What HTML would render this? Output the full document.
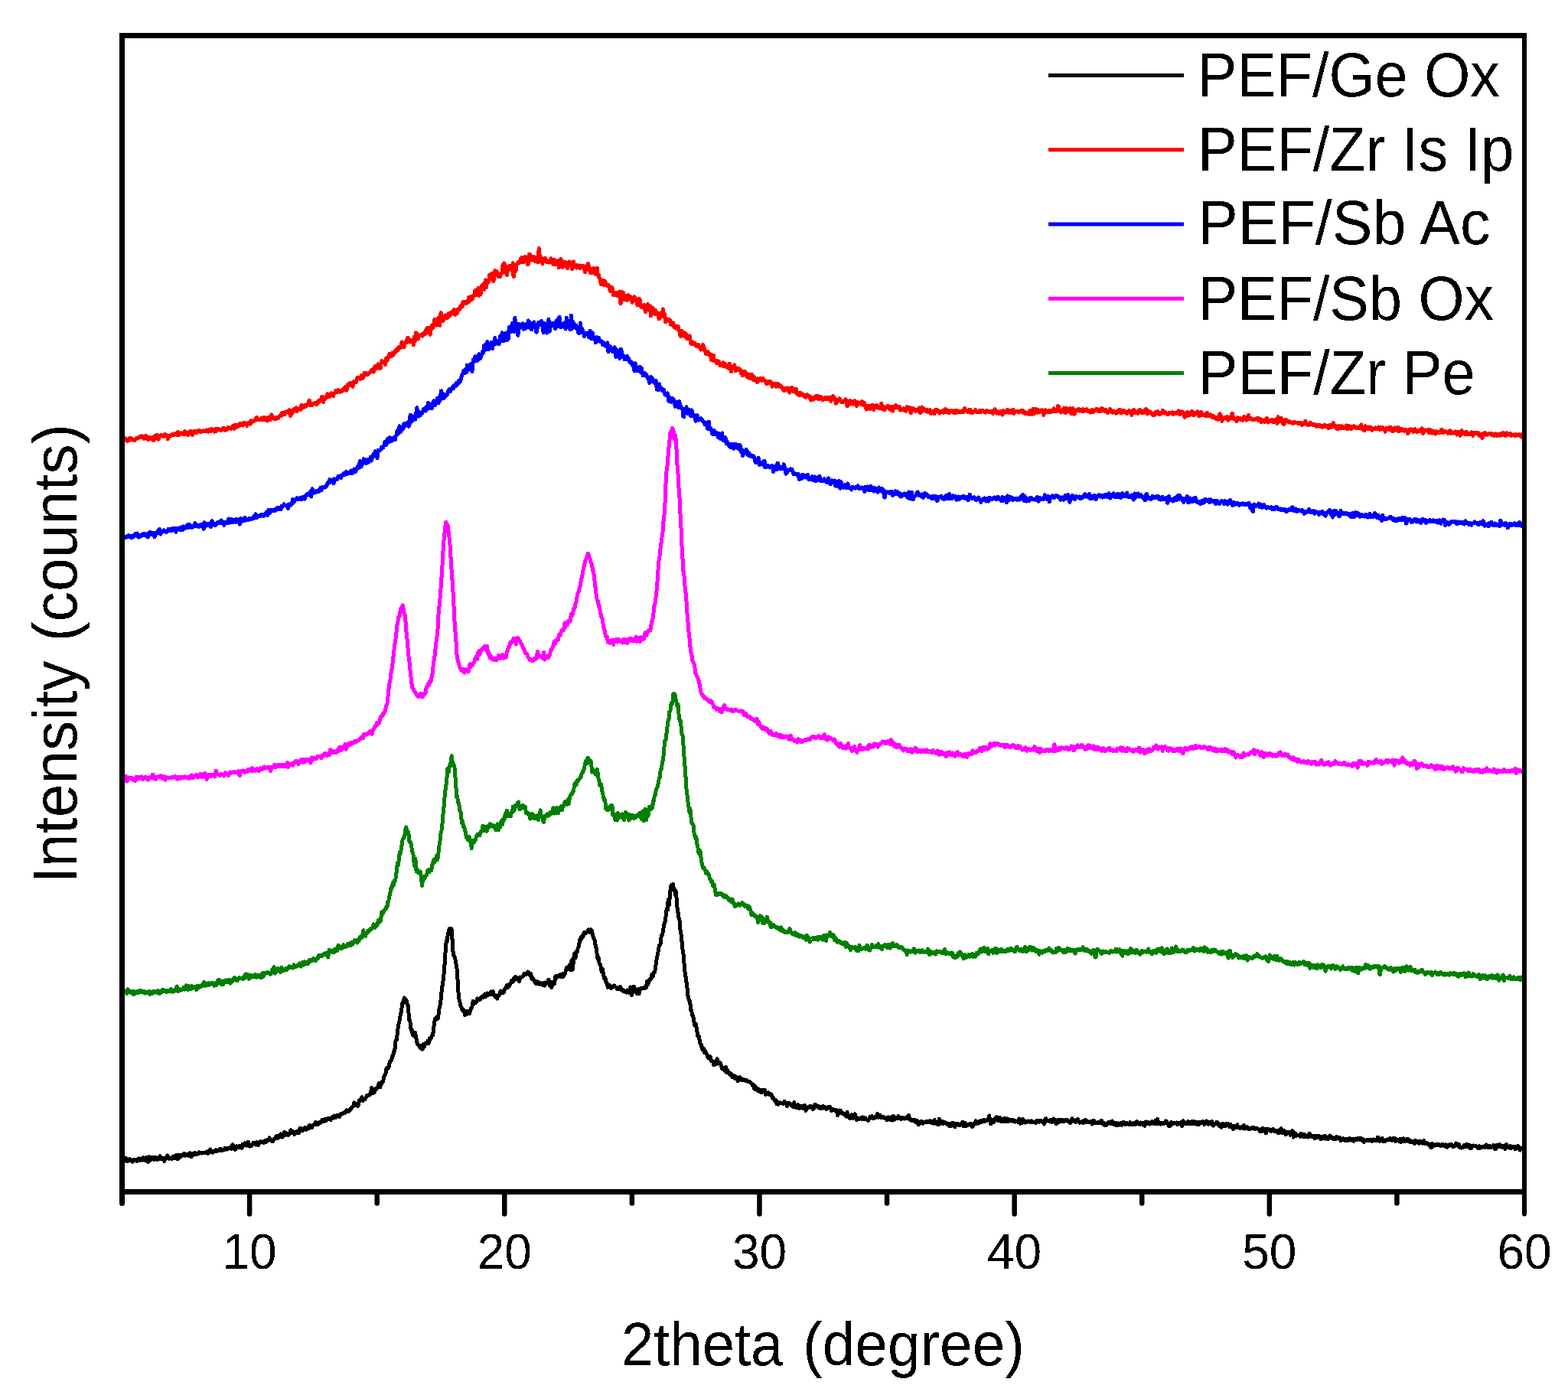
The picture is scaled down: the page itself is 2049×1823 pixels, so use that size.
<!DOCTYPE html>
<html><head><meta charset="utf-8"><title>XRD patterns</title>
<style>html,body{margin:0;padding:0;background:#fff;}body{width:2049px;height:1823px;overflow:hidden;}svg{display:block;}</style>
</head><body>
<svg width="2049" height="1823" viewBox="0 0 2049 1823" font-family="'Liberation Sans', Arial, sans-serif" fill="#000">
<defs><filter id="crisp" filterUnits="userSpaceOnUse" x="0" y="0" width="2049" height="1823"><feComponentTransfer><feFuncA type="discrete" tableValues="0 1"/></feComponentTransfer></filter></defs>
<rect width="2049" height="1823" fill="#fff"/>
<g fill="none" stroke-width="5" stroke-linejoin="round" stroke-linecap="round" shape-rendering="crispEdges">
<polyline stroke="#000000" points="160,1515.1 160.7,1515 161.3,1516.2 162,1514.2 162.7,1513.1 163.3,1516.5 164,1516 164.7,1513.7 165.3,1516.6 166,1517.8 166.7,1515.9 167.3,1515.8 168,1516.2 168.7,1515.8 169.3,1514.6 170,1515.6 170.7,1516.8 171.3,1516.2 172,1516.6 172.7,1516.6 173.3,1518.2 174,1517.5 174.7,1515.3 175.3,1515.9 176,1515.5 176.7,1515.7 177.3,1515.4 178,1515.9 178.7,1517.3 179.3,1515.7 180,1514.7 180.7,1515.2 181.3,1514 182,1515.5 182.7,1516.6 183.3,1514.6 184,1515 184.7,1515.2 185.3,1516 186,1516.1 186.7,1513 187.3,1512.9 188,1514.5 188.7,1515.1 189.3,1516.5 190,1516.9 190.7,1515.4 191.3,1512.7 192,1512.1 192.7,1517.9 193.4,1518.6 194,1515.5 194.7,1514 195.4,1511.7 196,1514.1 196.7,1516.1 197.4,1514.9 198,1514.4 198.7,1513.5 199.4,1513 200,1512.1 200.7,1513.6 201.4,1515.6 202,1513.8 202.7,1514.3 203.4,1514.6 204,1512.6 204.7,1513.3 205.4,1515.9 206,1513.6 206.7,1513.1 207.4,1514.4 208,1512.5 208.7,1510.8 209.4,1511.5 210,1514.2 210.7,1514.5 211.4,1514.9 212,1514.3 212.7,1513 213.4,1513 214,1515.5 214.7,1517.4 215.4,1514.8 216,1513.2 216.7,1513 217.4,1513.5 218,1512 218.7,1510 219.4,1511.5 220,1512.4 220.7,1513.2 221.4,1514.1 222,1513.3 222.7,1513 223.4,1513.2 224,1513.4 224.7,1514.3 225.4,1512.8 226,1511.5 226.7,1511.4 227.4,1511 228,1512.4 228.7,1513.5 229.4,1513.3 230,1510.3 230.7,1509.4 231.4,1510.4 232,1514.8 232.7,1514.7 233.4,1509.8 234,1510.3 234.7,1509.2 235.4,1510.4 236,1512 236.7,1510.1 237.4,1509.8 238,1509.2 238.7,1509.3 239.4,1510 240,1507.9 240.7,1507.3 241.4,1509.1 242,1510.3 242.7,1509.8 243.4,1509.7 244,1509.7 244.7,1508.4 245.4,1508.2 246,1508.9 246.7,1510.4 247.4,1509.4 248,1506.8 248.7,1507.9 249.4,1510.9 250,1511.9 250.7,1510.3 251.4,1507.6 252,1507.8 252.7,1509.5 253.4,1507.8 254,1507.3 254.7,1506.4 255.4,1507.1 256,1509 256.7,1508.9 257.4,1508.9 258,1507.7 258.7,1507.7 259.4,1507.5 260.1,1505.9 260.7,1506.1 261.4,1506.9 262.1,1506.6 262.7,1506.7 263.4,1507.1 264.1,1506.3 264.7,1506.2 265.4,1506.4 266.1,1506.6 266.7,1506.3 267.4,1506.4 268.1,1506.6 268.7,1505.9 269.4,1506.2 270.1,1506 270.7,1505.1 271.4,1507.3 272.1,1506.5 272.7,1503.8 273.4,1504.9 274.1,1503.1 274.7,1502 275.4,1504.6 276.1,1506 276.7,1505.4 277.4,1505.9 278.1,1506.1 278.7,1504.4 279.4,1504 280.1,1504 280.7,1504.2 281.4,1504.1 282.1,1502.7 282.7,1503.8 283.4,1504.9 284.1,1504.2 284.7,1503.9 285.4,1503.9 286.1,1503.6 286.7,1503 287.4,1501.4 288.1,1501.3 288.7,1503.4 289.4,1503.6 290.1,1503.4 290.7,1502.9 291.4,1503.2 292.1,1502 292.7,1501.8 293.4,1502.6 294.1,1500.2 294.7,1500.5 295.4,1501.6 296.1,1501.1 296.7,1502 297.4,1501 298.1,1500.2 298.7,1500.9 299.4,1500.6 300.1,1500.6 300.7,1499.5 301.4,1499.4 302.1,1501.2 302.7,1500.3 303.4,1496.5 304.1,1495.6 304.7,1498.2 305.4,1501.7 306.1,1499.9 306.7,1500.5 307.4,1502.3 308.1,1498.1 308.7,1497.8 309.4,1498.1 310.1,1498.5 310.7,1499.1 311.4,1498.2 312.1,1497.5 312.7,1498.7 313.4,1499.7 314.1,1498.5 314.7,1497.6 315.4,1498.1 316.1,1500.2 316.7,1498.2 317.4,1495.1 318.1,1496.1 318.7,1496.9 319.4,1495.5 320.1,1493.7 320.7,1494.4 321.4,1495.8 322.1,1496.7 322.7,1497 323.4,1494.2 324.1,1492.1 324.7,1494 325.4,1496.7 326.1,1498 326.8,1496.6 327.4,1496.2 328.1,1497.8 328.8,1496.4 329.4,1495.3 330.1,1495.1 330.8,1493.6 331.4,1493.8 332.1,1493.2 332.8,1493.3 333.4,1495.2 334.1,1496 334.8,1495.1 335.4,1492.6 336.1,1493.7 336.8,1495.7 337.4,1496.3 338.1,1495.4 338.8,1493.5 339.4,1493 340.1,1491.8 340.8,1491.4 341.4,1492.5 342.1,1492.4 342.8,1492.2 343.4,1492.3 344.1,1491.8 344.8,1493.6 345.4,1492.7 346.1,1490.5 346.8,1490.3 347.4,1491.8 348.1,1492.4 348.8,1490.4 349.4,1489.5 350.1,1489.8 350.8,1490.2 351.4,1488.9 352.1,1486.8 352.8,1487.5 353.4,1489.5 354.1,1489.6 354.8,1490.5 355.4,1491.6 356.1,1491.8 356.8,1491 357.4,1489.2 358.1,1488.3 358.8,1488 359.4,1487.6 360.1,1485.7 360.8,1486.4 361.4,1487.5 362.1,1484.5 362.8,1484.7 363.4,1487.1 364.1,1486.8 364.8,1486 365.4,1486.1 366.1,1485.3 366.8,1481.9 367.4,1482.7 368.1,1485.4 368.8,1486 369.4,1485.6 370.1,1485 370.8,1482.4 371.4,1479.3 372.1,1481.8 372.8,1483.2 373.4,1481.3 374.1,1480.6 374.8,1481.7 375.4,1482.2 376.1,1482.3 376.8,1483.6 377.4,1483 378.1,1480.9 378.8,1481 379.4,1477.4 380.1,1476.9 380.8,1480.5 381.4,1480.3 382.1,1478.7 382.8,1478.8 383.4,1480.6 384.1,1480.8 384.8,1482.3 385.4,1481.4 386.1,1479.6 386.8,1479.5 387.4,1478.4 388.1,1479.5 388.8,1480.5 389.4,1480.8 390.1,1480.9 390.8,1480.4 391.4,1478.4 392.1,1474.1 392.8,1474.3 393.5,1476.6 394.1,1477.5 394.8,1477.4 395.5,1476.8 396.1,1477.3 396.8,1475.5 397.5,1475.1 398.1,1474.6 398.8,1473.5 399.5,1475.5 400.1,1476.2 400.8,1475.3 401.5,1474.3 402.1,1475.1 402.8,1474.8 403.5,1471.5 404.1,1471.1 404.8,1470.5 405.5,1471.5 406.1,1472.6 406.8,1473.8 407.5,1473.9 408.1,1470.9 408.8,1471.3 409.5,1471 410.1,1470.3 410.8,1469.1 411.5,1468.7 412.1,1467.2 412.8,1466.4 413.5,1469.8 414.1,1469.6 414.8,1467.4 415.5,1467.8 416.1,1469.1 416.8,1468 417.5,1466.2 418.1,1466.7 418.8,1467.3 419.5,1466.7 420.1,1464.9 420.8,1463.5 421.5,1464.6 422.1,1465.5 422.8,1465.9 423.5,1465.8 424.1,1464.2 424.8,1462.2 425.5,1463.3 426.1,1464.5 426.8,1463.2 427.5,1462.9 428.1,1462.3 428.8,1461.4 429.5,1461.5 430.1,1461.6 430.8,1461.7 431.5,1463.2 432.1,1463.5 432.8,1461.4 433.5,1460 434.1,1461.6 434.8,1461.4 435.5,1460.4 436.1,1459 436.8,1458 437.5,1459.2 438.1,1459.8 438.8,1460.7 439.5,1458.8 440.1,1457.6 440.8,1458.6 441.5,1457.1 442.1,1457.5 442.8,1458.4 443.5,1459.3 444.1,1458.1 444.8,1455.8 445.5,1455.9 446.1,1455.9 446.8,1456.1 447.5,1455.5 448.1,1454.6 448.8,1454.2 449.5,1453.9 450.1,1454.7 450.8,1454.5 451.5,1452.7 452.1,1451.8 452.8,1450.8 453.5,1452.8 454.1,1452.5 454.8,1451.2 455.5,1451.2 456.1,1452.3 456.8,1450.7 457.5,1449.3 458.1,1450.3 458.8,1448.1 459.5,1447.4 460.2,1447.3 460.8,1446.2 461.5,1445.5 462.2,1444.4 462.8,1440.9 463.5,1441.5 464.2,1443.6 464.8,1444.1 465.5,1443.2 466.2,1442.1 466.8,1445.3 467.5,1445.3 468.2,1444.1 468.8,1441.4 469.5,1437.8 470.2,1437.7 470.8,1438 471.5,1437 472.2,1435.9 472.8,1433.9 473.5,1436.3 474.2,1438.5 474.8,1436.6 475.5,1436.4 476.2,1436.4 476.8,1436.8 477.5,1435.6 478.2,1434.4 478.8,1432.8 479.5,1431.7 480.2,1432 480.8,1431.5 481.5,1431.3 482.2,1431.3 482.8,1430.8 483.5,1429.7 484.2,1430.4 484.8,1427 485.5,1421.4 486.2,1422.2 486.8,1426.7 487.5,1428.2 488.2,1426.9 488.8,1428.1 489.5,1426.2 490.2,1424.9 490.8,1424.3 491.5,1422 492.2,1422.3 492.8,1422.4 493.5,1420.6 494.2,1419 494.8,1416.8 495.5,1415.5 496.2,1419.7 496.8,1420.9 497.5,1417.2 498.2,1415.5 498.8,1415.8 499.5,1413.6 500.2,1414 500.8,1413.1 501.5,1407.7 502.2,1406.2 502.8,1405.6 503.5,1404 504.2,1402.1 504.8,1397.3 505.5,1395.2 506.2,1397.4 506.8,1395.8 507.5,1395.4 508.2,1393.7 508.8,1390.4 509.5,1387.8 510.2,1387 510.8,1386.7 511.5,1384.9 512.2,1382.8 512.8,1379.9 513.5,1379.4 514.2,1377.4 514.8,1374.2 515.5,1373.9 516.2,1369.1 516.8,1361.5 517.5,1359.5 518.2,1359.4 518.8,1355.4 519.5,1348.3 520.2,1342.3 520.8,1338.8 521.5,1336.6 522.2,1332.9 522.8,1329.5 523.5,1325.3 524.2,1322.7 524.8,1319 525.5,1312.4 526.2,1310 526.9,1311.6 527.5,1308.6 528.2,1303.9 528.9,1306.5 529.5,1307 530.2,1307.1 530.9,1306.4 531.5,1308.8 532.2,1312.9 532.9,1312.4 533.5,1317.1 534.2,1326.4 534.9,1332.8 535.5,1333.9 536.2,1337.1 536.9,1344.3 537.5,1346.8 538.2,1345.6 538.9,1349.9 539.5,1352.8 540.2,1352.3 540.9,1353.4 541.5,1351.8 542.2,1349.1 542.9,1351.8 543.5,1356.1 544.2,1358.4 544.9,1362 545.5,1363.9 546.2,1365.3 546.9,1366.4 547.5,1366.7 548.2,1368.2 548.9,1367.3 549.5,1366.1 550.2,1369.4 550.9,1370.8 551.5,1370.8 552.2,1371.2 552.9,1365.4 553.5,1364.8 554.2,1367.9 554.9,1364.9 555.5,1363.3 556.2,1363.7 556.9,1363 557.5,1363.2 558.2,1361.8 558.9,1360.6 559.5,1361.5 560.2,1363.5 560.9,1361.3 561.5,1356.8 562.2,1356.8 562.9,1357.2 563.5,1356.3 564.2,1354.4 564.9,1353.5 565.5,1353.1 566.2,1348.3 566.9,1341.9 567.5,1337.3 568.2,1333.8 568.9,1330.9 569.5,1330.2 570.2,1329.9 570.9,1329.7 571.5,1331.4 572.2,1330.9 572.9,1326.9 573.5,1321.3 574.2,1316.5 574.9,1314.5 575.5,1310.8 576.2,1305.5 576.9,1297.9 577.5,1290.9 578.2,1287.8 578.9,1282.9 579.5,1276.3 580.2,1271.6 580.9,1262.8 581.5,1251.2 582.2,1242.5 582.9,1233.3 583.5,1229.3 584.2,1229.7 584.9,1224 585.5,1219.4 586.2,1218.5 586.9,1214.8 587.5,1213.7 588.2,1214.3 588.9,1213.3 589.5,1214 590.2,1214.3 590.9,1224.8 591.5,1238.7 592.2,1245 592.9,1248.2 593.6,1249.7 594.2,1251.1 594.9,1253.2 595.6,1257.7 596.2,1260.8 596.9,1265.3 597.6,1272.2 598.2,1283.5 598.9,1295.8 599.6,1304 600.2,1306.9 600.9,1309.5 601.6,1313.6 602.2,1315.1 602.9,1316.4 603.6,1318.9 604.2,1320.4 604.9,1320.5 605.6,1319.6 606.2,1319.7 606.9,1322.8 607.6,1326.7 608.2,1325.3 608.9,1323.8 609.6,1325.7 610.2,1323.4 610.9,1321.4 611.6,1322.9 612.2,1323 612.9,1324.9 613.6,1324.4 614.2,1321.3 614.9,1320.7 615.6,1317.5 616.2,1316.6 616.9,1315.5 617.6,1311.1 618.2,1308.1 618.9,1309 619.6,1311.4 620.2,1310.3 620.9,1310.9 621.6,1310.5 622.2,1310.1 622.9,1307.4 623.6,1304.9 624.2,1306.1 624.9,1306.1 625.6,1306.3 626.2,1305.4 626.9,1306.4 627.6,1306 628.2,1304.1 628.9,1302.9 629.6,1303 630.2,1302.7 630.9,1301.8 631.6,1303.4 632.2,1302.7 632.9,1300.3 633.6,1299.1 634.2,1301 634.9,1302.4 635.6,1301.3 636.2,1299.3 636.9,1298 637.6,1300.4 638.2,1299.7 638.9,1299 639.6,1299.8 640.2,1297.7 640.9,1297.3 641.6,1296 642.2,1296.9 642.9,1299.9 643.6,1296.5 644.2,1295.6 644.9,1300.2 645.6,1300.2 646.2,1299.9 646.9,1302.5 647.6,1303 648.2,1300.7 648.9,1302.6 649.6,1305.1 650.2,1303.3 650.9,1301.8 651.6,1301.5 652.2,1301.3 652.9,1298.9 653.6,1297 654.2,1295.3 654.9,1295 655.6,1296.3 656.2,1297.2 656.9,1297.6 657.6,1296.9 658.2,1297.3 658.9,1294.5 659.6,1292.4 660.3,1291.6 660.9,1291 661.6,1290.3 662.3,1287.5 662.9,1287.1 663.6,1288.4 664.3,1290.3 664.9,1289.2 665.6,1288.4 666.3,1287.3 666.9,1284.9 667.6,1284.7 668.3,1282.2 668.9,1281.1 669.6,1282.5 670.3,1283 670.9,1279.4 671.6,1278.5 672.3,1280.7 672.9,1279.4 673.6,1276.3 674.3,1277.5 674.9,1279.3 675.6,1277.6 676.3,1278.3 676.9,1280 677.6,1280.1 678.3,1282.7 678.9,1281.4 679.6,1277 680.3,1277.9 680.9,1277.3 681.6,1277.1 682.3,1276.9 682.9,1275.7 683.6,1275.5 684.3,1273.4 684.9,1272.5 685.6,1274 686.3,1272.6 686.9,1272.6 687.6,1273.8 688.3,1271.9 688.9,1270.7 689.6,1270.1 690.3,1271.2 690.9,1271.9 691.6,1271.2 692.3,1273.8 692.9,1275.2 693.6,1272.7 694.3,1276.1 694.9,1279.1 695.6,1277.5 696.3,1278.5 696.9,1279.5 697.6,1281.2 698.3,1281.5 698.9,1282.8 699.6,1284.3 700.3,1285.2 700.9,1285.8 701.6,1285.1 702.3,1282.8 702.9,1283 703.6,1284.7 704.3,1286 704.9,1286.4 705.6,1285.8 706.3,1284.2 706.9,1285.1 707.6,1285.3 708.3,1285.1 708.9,1287.3 709.6,1287.5 710.3,1285.5 710.9,1284.5 711.6,1288.1 712.3,1286.2 712.9,1284 713.6,1285.6 714.3,1285.2 714.9,1284.9 715.6,1282.9 716.3,1283.3 716.9,1280 717.6,1281.6 718.3,1288 718.9,1286.5 719.6,1285.9 720.3,1286.6 720.9,1290.4 721.6,1287.7 722.3,1283.3 722.9,1285.4 723.6,1286 724.3,1285.7 724.9,1283 725.6,1276.4 726.3,1275.5 727,1278.4 727.6,1275.3 728.3,1275.4 729,1276.5 729.6,1275.2 730.3,1274.3 731,1274.6 731.6,1274.3 732.3,1273.7 733,1276.8 733.6,1276.7 734.3,1273 735,1272.8 735.6,1275.2 736.3,1276.2 737,1273.8 737.6,1273.2 738.3,1272.5 739,1270.1 739.6,1267.9 740.3,1264.7 741,1264.4 741.6,1265.1 742.3,1266.6 743,1264.8 743.6,1262.3 744.3,1261.1 745,1261.5 745.6,1267.8 746.3,1261.7 747,1254.8 747.6,1264 748.3,1267.2 749,1260 749.6,1254 750.3,1246.8 751,1245.8 751.6,1251.7 752.3,1251.4 753,1246.2 753.6,1243.6 754.3,1243.6 755,1240.1 755.6,1238.1 756.3,1236.4 757,1232.6 757.6,1228.9 758.3,1226.6 759,1228.5 759.6,1224.8 760.3,1223.5 761,1224.8 761.6,1224.3 762.3,1222.5 763,1219 763.6,1218.6 764.3,1218.6 765,1219.5 765.6,1219.3 766.3,1218.3 767,1217.7 767.6,1217 768.3,1216 769,1214.7 769.6,1217.1 770.3,1218.4 771,1217.5 771.6,1215.5 772.3,1214.9 773,1215.8 773.6,1216.7 774.3,1221.2 775,1223.2 775.6,1225.4 776.3,1226.7 777,1228.6 777.6,1232.8 778.3,1235.9 779,1238.3 779.6,1242.3 780.3,1248.7 781,1252.7 781.6,1250.8 782.3,1252.5 783,1257.9 783.6,1260.2 784.3,1260.5 785,1262.9 785.6,1266.5 786.3,1270.1 787,1268 787.6,1266.8 788.3,1272.3 789,1275.5 789.6,1278.3 790.3,1277.8 791,1278.3 791.6,1282.1 792.3,1284.2 793,1284.1 793.7,1287.7 794.3,1290.4 795,1288 795.7,1287 796.3,1289.9 797,1288.9 797.7,1288.8 798.3,1291.6 799,1290.4 799.7,1289.3 800.3,1289.3 801,1289 801.7,1288.9 802.3,1287.9 803,1288.1 803.7,1289.9 804.3,1290.1 805,1290.4 805.7,1290.8 806.3,1291.7 807,1292.9 807.7,1290.3 808.3,1290.9 809,1292.7 809.7,1290.1 810.3,1289.5 811,1291.4 811.7,1293.4 812.3,1293.7 813,1292.9 813.7,1294.4 814.3,1295.2 815,1296 815.7,1295.6 816.3,1294.7 817,1295.2 817.7,1296.1 818.3,1297 819,1296.2 819.7,1294 820.3,1294.3 821,1295.9 821.7,1295.9 822.3,1297.7 823,1295.3 823.7,1290 824.3,1292.4 825,1299.5 825.7,1300.5 826.3,1297.1 827,1296.4 827.7,1292.9 828.3,1289.1 829,1292.6 829.7,1294.9 830.3,1295.7 831,1294.6 831.7,1293.1 832.3,1298.3 833,1297.6 833.7,1292.7 834.3,1293.4 835,1298.8 835.7,1297.2 836.3,1292.2 837,1292.9 837.7,1291.9 838.3,1291.1 839,1291 839.7,1291.7 840.3,1291.2 841,1290.7 841.7,1290.9 842.3,1291.8 843,1291 843.7,1288.6 844.3,1290.7 845,1288.9 845.7,1282.3 846.3,1284.6 847,1285.6 847.7,1281.3 848.3,1280.6 849,1280.6 849.7,1279.4 850.3,1280.2 851,1278.8 851.7,1274.6 852.3,1273 853,1275.8 853.7,1275.1 854.3,1270.3 855,1269.5 855.7,1270 856.3,1266 857,1261.3 857.7,1256.9 858.3,1251.7 859,1249.3 859.7,1245.7 860.4,1241.6 861,1238.2 861.7,1235 862.4,1234.6 863,1233.5 863.7,1227.1 864.4,1222.4 865,1221.9 865.7,1220.9 866.4,1217.1 867,1213 867.7,1208.6 868.4,1205.7 869,1204.9 869.7,1200.4 870.4,1195 871,1188.8 871.7,1187.6 872.4,1189.2 873,1178 873.7,1175 874.4,1183.1 875,1175.4 875.7,1165.3 876.4,1160.3 877,1156.8 877.7,1156.4 878.4,1158.3 879,1156.8 879.7,1155.4 880.4,1163.6 881,1163.1 881.7,1162.3 882.4,1169.5 883,1164 883.7,1167.1 884.4,1180.6 885,1185.9 885.7,1190.3 886.4,1195.1 887,1200 887.7,1200.8 888.4,1206 889,1214.9 889.7,1218.9 890.4,1224.3 891,1230.3 891.7,1238.1 892.4,1244.2 893,1247.1 893.7,1255 894.4,1263.3 895,1269.6 895.7,1275 896.4,1278.6 897,1283.3 897.7,1288.8 898.4,1294.1 899,1301.3 899.7,1304.7 900.4,1307.1 901,1307.6 901.7,1308.7 902.4,1317.7 903,1320.5 903.7,1320.5 904.4,1325.4 905,1328 905.7,1328.2 906.4,1330.5 907,1336.1 907.7,1340.2 908.4,1338.4 909,1337.6 909.7,1341 910.4,1344 911,1348.4 911.7,1353.7 912.4,1354.3 913,1353.6 913.7,1356.6 914.4,1360.8 915,1363.6 915.7,1364.6 916.4,1365.6 917,1368.9 917.7,1371.3 918.4,1369.3 919,1369.6 919.7,1373 920.4,1375.2 921,1375.4 921.7,1373.7 922.4,1374.9 923,1376.9 923.7,1377.8 924.4,1380 925,1381.6 925.7,1382.1 926.4,1383 927.1,1382.1 927.7,1380.3 928.4,1381.8 929.1,1385.5 929.7,1386.4 930.4,1386.5 931.1,1386.7 931.7,1387 932.4,1391.7 933.1,1391.6 933.7,1388.5 934.4,1391 935.1,1390.6 935.7,1389.1 936.4,1387 937.1,1383.9 937.7,1387.8 938.4,1390 939.1,1388.2 939.7,1388.3 940.4,1389.6 941.1,1388.9 941.7,1390.2 942.4,1393.1 943.1,1393.6 943.7,1396.5 944.4,1397.1 945.1,1396 945.7,1396.5 946.4,1398.4 947.1,1399.3 947.7,1398 948.4,1394.2 949.1,1396.8 949.7,1401.6 950.4,1398.9 951.1,1399.3 951.7,1402 952.4,1402 953.1,1403.8 953.7,1404.1 954.4,1402.2 955.1,1402.9 955.7,1404.2 956.4,1406.5 957.1,1407.7 957.7,1405.5 958.4,1405.4 959.1,1405.6 959.7,1406.7 960.4,1409.7 961.1,1408 961.7,1407.1 962.4,1408.3 963.1,1408 963.7,1409.5 964.4,1413 965.1,1412 965.7,1409.5 966.4,1409.7 967.1,1407.9 967.7,1408.7 968.4,1409.6 969.1,1410 969.7,1411.8 970.4,1410.4 971.1,1410 971.7,1410.5 972.4,1411.1 973.1,1411.6 973.7,1411.5 974.4,1412.4 975.1,1412.3 975.7,1411.4 976.4,1412.5 977.1,1413.2 977.7,1413.1 978.4,1413.6 979.1,1413.2 979.7,1414.1 980.4,1414.3 981.1,1414.9 981.7,1415.7 982.4,1416.2 983.1,1417.3 983.7,1419.3 984.4,1419.3 985.1,1417.6 985.7,1422.5 986.4,1423.5 987.1,1419.9 987.7,1420.9 988.4,1421.1 989.1,1423.4 989.7,1425.1 990.4,1423.8 991.1,1423.1 991.7,1424 992.4,1426.5 993.1,1426.8 993.8,1427.1 994.4,1425.1 995.1,1424.5 995.8,1427.4 996.4,1427.1 997.1,1424.6 997.8,1425 998.4,1426.2 999.1,1424 999.8,1426.7 1000.4,1430.4 1001.1,1429.1 1001.8,1429.1 1002.4,1429.5 1003.1,1429.1 1003.8,1427.8 1004.4,1427.8 1005.1,1429.4 1005.8,1430.5 1006.4,1430.5 1007.1,1429.6 1007.8,1430.3 1008.4,1431.3 1009.1,1434.2 1009.8,1435.3 1010.4,1434.4 1011.1,1436.2 1011.8,1436.8 1012.4,1437.7 1013.1,1439.2 1013.8,1437.9 1014.4,1440.3 1015.1,1442.6 1015.8,1439.8 1016.4,1442.8 1017.1,1443.1 1017.8,1440.9 1018.4,1441.9 1019.1,1441 1019.8,1440.9 1020.4,1441.5 1021.1,1441.6 1021.8,1441.1 1022.4,1441.3 1023.1,1441.9 1023.8,1442.5 1024.4,1441.9 1025.1,1439.5 1025.8,1441.3 1026.4,1441.8 1027.1,1441.2 1027.8,1443 1028.4,1445.4 1029.1,1444.6 1029.8,1443.4 1030.4,1443.2 1031.1,1441.2 1031.8,1442.8 1032.4,1442.9 1033.1,1442.9 1033.8,1444.4 1034.4,1443.3 1035.1,1443.9 1035.8,1445.1 1036.4,1446.9 1037.1,1444.1 1037.8,1440.5 1038.4,1444.1 1039.1,1445.3 1039.8,1445.1 1040.4,1447.3 1041.1,1447.4 1041.8,1444.2 1042.4,1443.7 1043.1,1445.8 1043.8,1447.7 1044.4,1448.3 1045.1,1447.7 1045.8,1446.5 1046.4,1445.4 1047.1,1445.4 1047.8,1445.8 1048.4,1447.8 1049.1,1448.4 1049.8,1445.7 1050.4,1446.1 1051.1,1447.3 1051.8,1444.6 1052.4,1447.3 1053.1,1451.5 1053.8,1448.2 1054.4,1447.2 1055.1,1447.6 1055.8,1447 1056.4,1447.3 1057.1,1447.4 1057.8,1446.9 1058.4,1445.3 1059.1,1446.2 1059.8,1447 1060.5,1446.1 1061.1,1446.7 1061.8,1447.2 1062.5,1449.7 1063.1,1449.1 1063.8,1446.1 1064.5,1444.8 1065.1,1443.2 1065.8,1444.1 1066.5,1444.9 1067.1,1445.3 1067.8,1445.1 1068.5,1447 1069.1,1447.5 1069.8,1445.6 1070.5,1447.1 1071.1,1448.2 1071.8,1447.5 1072.5,1448.3 1073.1,1448.3 1073.8,1446.5 1074.5,1448.2 1075.1,1446.3 1075.8,1445.6 1076.5,1448 1077.1,1446.5 1077.8,1446.7 1078.5,1447 1079.1,1448.3 1079.8,1449.4 1080.5,1449.1 1081.1,1447.8 1081.8,1447.3 1082.5,1446.5 1083.1,1447.3 1083.8,1447 1084.5,1446.4 1085.1,1447.7 1085.8,1449.1 1086.5,1451.8 1087.1,1450.6 1087.8,1450.4 1088.5,1450.3 1089.1,1449.9 1089.8,1450.4 1090.5,1450.2 1091.1,1451.3 1091.8,1451.4 1092.5,1450.7 1093.1,1451.5 1093.8,1453.3 1094.5,1457.4 1095.1,1456.6 1095.8,1452.4 1096.5,1451.5 1097.1,1451.6 1097.8,1451 1098.5,1451.5 1099.1,1454.7 1099.8,1454.3 1100.5,1454.4 1101.1,1455.5 1101.8,1454.8 1102.5,1455.5 1103.1,1456.4 1103.8,1456.6 1104.5,1455.8 1105.1,1456.3 1105.8,1459.1 1106.5,1456 1107.1,1453.4 1107.8,1457.1 1108.5,1458.4 1109.1,1457.9 1109.8,1461.4 1110.5,1461.7 1111.1,1460.3 1111.8,1461.1 1112.5,1457.4 1113.1,1456.8 1113.8,1457.7 1114.5,1458.4 1115.1,1461.4 1115.8,1459.7 1116.5,1456.1 1117.1,1455.7 1117.8,1457.7 1118.5,1459.2 1119.1,1462 1119.8,1463.6 1120.5,1463.2 1121.1,1462.8 1121.8,1462 1122.5,1462.4 1123.1,1461.2 1123.8,1461.1 1124.5,1461.2 1125.1,1460.9 1125.8,1462.2 1126.5,1461.7 1127.2,1460 1127.8,1461.7 1128.5,1462.6 1129.2,1460.7 1129.8,1460.5 1130.5,1460.9 1131.2,1462.5 1131.8,1462.9 1132.5,1463.1 1133.2,1463 1133.8,1463.2 1134.5,1464.6 1135.2,1462.9 1135.8,1462 1136.5,1461.3 1137.2,1459.2 1137.8,1459.7 1138.5,1459 1139.2,1458.5 1139.8,1460.4 1140.5,1460.9 1141.2,1461.8 1141.8,1460.3 1142.5,1459.9 1143.2,1460.5 1143.8,1459.5 1144.5,1459.4 1145.2,1460 1145.8,1459.6 1146.5,1455.2 1147.2,1456.5 1147.8,1460.2 1148.5,1459.8 1149.2,1458.4 1149.8,1457.3 1150.5,1458.8 1151.2,1460.2 1151.8,1460.4 1152.5,1460.2 1153.2,1460.3 1153.8,1459.3 1154.5,1459.1 1155.2,1459.9 1155.8,1460.7 1156.5,1461.3 1157.2,1461.4 1157.8,1461.9 1158.5,1462.9 1159.2,1463.7 1159.8,1460.6 1160.5,1460 1161.2,1461.7 1161.8,1460.1 1162.5,1460.4 1163.2,1462.6 1163.8,1463.4 1164.5,1461.1 1165.2,1459.7 1165.8,1461.3 1166.5,1464.2 1167.2,1462.3 1167.8,1458.6 1168.5,1460.4 1169.2,1462 1169.8,1462.3 1170.5,1461.3 1171.2,1460.4 1171.8,1461.8 1172.5,1461.6 1173.2,1460.6 1173.8,1458.5 1174.5,1459.3 1175.2,1461.4 1175.8,1460.4 1176.5,1460.7 1177.2,1461.9 1177.8,1462.6 1178.5,1461.3 1179.2,1460.4 1179.8,1460.4 1180.5,1461.1 1181.2,1462 1181.8,1461.4 1182.5,1461.6 1183.2,1461.4 1183.8,1460.8 1184.5,1460 1185.2,1460.6 1185.8,1461.3 1186.5,1461.2 1187.2,1457.5 1187.8,1457.5 1188.5,1462.4 1189.2,1463.2 1189.8,1463.4 1190.5,1462.9 1191.2,1463.4 1191.8,1464.6 1192.5,1464.8 1193.2,1464.5 1193.9,1463.6 1194.5,1464.2 1195.2,1463.5 1195.9,1465.1 1196.5,1466.7 1197.2,1464.9 1197.9,1465.2 1198.5,1464.5 1199.2,1465.8 1199.9,1469.6 1200.5,1469.3 1201.2,1467 1201.9,1467.9 1202.5,1467.5 1203.2,1465.7 1203.9,1465.2 1204.5,1465.2 1205.2,1467.6 1205.9,1468.1 1206.5,1466.7 1207.2,1466.4 1207.9,1466.6 1208.5,1466.8 1209.2,1466.5 1209.9,1466.3 1210.5,1465.2 1211.2,1465.1 1211.9,1466.7 1212.5,1466.2 1213.2,1465.4 1213.9,1466.8 1214.5,1466.3 1215.2,1464.8 1215.9,1466.7 1216.5,1466.3 1217.2,1465.1 1217.9,1467.7 1218.5,1467.9 1219.2,1467.4 1219.9,1468.2 1220.5,1464.8 1221.2,1463.6 1221.9,1467.6 1222.5,1468 1223.2,1466.4 1223.9,1468.5 1224.5,1467.5 1225.2,1468.2 1225.9,1469.7 1226.5,1467.7 1227.2,1462.4 1227.9,1462.5 1228.5,1468.5 1229.2,1468.1 1229.9,1465.9 1230.5,1465.1 1231.2,1465.2 1231.9,1466.2 1232.5,1468.6 1233.2,1467.1 1233.9,1466.2 1234.5,1467.9 1235.2,1467.9 1235.9,1468.2 1236.5,1468.6 1237.2,1467.9 1237.9,1468.6 1238.5,1469.5 1239.2,1468.6 1239.9,1470.7 1240.5,1471.5 1241.2,1468.6 1241.9,1470.4 1242.5,1471.5 1243.2,1469.1 1243.9,1468.4 1244.5,1467.2 1245.2,1467.3 1245.9,1468.5 1246.5,1468.8 1247.2,1472.2 1247.9,1472.7 1248.5,1469 1249.2,1468.6 1249.9,1469.2 1250.5,1468.1 1251.2,1468.1 1251.9,1469.6 1252.5,1470.9 1253.2,1470.8 1253.9,1469.8 1254.5,1470.3 1255.2,1469 1255.9,1468.8 1256.5,1469.5 1257.2,1468.5 1257.9,1466.1 1258.5,1470.8 1259.2,1471.8 1259.9,1469.1 1260.6,1470.2 1261.2,1467.5 1261.9,1469.8 1262.6,1471.5 1263.2,1469.2 1263.9,1469.8 1264.6,1470.3 1265.2,1469.2 1265.9,1469.2 1266.6,1469.8 1267.2,1468.4 1267.9,1468.3 1268.6,1470.5 1269.2,1470.4 1269.9,1469.6 1270.6,1472.3 1271.2,1472.2 1271.9,1469 1272.6,1468.3 1273.2,1468.9 1273.9,1469 1274.6,1466.7 1275.2,1464.7 1275.9,1465.7 1276.6,1468.1 1277.2,1467.9 1277.9,1466.6 1278.6,1468 1279.2,1467.1 1279.9,1465.7 1280.6,1466.1 1281.2,1464.5 1281.9,1465.3 1282.6,1466.7 1283.2,1465.8 1283.9,1465.6 1284.6,1463.9 1285.2,1465 1285.9,1465.4 1286.6,1463.8 1287.2,1465.1 1287.9,1465.1 1288.6,1464.5 1289.2,1464.2 1289.9,1464.2 1290.6,1464 1291.2,1463.7 1291.9,1460.7 1292.6,1457.8 1293.2,1460.9 1293.9,1464.3 1294.6,1468.9 1295.2,1468.7 1295.9,1463.9 1296.6,1463.2 1297.2,1463.4 1297.9,1463.5 1298.6,1466.3 1299.2,1465.4 1299.9,1461.9 1300.6,1462.7 1301.2,1462 1301.9,1459.9 1302.6,1461.8 1303.2,1460.3 1303.9,1460.2 1304.6,1464.4 1305.2,1462.2 1305.9,1461.4 1306.6,1461.9 1307.2,1460.8 1307.9,1464.1 1308.6,1465.9 1309.2,1463.8 1309.9,1462.6 1310.6,1465 1311.2,1465.4 1311.9,1465.3 1312.6,1465.8 1313.2,1461.4 1313.9,1461.9 1314.6,1464.9 1315.2,1465.5 1315.9,1465 1316.6,1461.9 1317.2,1463 1317.9,1465.1 1318.6,1463.4 1319.2,1463.1 1319.9,1463.3 1320.6,1464.9 1321.2,1464.3 1321.9,1465 1322.6,1464 1323.2,1463.1 1323.9,1465.3 1324.6,1465 1325.2,1464.8 1325.9,1466.1 1326.6,1466.1 1327.3,1464.7 1327.9,1465.8 1328.6,1465.8 1329.3,1465 1329.9,1464.6 1330.6,1466.9 1331.3,1466.2 1331.9,1461.9 1332.6,1464.4 1333.3,1468.2 1333.9,1467.3 1334.6,1466 1335.3,1467.5 1335.9,1467.4 1336.6,1462.6 1337.3,1462.7 1337.9,1465.6 1338.6,1465.8 1339.3,1467 1339.9,1465.3 1340.6,1465.1 1341.3,1466.7 1341.9,1466.2 1342.6,1466 1343.3,1465.1 1343.9,1465 1344.6,1464.9 1345.3,1465.1 1345.9,1465.8 1346.6,1466.7 1347.3,1465.7 1347.9,1464.8 1348.6,1465.7 1349.3,1466.6 1349.9,1466.9 1350.6,1466.4 1351.3,1466.3 1351.9,1466 1352.6,1466.4 1353.3,1467.4 1353.9,1466.7 1354.6,1464.7 1355.3,1464.4 1355.9,1465.1 1356.6,1464.4 1357.3,1464.5 1357.9,1466.1 1358.6,1466.2 1359.3,1465.2 1359.9,1465.3 1360.6,1464.6 1361.3,1464.9 1361.9,1465.5 1362.6,1467 1363.3,1467.3 1363.9,1468.1 1364.6,1468.9 1365.3,1466.3 1365.9,1462.5 1366.6,1461.8 1367.3,1463.4 1367.9,1464.5 1368.6,1464.6 1369.3,1464.3 1369.9,1464.9 1370.6,1464.6 1371.3,1465.4 1371.9,1465 1372.6,1463.5 1373.3,1463.5 1373.9,1466 1374.6,1466.5 1375.3,1464.3 1375.9,1463.2 1376.6,1462 1377.3,1462.6 1377.9,1464.4 1378.6,1464.6 1379.3,1465.2 1379.9,1468.9 1380.6,1468.2 1381.3,1464.2 1381.9,1464.8 1382.6,1463.7 1383.3,1463.6 1383.9,1466.2 1384.6,1466.2 1385.3,1463.8 1385.9,1463.3 1386.6,1465.3 1387.3,1465.1 1387.9,1465.3 1388.6,1464.6 1389.3,1463.7 1389.9,1464.7 1390.6,1465.4 1391.3,1465.2 1391.9,1464 1392.6,1464.6 1393.3,1464 1394,1463.4 1394.6,1464.5 1395.3,1465.5 1396,1465.5 1396.6,1464.9 1397.3,1465.4 1398,1465.7 1398.6,1467.5 1399.3,1467.1 1400,1465.2 1400.6,1462.7 1401.3,1461.9 1402,1464 1402.6,1464.1 1403.3,1464.7 1404,1464.7 1404.6,1464.8 1405.3,1466.5 1406,1464.8 1406.6,1463.5 1407.3,1465 1408,1463.7 1408.6,1462.8 1409.3,1464.9 1410,1465.7 1410.6,1466.9 1411.3,1467.3 1412,1466.6 1412.6,1466.2 1413.3,1465.4 1414,1466.7 1414.6,1467.2 1415.3,1467.7 1416,1467 1416.6,1464.4 1417.3,1465.3 1418,1465.5 1418.6,1463.6 1419.3,1464.6 1420,1466.5 1420.6,1466.5 1421.3,1466.7 1422,1466.9 1422.6,1466 1423.3,1466.1 1424,1466.8 1424.6,1465.8 1425.3,1465.8 1426,1466 1426.6,1468.1 1427.3,1469 1428,1466.1 1428.6,1464.2 1429.3,1464.2 1430,1465.9 1430.6,1466.7 1431.3,1467.4 1432,1467.8 1432.6,1467.4 1433.3,1467.3 1434,1467.5 1434.6,1466.9 1435.3,1466.2 1436,1466.4 1436.6,1467.5 1437.3,1466.7 1438,1466.6 1438.6,1465.1 1439.3,1464.1 1440,1467 1440.6,1468.6 1441.3,1468.9 1442,1468.6 1442.6,1467.5 1443.3,1470.1 1444,1470.9 1444.6,1469.3 1445.3,1470.8 1446,1468.9 1446.6,1469.6 1447.3,1468.8 1448,1466.8 1448.6,1467.8 1449.3,1466.2 1450,1466.9 1450.6,1467.6 1451.3,1468.2 1452,1468.9 1452.6,1467.8 1453.3,1464.9 1454,1465.8 1454.6,1469.1 1455.3,1469.5 1456,1469.1 1456.6,1469.8 1457.3,1467.6 1458,1467.7 1458.6,1470.7 1459.3,1468 1460,1470.4 1460.7,1470.3 1461.3,1468 1462,1468.8 1462.7,1468.6 1463.3,1470.1 1464,1468.6 1464.7,1467.4 1465.3,1469.8 1466,1470.1 1466.7,1467.9 1467.3,1466.6 1468,1466.4 1468.7,1466.5 1469.3,1467.4 1470,1469.3 1470.7,1469.4 1471.3,1467.5 1472,1467.3 1472.7,1468.5 1473.3,1468.7 1474,1469 1474.7,1469.4 1475.3,1469.7 1476,1469.4 1476.7,1466.6 1477.3,1467.1 1478,1470 1478.7,1469.8 1479.3,1469 1480,1469.7 1480.7,1468.5 1481.3,1467.8 1482,1469.2 1482.7,1469.1 1483.3,1467.3 1484,1469.1 1484.7,1468.4 1485.3,1465.4 1486,1467.6 1486.7,1468.6 1487.3,1467.7 1488,1467.1 1488.7,1469.3 1489.3,1469.4 1490,1467.9 1490.7,1467 1491.3,1467.2 1492,1468.8 1492.7,1469.2 1493.3,1468.2 1494,1467.5 1494.7,1468.4 1495.3,1470.9 1496,1471.2 1496.7,1468.3 1497.3,1466 1498,1466.3 1498.7,1468 1499.3,1467.9 1500,1468.5 1500.7,1468.5 1501.3,1466.7 1502,1467.4 1502.7,1469.1 1503.3,1468.2 1504,1467.3 1504.7,1467.5 1505.3,1465.5 1506,1466.4 1506.7,1466.8 1507.3,1466.7 1508,1468.7 1508.7,1468.6 1509.3,1466.4 1510,1464.3 1510.7,1466.3 1511.3,1468.3 1512,1465.5 1512.7,1462.5 1513.3,1465.9 1514,1468.6 1514.7,1468.4 1515.3,1468 1516,1467.1 1516.7,1469.1 1517.3,1468.8 1518,1467.4 1518.7,1468.1 1519.3,1468.7 1520,1468.4 1520.7,1468.2 1521.3,1467.9 1522,1468 1522.7,1466.1 1523.3,1465 1524,1465.8 1524.7,1465.4 1525.3,1467.6 1526,1468.8 1526.7,1468.9 1527.4,1471.3 1528,1469.9 1528.7,1468.1 1529.4,1471.2 1530,1470.2 1530.7,1466.4 1531.4,1466.8 1532,1468.3 1532.7,1468.7 1533.4,1468.8 1534,1468 1534.7,1467 1535.4,1467.1 1536,1467.9 1536.7,1467.5 1537.4,1467.1 1538,1469.1 1538.7,1469.3 1539.4,1467.1 1540,1467.5 1540.7,1468.3 1541.4,1468.1 1542,1468.1 1542.7,1466.9 1543.4,1467.6 1544,1468.9 1544.7,1471.5 1545.4,1467.6 1546,1464.7 1546.7,1468.3 1547.4,1468.1 1548,1468.7 1548.7,1468.2 1549.4,1467.5 1550,1467.1 1550.7,1467.3 1551.4,1468.3 1552,1466.2 1552.7,1465.6 1553.4,1467.4 1554,1468 1554.7,1466.8 1555.4,1466.9 1556,1469 1556.7,1468.4 1557.4,1466 1558,1465.3 1558.7,1467.4 1559.4,1468.4 1560,1466.7 1560.7,1465.7 1561.4,1467.6 1562,1468.7 1562.7,1468.2 1563.4,1466.8 1564,1469.5 1564.7,1469.9 1565.4,1466.4 1566,1466.3 1566.7,1468.2 1567.4,1469 1568,1467.4 1568.7,1466.9 1569.4,1467.2 1570,1467.3 1570.7,1466.7 1571.4,1465.8 1572,1466.7 1572.7,1466 1573.4,1466.5 1574,1469.5 1574.7,1468.2 1575.4,1465.8 1576,1465.1 1576.7,1465 1577.4,1466.1 1578,1466.9 1578.7,1469.2 1579.4,1469.2 1580,1466.2 1580.7,1466.9 1581.4,1468.4 1582,1468.2 1582.7,1466 1583.4,1465.2 1584,1466.8 1584.7,1468.4 1585.4,1471.1 1586,1470.7 1586.7,1468.4 1587.4,1468.7 1588,1468.2 1588.7,1468.7 1589.4,1468 1590,1466.4 1590.7,1466.9 1591.4,1467.7 1592,1470 1592.7,1471.2 1593.4,1470 1594.1,1470.5 1594.7,1469.9 1595.4,1471.5 1596.1,1473.2 1596.7,1469.8 1597.4,1468.3 1598.1,1468.8 1598.7,1468.4 1599.4,1470.5 1600.1,1471.2 1600.7,1470.7 1601.4,1471.2 1602.1,1468.6 1602.7,1468.4 1603.4,1470.8 1604.1,1470.6 1604.7,1469.7 1605.4,1468.8 1606.1,1469.3 1606.7,1472.4 1607.4,1470 1608.1,1469.6 1608.7,1472.4 1609.4,1470.9 1610.1,1472.1 1610.7,1474.2 1611.4,1475.4 1612.1,1473.9 1612.7,1471.6 1613.4,1472.1 1614.1,1473.5 1614.7,1473.1 1615.4,1471.7 1616.1,1471.9 1616.7,1469.8 1617.4,1471 1618.1,1473.6 1618.7,1472.7 1619.4,1473.1 1620.1,1474.1 1620.7,1474.3 1621.4,1473.4 1622.1,1472.6 1622.7,1472.7 1623.4,1473.3 1624.1,1474.5 1624.7,1471.3 1625.4,1470.8 1626.1,1475 1626.7,1475 1627.4,1474 1628.1,1473.9 1628.7,1474.2 1629.4,1474.5 1630.1,1473 1630.7,1473.6 1631.4,1475.2 1632.1,1474.1 1632.7,1475.4 1633.4,1475.7 1634.1,1475 1634.7,1474.8 1635.4,1474.3 1636.1,1474 1636.7,1473.5 1637.4,1473.9 1638.1,1473.5 1638.7,1474.4 1639.4,1475.3 1640.1,1474.5 1640.7,1474.7 1641.4,1474.5 1642.1,1474.2 1642.7,1475 1643.4,1475.3 1644.1,1475.1 1644.7,1475.4 1645.4,1476.6 1646.1,1478.2 1646.7,1477.3 1647.4,1477.3 1648.1,1478.9 1648.7,1477.1 1649.4,1474.5 1650.1,1474.5 1650.7,1475.6 1651.4,1475.8 1652.1,1475.3 1652.7,1478.3 1653.4,1478.5 1654.1,1480.8 1654.7,1480.7 1655.4,1475.1 1656.1,1475.9 1656.7,1475.5 1657.4,1475.1 1658.1,1475.9 1658.7,1476.7 1659.4,1477.9 1660.1,1477.5 1660.8,1478.2 1661.4,1477.7 1662.1,1476 1662.8,1477.1 1663.4,1475.6 1664.1,1475.8 1664.8,1478.1 1665.4,1477.6 1666.1,1478.4 1666.8,1478.8 1667.4,1477.2 1668.1,1477.7 1668.8,1478.1 1669.4,1477.8 1670.1,1480.8 1670.8,1481 1671.4,1478.8 1672.1,1479.3 1672.8,1478.1 1673.4,1475.5 1674.1,1474.9 1674.8,1476.9 1675.4,1480.6 1676.1,1480.7 1676.8,1480.2 1677.4,1480 1678.1,1477.7 1678.8,1478.1 1679.4,1480.1 1680.1,1482.5 1680.8,1481.8 1681.4,1479.6 1682.1,1480.3 1682.8,1480.5 1683.4,1479.6 1684.1,1480.4 1684.8,1479.5 1685.4,1479.7 1686.1,1483.1 1686.8,1481.4 1687.4,1480.3 1688.1,1479.3 1688.8,1477.7 1689.4,1479.8 1690.1,1486.1 1690.8,1484.9 1691.4,1479.9 1692.1,1481.7 1692.8,1481.1 1693.4,1483.7 1694.1,1484.1 1694.8,1483.1 1695.4,1483.9 1696.1,1483.2 1696.8,1483.8 1697.4,1483.8 1698.1,1484.2 1698.8,1485.1 1699.4,1483.5 1700.1,1481.2 1700.8,1482.3 1701.4,1482.5 1702.1,1482.9 1702.8,1485.8 1703.4,1485.8 1704.1,1483.5 1704.8,1482.4 1705.4,1483.4 1706.1,1485.1 1706.8,1485.9 1707.4,1486 1708.1,1485.3 1708.8,1485.9 1709.4,1486.1 1710.1,1485.5 1710.8,1481.4 1711.4,1481.1 1712.1,1483.9 1712.8,1483.3 1713.4,1484.3 1714.1,1485.1 1714.8,1484.1 1715.4,1484.5 1716.1,1485.7 1716.8,1484.7 1717.4,1486.8 1718.1,1487.7 1718.8,1485.6 1719.4,1484.3 1720.1,1484.6 1720.8,1486.3 1721.4,1486.4 1722.1,1485.4 1722.8,1484.3 1723.4,1484.1 1724.1,1485.9 1724.8,1485.7 1725.4,1487.5 1726.1,1488.9 1726.8,1486.3 1727.5,1485.1 1728.1,1485.2 1728.8,1487.8 1729.5,1486.7 1730.1,1484.4 1730.8,1484.1 1731.5,1485.2 1732.1,1488.4 1732.8,1488 1733.5,1485.9 1734.1,1487.8 1734.8,1488.4 1735.5,1488.4 1736.1,1488 1736.8,1485.2 1737.5,1484 1738.1,1484.5 1738.8,1485.9 1739.5,1487 1740.1,1487.1 1740.8,1486.1 1741.5,1487.5 1742.1,1488.1 1742.8,1487.1 1743.5,1487.8 1744.1,1488.1 1744.8,1486.8 1745.5,1488.3 1746.1,1488.1 1746.8,1485.5 1747.5,1486.7 1748.1,1487.8 1748.8,1487 1749.5,1487.4 1750.1,1486.8 1750.8,1486.5 1751.5,1489.5 1752.1,1490.8 1752.8,1489.3 1753.5,1488.9 1754.1,1489.1 1754.8,1487.9 1755.5,1488.7 1756.1,1489.5 1756.8,1488.8 1757.5,1490.5 1758.1,1490.5 1758.8,1488.4 1759.5,1488.3 1760.1,1488.8 1760.8,1490 1761.5,1490.8 1762.1,1489.7 1762.8,1488.8 1763.5,1487.3 1764.1,1487.6 1764.8,1490.1 1765.5,1489.2 1766.1,1488.8 1766.8,1488.5 1767.5,1489.2 1768.1,1490.6 1768.8,1491.3 1769.5,1490.5 1770.1,1488.2 1770.8,1488.7 1771.5,1487.9 1772.1,1488.6 1772.8,1489.6 1773.5,1487.9 1774.1,1487.7 1774.8,1489.1 1775.5,1488.3 1776.1,1487.8 1776.8,1488.8 1777.5,1489.5 1778.1,1488.7 1778.8,1487.4 1779.5,1489.6 1780.1,1490.4 1780.8,1488.7 1781.5,1491.7 1782.1,1492.6 1782.8,1489.5 1783.5,1490.2 1784.1,1490.4 1784.8,1490.7 1785.5,1490.8 1786.1,1489.5 1786.8,1489.5 1787.5,1490.9 1788.1,1490.4 1788.8,1489.8 1789.5,1490.3 1790.1,1490.5 1790.8,1490.1 1791.5,1489.2 1792.1,1489.7 1792.8,1491.2 1793.5,1490.9 1794.2,1489 1794.8,1489.7 1795.5,1490.7 1796.2,1490.4 1796.8,1489.1 1797.5,1489.4 1798.2,1490.4 1798.8,1490.9 1799.5,1490.6 1800.2,1486.2 1800.8,1486.3 1801.5,1490.1 1802.2,1490.9 1802.8,1491.3 1803.5,1490.2 1804.2,1489.5 1804.8,1488.7 1805.5,1487.9 1806.2,1487.6 1806.8,1488.4 1807.5,1491.4 1808.2,1491.3 1808.8,1490.3 1809.5,1491.4 1810.2,1490.9 1810.8,1489.8 1811.5,1490.8 1812.2,1490 1812.8,1489.7 1813.5,1489 1814.2,1488.4 1814.8,1489 1815.5,1489.1 1816.2,1489.2 1816.8,1487.7 1817.5,1488.3 1818.2,1489.7 1818.8,1490.3 1819.5,1487.8 1820.2,1487.6 1820.8,1488.4 1821.5,1488.2 1822.2,1487.6 1822.8,1488.9 1823.5,1491.3 1824.2,1490 1824.8,1488.6 1825.5,1489.3 1826.2,1490.3 1826.8,1489.7 1827.5,1490.6 1828.2,1491.4 1828.8,1490.8 1829.5,1488.6 1830.2,1491.5 1830.8,1492.6 1831.5,1488.1 1832.2,1488.9 1832.8,1491.8 1833.5,1490.4 1834.2,1487.6 1834.8,1489.3 1835.5,1491.3 1836.2,1490.5 1836.8,1490 1837.5,1491.1 1838.2,1489.3 1838.8,1488.2 1839.5,1490.4 1840.2,1491.6 1840.8,1491.6 1841.5,1489.4 1842.2,1490.3 1842.8,1492.4 1843.5,1490.9 1844.2,1491.1 1844.8,1492.4 1845.5,1491.8 1846.2,1491.8 1846.8,1492.1 1847.5,1492.7 1848.2,1494.5 1848.8,1493.6 1849.5,1490.7 1850.2,1490.8 1850.8,1492.3 1851.5,1492.2 1852.2,1491.2 1852.8,1491.2 1853.5,1493.1 1854.2,1494.2 1854.8,1492.4 1855.5,1491.7 1856.2,1492.4 1856.8,1491.8 1857.5,1493.2 1858.2,1494 1858.8,1493.4 1859.5,1493.7 1860.2,1492.3 1860.9,1490.7 1861.5,1492.6 1862.2,1494.9 1862.9,1494.6 1863.5,1493.8 1864.2,1493.6 1864.9,1494.5 1865.5,1494.3 1866.2,1494.5 1866.9,1496.1 1867.5,1495.3 1868.2,1496 1868.9,1496.9 1869.5,1497.8 1870.2,1499.9 1870.9,1496.2 1871.5,1494.5 1872.2,1495.6 1872.9,1495.5 1873.5,1497.3 1874.2,1497 1874.9,1496.2 1875.5,1496.7 1876.2,1495.7 1876.9,1495.3 1877.5,1495.7 1878.2,1495.8 1878.9,1496.8 1879.5,1496 1880.2,1495.6 1880.9,1496.5 1881.5,1496.3 1882.2,1497.2 1882.9,1497.1 1883.5,1497 1884.2,1495.9 1884.9,1495.1 1885.5,1495.5 1886.2,1496.5 1886.9,1497.9 1887.5,1496.5 1888.2,1496 1888.9,1495.6 1889.5,1497 1890.2,1499.2 1890.9,1499.2 1891.5,1498.3 1892.2,1496.7 1892.9,1496.5 1893.5,1497.3 1894.2,1497.3 1894.9,1495.4 1895.5,1495.6 1896.2,1495.9 1896.9,1495.4 1897.5,1497.4 1898.2,1498.2 1898.9,1498.2 1899.5,1498.3 1900.2,1498 1900.9,1497.1 1901.5,1497.3 1902.2,1496.8 1902.9,1494 1903.5,1494.7 1904.2,1496.4 1904.9,1497 1905.5,1497.5 1906.2,1495.2 1906.9,1496.2 1907.5,1499.7 1908.2,1499.5 1908.9,1499.8 1909.5,1500.1 1910.2,1499.8 1910.9,1499.5 1911.5,1498.7 1912.2,1499 1912.9,1497.4 1913.5,1496.4 1914.2,1497.7 1914.9,1497.7 1915.5,1498.5 1916.2,1497.3 1916.9,1495.3 1917.5,1496.6 1918.2,1497.3 1918.9,1498.5 1919.5,1496.2 1920.2,1496.2 1920.9,1500.9 1921.5,1498.5 1922.2,1498.1 1922.9,1500.1 1923.5,1497.4 1924.2,1497.9 1924.9,1497.9 1925.5,1496.9 1926.2,1497.4 1926.9,1497.4 1927.6,1497.1 1928.2,1497.1 1928.9,1498.1 1929.6,1498.3 1930.2,1498.2 1930.9,1499.4 1931.6,1500.3 1932.2,1498.1 1932.9,1497.7 1933.6,1499.4 1934.2,1500.2 1934.9,1499.4 1935.6,1499.5 1936.2,1499.8 1936.9,1498.4 1937.6,1498.3 1938.2,1498.3 1938.9,1498.6 1939.6,1498.8 1940.2,1499.5 1940.9,1499.4 1941.6,1496.7 1942.2,1496 1942.9,1497.5 1943.6,1498.3 1944.2,1499.2 1944.9,1499.4 1945.6,1497.9 1946.2,1497.4 1946.9,1498.2 1947.6,1499.3 1948.2,1499.6 1948.9,1499.2 1949.6,1498.3 1950.2,1498.2 1950.9,1498.2 1951.6,1496.6 1952.2,1497.7 1952.9,1499.4 1953.6,1501.7 1954.2,1501.9 1954.9,1498.7 1955.6,1496.1 1956.2,1496.5 1956.9,1498.3 1957.6,1498.5 1958.2,1498.6 1958.9,1496.8 1959.6,1495.6 1960.2,1497.1 1960.9,1498.7 1961.6,1498.2 1962.2,1497.3 1962.9,1497.5 1963.6,1498.8 1964.2,1499.9 1964.9,1499.4 1965.6,1497.2 1966.2,1498.8 1966.9,1501.4 1967.6,1499.5 1968.2,1495.6 1968.9,1495.9 1969.6,1498.1 1970.2,1497.9 1970.9,1498.6 1971.6,1498.5 1972.2,1499.9 1972.9,1500.1 1973.6,1497.7 1974.2,1498 1974.9,1500.2 1975.6,1499.6 1976.2,1498.5 1976.9,1498.9 1977.6,1499.2 1978.2,1499.1 1978.9,1498.3 1979.6,1500.5 1980.2,1501.7 1980.9,1500.3 1981.6,1499.8 1982.2,1500.9 1982.9,1499 1983.6,1497.5 1984.2,1499.3 1984.9,1498.4 1985.6,1501.7 1986.2,1503 1986.9,1500.1 1987.6,1501.7 1988.2,1501.3 1988.9,1500.7 1989.6,1500.3 1990.2,1500.4 1990.9,1500.7"/>
<polyline stroke="#008000" points="160,1295.9 160.7,1297.7 161.3,1297.5 162,1295 162.7,1295.5 163.3,1295.6 164,1296.2 164.7,1295.7 165.3,1296.6 166,1298.6 166.7,1293.5 167.3,1292.7 168,1295.4 168.7,1294.8 169.3,1295.8 170,1296.3 170.7,1296.3 171.3,1297.8 172,1297.4 172.7,1295.2 173.3,1296 174,1298.4 174.7,1299.5 175.3,1298.9 176,1295.9 176.7,1296.4 177.3,1298.2 178,1297.7 178.7,1297.2 179.3,1295.6 180,1296.4 180.7,1297.3 181.3,1297.2 182,1296.2 182.7,1294.6 183.3,1295.9 184,1294.4 184.7,1295.5 185.3,1296.9 186,1295.4 186.7,1296.3 187.3,1295.8 188,1295.1 188.7,1296 189.3,1298.1 190,1298 190.7,1296.8 191.3,1296.7 192,1296.6 192.7,1296.3 193.4,1297.5 194,1296.9 194.7,1295.1 195.4,1297.2 196,1299.4 196.7,1297.6 197.4,1296.7 198,1297.2 198.7,1298.2 199.4,1296.4 200,1295.8 200.7,1297.2 201.4,1295.9 202,1296.2 202.7,1296.4 203.4,1296 204,1295.3 204.7,1296.8 205.4,1297.9 206,1295.3 206.7,1294.4 207.4,1296.1 208,1297.3 208.7,1298.6 209.4,1297 210,1296.2 210.7,1297 211.4,1294.3 212,1293.3 212.7,1294 213.4,1293.2 214,1294.3 214.7,1295.3 215.4,1295.2 216,1294.2 216.7,1294.8 217.4,1296.5 218,1296 218.7,1295.8 219.4,1295 220,1294.1 220.7,1295.7 221.4,1295.4 222,1293.8 222.7,1293.6 223.4,1292.3 224,1293.7 224.7,1296 225.4,1295.5 226,1294.9 226.7,1295.9 227.4,1295.2 228,1294.8 228.7,1294.3 229.4,1292.7 230,1292.3 230.7,1289.9 231.4,1289.1 232,1292.8 232.7,1295.5 233.4,1293.2 234,1292.3 234.7,1294.5 235.4,1294.4 236,1293.7 236.7,1293.2 237.4,1293.6 238,1293 238.7,1293 239.4,1292.8 240,1290.2 240.7,1292.3 241.4,1293 242,1290.6 242.7,1290.2 243.4,1287.8 244,1288.3 244.7,1292.6 245.4,1293.9 246,1292.3 246.7,1288.5 247.4,1289.3 248,1292.5 248.7,1292.5 249.4,1292.4 250,1290 250.7,1288.4 251.4,1290.3 252,1291 252.7,1289.3 253.4,1289.7 254,1290 254.7,1289.5 255.4,1290.6 256,1290.8 256.7,1293.7 257.4,1292.4 258,1288.1 258.7,1290.3 259.4,1290.5 260.1,1289.9 260.7,1289.7 261.4,1288.8 262.1,1289.9 262.7,1289.6 263.4,1288.4 264.1,1288.7 264.7,1286.6 265.4,1285.1 266.1,1286.2 266.7,1283.3 267.4,1284.1 268.1,1288.1 268.7,1287.3 269.4,1286.9 270.1,1285.1 270.7,1284.9 271.4,1287.6 272.1,1285.7 272.7,1284.9 273.4,1287.2 274.1,1286.1 274.7,1285.2 275.4,1284.9 276.1,1285.3 276.7,1285.7 277.4,1284.4 278.1,1284.1 278.7,1284.5 279.4,1287.6 280.1,1288.2 280.7,1285.2 281.4,1284.9 282.1,1284.9 282.7,1287.4 283.4,1286.9 284.1,1282.5 284.7,1281.8 285.4,1280 286.1,1280 286.7,1283.3 287.4,1283.4 288.1,1284 288.7,1286.2 289.4,1284.1 290.1,1282.8 290.7,1284.1 291.4,1286.6 292.1,1285.4 292.7,1282.5 293.4,1282.8 294.1,1281.4 294.7,1281 295.4,1283.3 296.1,1283.6 296.7,1281.7 297.4,1282.7 298.1,1283.7 298.7,1283.7 299.4,1280.1 300.1,1282.5 300.7,1285.2 301.4,1282.6 302.1,1282.9 302.7,1282.7 303.4,1283 304.1,1281.9 304.7,1279.5 305.4,1279.4 306.1,1278.3 306.7,1277.5 307.4,1279 308.1,1278.7 308.7,1279.8 309.4,1281.3 310.1,1281.7 310.7,1280.6 311.4,1279.8 312.1,1278.3 312.7,1277.3 313.4,1278.9 314.1,1279 314.7,1278.2 315.4,1278.8 316.1,1278 316.7,1278.3 317.4,1279.3 318.1,1276.6 318.7,1275.8 319.4,1278.7 320.1,1278.2 320.7,1273.6 321.4,1273.1 322.1,1276 322.7,1275.5 323.4,1273.5 324.1,1273.6 324.7,1276.1 325.4,1279.3 326.1,1277.2 326.8,1275 327.4,1276.2 328.1,1274.4 328.8,1275.1 329.4,1277.1 330.1,1276.2 330.8,1275.5 331.4,1275.7 332.1,1276.4 332.8,1275.2 333.4,1273.6 334.1,1276.7 334.8,1277.1 335.4,1274.1 336.1,1275.6 336.8,1276.1 337.4,1274.9 338.1,1275 338.8,1275.3 339.4,1274.7 340.1,1277.5 340.8,1277.7 341.4,1274.6 342.1,1274.7 342.8,1271.7 343.4,1273.9 344.1,1276.3 344.8,1271.5 345.4,1271.3 346.1,1273 346.8,1272.4 347.4,1271.4 348.1,1271.3 348.8,1270.7 349.4,1270.3 350.1,1271.3 350.8,1271.8 351.4,1271.5 352.1,1272.1 352.8,1273.2 353.4,1273.2 354.1,1272 354.8,1269.8 355.4,1267.5 356.1,1268.1 356.8,1269.9 357.4,1264.9 358.1,1263.7 358.8,1270.5 359.4,1272 360.1,1270.9 360.8,1269.8 361.4,1268.2 362.1,1268.5 362.8,1268.3 363.4,1265.7 364.1,1265.7 364.8,1268.1 365.4,1267.8 366.1,1268.8 366.8,1270.6 367.4,1266.5 368.1,1264.5 368.8,1266.9 369.4,1266.7 370.1,1269 370.8,1268.6 371.4,1267.1 372.1,1267.1 372.8,1266.8 373.4,1265.6 374.1,1265.2 374.8,1267.3 375.4,1266.3 376.1,1264.7 376.8,1264.2 377.4,1263.3 378.1,1262.8 378.8,1263.8 379.4,1264.2 380.1,1263.9 380.8,1264.8 381.4,1264 382.1,1263.4 382.8,1265 383.4,1263.8 384.1,1260.7 384.8,1261.6 385.4,1263.8 386.1,1262.7 386.8,1263.7 387.4,1262.9 388.1,1261.6 388.8,1262.3 389.4,1261.3 390.1,1261.5 390.8,1260.2 391.4,1258.9 392.1,1260 392.8,1262.5 393.5,1263 394.1,1258.6 394.8,1258 395.5,1258.6 396.1,1257.9 396.8,1261.1 397.5,1260.5 398.1,1256.7 398.8,1258.7 399.5,1259.1 400.1,1257.3 400.8,1257.3 401.5,1258.8 402.1,1259.7 402.8,1258.4 403.5,1256.2 404.1,1254.8 404.8,1257.1 405.5,1256.6 406.1,1254 406.8,1255.3 407.5,1255.8 408.1,1254.6 408.8,1254.1 409.5,1252.4 410.1,1252.9 410.8,1254.2 411.5,1254.6 412.1,1255.8 412.8,1254.9 413.5,1253.2 414.1,1252.5 414.8,1253.1 415.5,1252.9 416.1,1248.9 416.8,1248.1 417.5,1249 418.1,1249.7 418.8,1249.4 419.5,1248.7 420.1,1249 420.8,1249.5 421.5,1249 422.1,1247.2 422.8,1246.8 423.5,1246.3 424.1,1246.7 424.8,1247.3 425.5,1247.1 426.1,1245.4 426.8,1245.4 427.5,1246.5 428.1,1248 428.8,1251.1 429.5,1244.9 430.1,1241.5 430.8,1243.8 431.5,1243.8 432.1,1243 432.8,1242.4 433.5,1244 434.1,1243.8 434.8,1242.4 435.5,1242.7 436.1,1244.8 436.8,1243.4 437.5,1240 438.1,1240.1 438.8,1241.1 439.5,1240.9 440.1,1242.9 440.8,1242.3 441.5,1237.9 442.1,1235.2 442.8,1236.9 443.5,1239.3 444.1,1239.1 444.8,1239.9 445.5,1239.2 446.1,1237.3 446.8,1239 447.5,1239.1 448.1,1236.8 448.8,1234.6 449.5,1235 450.1,1236.9 450.8,1237 451.5,1237.3 452.1,1237.4 452.8,1236.8 453.5,1236.3 454.1,1234.6 454.8,1233.2 455.5,1234.3 456.1,1234.1 456.8,1233.5 457.5,1232.8 458.1,1236 458.8,1234.5 459.5,1231.4 460.2,1234.3 460.8,1233.9 461.5,1231.9 462.2,1231.6 462.8,1230.1 463.5,1228.8 464.2,1230.1 464.8,1230.8 465.5,1229.1 466.2,1228.4 466.8,1232.1 467.5,1230.8 468.2,1227.8 468.8,1230.1 469.5,1228.8 470.2,1225.2 470.8,1224.6 471.5,1226 472.2,1225.9 472.8,1225.6 473.5,1224.7 474.2,1218.9 474.8,1215.7 475.5,1220.2 476.2,1222.4 476.8,1222.7 477.5,1223.2 478.2,1221.3 478.8,1219.9 479.5,1219.8 480.2,1218 480.8,1216.5 481.5,1217.3 482.2,1217.2 482.8,1215.3 483.5,1214.3 484.2,1213.5 484.8,1214.5 485.5,1214.2 486.2,1212.9 486.8,1212.2 487.5,1209.9 488.2,1207.8 488.8,1208.1 489.5,1211 490.2,1212.4 490.8,1210.6 491.5,1209.4 492.2,1208.9 492.8,1209.2 493.5,1207.1 494.2,1203 494.8,1202.3 495.5,1203.1 496.2,1204.9 496.8,1203.7 497.5,1203.2 498.2,1196.8 498.8,1191.8 499.5,1193.9 500.2,1193.4 500.8,1193.1 501.5,1192 502.2,1189.7 502.8,1188.6 503.5,1188.7 504.2,1188.1 504.8,1184.7 505.5,1185.5 506.2,1184.1 506.8,1178 507.5,1178.3 508.2,1174.9 508.8,1170.6 509.5,1169.3 510.2,1165.3 510.8,1160.8 511.5,1159.6 512.2,1160.4 512.8,1156.6 513.5,1153.5 514.2,1156.8 514.8,1155.6 515.5,1150 516.2,1151.4 516.8,1150.1 517.5,1142.4 518.2,1139.6 518.8,1133.3 519.5,1127.9 520.2,1130.7 520.8,1128.2 521.5,1119.9 522.2,1114.2 522.8,1115.7 523.5,1114.2 524.2,1109.9 524.8,1106 525.5,1100.8 526.2,1097.1 526.9,1095.3 527.5,1094.8 528.2,1094.7 528.9,1091 529.5,1086 530.2,1082.2 530.9,1081 531.5,1085.4 532.2,1088.4 532.9,1089.8 533.5,1087.4 534.2,1091.1 534.9,1098.9 535.5,1100.7 536.2,1100.4 536.9,1102.2 537.5,1104.8 538.2,1109.3 538.9,1113.4 539.5,1114.6 540.2,1117.9 540.9,1125.4 541.5,1131.3 542.2,1125.4 542.9,1121.9 543.5,1134.6 544.2,1139.1 544.9,1135.6 545.5,1136.8 546.2,1138.2 546.9,1140.5 547.5,1139.9 548.2,1141.1 548.9,1139.9 549.5,1139 550.2,1145.2 550.9,1151.7 551.5,1157.4 552.2,1152.2 552.9,1145.6 553.5,1146.3 554.2,1147.9 554.9,1148.6 555.5,1145.6 556.2,1144.9 556.9,1144.2 557.5,1143.5 558.2,1140.5 558.9,1137.3 559.5,1137.6 560.2,1136.7 560.9,1139.7 561.5,1138.8 562.2,1136 562.9,1135.6 563.5,1137.6 564.2,1135.4 564.9,1129.1 565.5,1130 566.2,1124.9 566.9,1123.4 567.5,1126.2 568.2,1126.4 568.9,1125.2 569.5,1123.1 570.2,1118.6 570.9,1117.9 571.5,1123.5 572.2,1121.1 572.9,1114.6 573.5,1109.7 574.2,1102.9 574.9,1100.4 575.5,1094.6 576.2,1087 576.9,1086 577.5,1081.7 578.2,1073.4 578.9,1065.6 579.5,1059.8 580.2,1052.8 580.9,1043.3 581.5,1035.5 582.2,1031.6 582.9,1026.6 583.5,1020.7 584.2,1013.7 584.9,1004.4 585.5,1005.4 586.2,1008.9 586.9,1003.5 587.5,1000.3 588.2,999.3 588.9,997.1 589.5,992.9 590.2,987.8 590.9,992.2 591.5,1000.3 592.2,997.7 592.9,1000 593.6,1000.5 594.2,1004.4 594.9,1015 595.6,1019.5 596.2,1034.3 596.9,1042.2 597.6,1040.6 598.2,1045.5 598.9,1048.9 599.6,1049.4 600.2,1054 600.9,1059.2 601.6,1061.1 602.2,1061.7 602.9,1069.6 603.6,1075.4 604.2,1072.6 604.9,1075.4 605.6,1080.5 606.2,1079.4 606.9,1082 607.6,1085 608.2,1087 608.9,1091.7 609.6,1094.8 610.2,1095.2 610.9,1094.7 611.6,1097.3 612.2,1094.7 612.9,1093.1 613.6,1097.1 614.2,1100.5 614.9,1100.4 615.6,1102.2 616.2,1108.6 616.9,1105 617.6,1098.1 618.2,1098.6 618.9,1098.9 619.6,1100.2 620.2,1097.7 620.9,1097.1 621.6,1097.5 622.2,1093.5 622.9,1092.4 623.6,1091.2 624.2,1090.2 624.9,1091.7 625.6,1091.2 626.2,1091.4 626.9,1091.7 627.6,1088.5 628.2,1086.8 628.9,1086.6 629.6,1086.4 630.2,1084.8 630.9,1079.4 631.6,1079.7 632.2,1082.9 632.9,1083.3 633.6,1085.4 634.2,1083.2 634.9,1080.1 635.6,1085.2 636.2,1086.3 636.9,1082 637.6,1079.3 638.2,1080.4 638.9,1081.3 639.6,1078.3 640.2,1076.7 640.9,1077.4 641.6,1079.5 642.2,1078.6 642.9,1078.7 643.6,1080.1 644.2,1078.8 644.9,1079.5 645.6,1079 646.2,1079.1 646.9,1081.9 647.6,1083.5 648.2,1085 648.9,1084.6 649.6,1079 650.2,1076.8 650.9,1081.5 651.6,1084.7 652.2,1080.6 652.9,1079.1 653.6,1081 654.2,1079.3 654.9,1074 655.6,1071.9 656.2,1077.8 656.9,1075.4 657.6,1070.4 658.2,1071 658.9,1071.2 659.6,1067.2 660.3,1063.6 660.9,1066.4 661.6,1061.2 662.3,1059.1 662.9,1064.4 663.6,1063.8 664.3,1066.9 664.9,1066.2 665.6,1063.6 666.3,1063 666.9,1064.8 667.6,1066.8 668.3,1062.3 668.9,1061 669.6,1061.8 670.3,1054.4 670.9,1055.2 671.6,1059.5 672.3,1057.2 672.9,1054.6 673.6,1052.7 674.3,1053.8 674.9,1053.9 675.6,1052.8 676.3,1049.2 676.9,1048.9 677.6,1048 678.3,1054.8 678.9,1057.7 679.6,1054.5 680.3,1055.4 680.9,1056.5 681.6,1056.8 682.3,1052.7 682.9,1052.1 683.6,1053.8 684.3,1053.2 684.9,1054.5 685.6,1054.1 686.3,1054.1 686.9,1058 687.6,1062.5 688.3,1062.9 688.9,1062.2 689.6,1063.2 690.3,1062.2 690.9,1064.6 691.6,1065 692.3,1067.6 692.9,1070.1 693.6,1066.5 694.3,1065.7 694.9,1064.9 695.6,1063.3 696.3,1067.4 696.9,1068 697.6,1069.2 698.3,1068.7 698.9,1066 699.6,1066.3 700.3,1067.3 700.9,1069.4 701.6,1067.8 702.3,1065.5 702.9,1069.2 703.6,1071.3 704.3,1068.4 704.9,1068.4 705.6,1062.1 706.3,1058.8 706.9,1066.2 707.6,1067.8 708.3,1066.9 708.9,1069.5 709.6,1071.5 710.3,1074.5 710.9,1073.3 711.6,1067 712.3,1066 712.9,1067.5 713.6,1065.9 714.3,1066.5 714.9,1066.5 715.6,1063.2 716.3,1063.6 716.9,1063.1 717.6,1065.8 718.3,1065.2 718.9,1061.2 719.6,1063 720.3,1061.4 720.9,1061.3 721.6,1063 722.3,1058.6 722.9,1055.7 723.6,1060 724.3,1061.6 724.9,1063 725.6,1059.7 726.3,1060.4 727,1061.7 727.6,1055.1 728.3,1056.9 729,1062.5 729.6,1062.4 730.3,1058 731,1057.4 731.6,1058.4 732.3,1054.3 733,1053.9 733.6,1058.1 734.3,1058.6 735,1056 735.6,1053.4 736.3,1053 737,1053.3 737.6,1050.1 738.3,1047.4 739,1047.4 739.6,1048.7 740.3,1050.2 741,1051 741.6,1048.7 742.3,1044.8 743,1050.9 743.6,1049.5 744.3,1042.4 745,1040.2 745.6,1039.7 746.3,1037.8 747,1036.9 747.6,1037.2 748.3,1034.9 749,1035.2 749.6,1032 750.3,1028.8 751,1024.5 751.6,1023.8 752.3,1026.3 753,1025.4 753.6,1022.3 754.3,1019.7 755,1019.9 755.6,1020.2 756.3,1018.7 757,1017.8 757.6,1017.4 758.3,1016.1 759,1015.7 759.6,1012 760.3,1010.7 761,1010 761.6,1008.6 762.3,1007.4 763,1005.7 763.6,1004.1 764.3,998.3 765,996.7 765.6,994.4 766.3,994.1 767,997.7 767.6,991.9 768.3,990.1 769,992.6 769.6,992.3 770.3,994.2 771,994.2 771.6,997.3 772.3,994.5 773,1001.6 773.6,1009.1 774.3,1007.5 775,1007.4 775.6,1006.9 776.3,1007.9 777,1008.4 777.6,1011.1 778.3,1012.1 779,1012.3 779.6,1007.9 780.3,1005.1 781,1009.3 781.6,1015 782.3,1018.4 783,1020.3 783.6,1025.7 784.3,1026.9 785,1024.7 785.6,1025 786.3,1030.1 787,1034.7 787.6,1036.3 788.3,1040.8 789,1043.6 789.6,1045.8 790.3,1044.6 791,1048.7 791.6,1056.7 792.3,1053.6 793,1055.6 793.7,1058.9 794.3,1055.6 795,1057.8 795.7,1058 796.3,1055.9 797,1055.5 797.7,1052.8 798.3,1052.4 799,1056.5 799.7,1052.6 800.3,1056.2 801,1065.4 801.7,1066 802.3,1065.9 803,1065.1 803.7,1071.1 804.3,1071.8 805,1064.2 805.7,1065.7 806.3,1072.2 807,1068.9 807.7,1062.3 808.3,1064.7 809,1067 809.7,1068.4 810.3,1067.2 811,1065.6 811.7,1067.7 812.3,1066.6 813,1063.9 813.7,1066.5 814.3,1068.5 815,1070.5 815.7,1071.3 816.3,1068.5 817,1064.3 817.7,1061.5 818.3,1063.5 819,1067.1 819.7,1067.8 820.3,1063.6 821,1069.2 821.7,1072.2 822.3,1064 823,1065.6 823.7,1069.9 824.3,1068 825,1065 825.7,1066.6 826.3,1065.5 827,1065.3 827.7,1068.2 828.3,1069.7 829,1068.9 829.7,1068.2 830.3,1068.9 831,1066 831.7,1066.2 832.3,1066.3 833,1065.2 833.7,1064.4 834.3,1065.1 835,1066.1 835.7,1065.6 836.3,1062.1 837,1065.2 837.7,1068.3 838.3,1070.7 839,1070.6 839.7,1060 840.3,1065.8 841,1072.6 841.7,1069.5 842.3,1068.7 843,1057 843.7,1058.5 844.3,1071.5 845,1069.5 845.7,1063.4 846.3,1061.8 847,1066.3 847.7,1060 848.3,1054.8 849,1057 849.7,1056.7 850.3,1057.9 851,1055.1 851.7,1052.7 852.3,1055.7 853,1052.2 853.7,1045.8 854.3,1046.6 855,1042 855.7,1039.3 856.3,1038.9 857,1034.3 857.7,1030.9 858.3,1029.5 859,1029.3 859.7,1026 860.4,1023 861,1018.9 861.7,1016.3 862.4,1015.2 863,1008.3 863.7,1005 864.4,1004.9 865,1000.4 865.7,996 866.4,992.7 867,988.3 867.7,980.7 868.4,971 869,967.8 869.7,967.8 870.4,964.7 871,958.7 871.7,951.7 872.4,947.7 873,942.6 873.7,941 874.4,937.8 875,929.7 875.7,929.6 876.4,926.3 877,920.7 877.7,918.3 878.4,919.3 879,918.3 879.7,907.5 880.4,906.3 881,908 881.7,906.9 882.4,910.4 883,913.2 883.7,916.9 884.4,919.5 885,922.6 885.7,920.2 886.4,923.1 887,933.2 887.7,939.7 888.4,942.7 889,940.7 889.7,945.8 890.4,953.4 891,958.4 891.7,960.2 892.4,962.5 893,973.4 893.7,985.5 894.4,994.3 895,1001.4 895.7,1010.4 896.4,1021.9 897,1031.1 897.7,1037.6 898.4,1041.3 899,1048.1 899.7,1052.3 900.4,1059.2 901,1061.8 901.7,1056.5 902.4,1060.7 903,1067.7 903.7,1074.6 904.4,1075.8 905,1077.1 905.7,1077.7 906.4,1080.1 907,1087.7 907.7,1091.8 908.4,1094.4 909,1095.9 909.7,1093.8 910.4,1096.8 911,1103.7 911.7,1105.3 912.4,1111.2 913,1115.1 913.7,1113.9 914.4,1113 915,1111.8 915.7,1117.6 916.4,1124.3 917,1127.2 917.7,1129.9 918.4,1133 919,1134.9 919.7,1134.2 920.4,1134.5 921,1136.3 921.7,1137.3 922.4,1141 923,1141.1 923.7,1138.3 924.4,1140.7 925,1141.9 925.7,1142 926.4,1143.8 927.1,1146.5 927.7,1149 928.4,1149.2 929.1,1151.1 929.7,1152.4 930.4,1151.1 931.1,1153.4 931.7,1157.5 932.4,1155.2 933.1,1156 933.7,1160 934.4,1161.8 935.1,1168.2 935.7,1169.6 936.4,1167.3 937.1,1167.1 937.7,1168.4 938.4,1169.2 939.1,1168.2 939.7,1167.6 940.4,1167.3 941.1,1169 941.7,1167.9 942.4,1167.3 943.1,1169.2 943.7,1169.6 944.4,1170.2 945.1,1169.9 945.7,1169.3 946.4,1172.5 947.1,1172.7 947.7,1170.5 948.4,1170.8 949.1,1170.7 949.7,1172.7 950.4,1173.5 951.1,1172.6 951.7,1174.7 952.4,1176.3 953.1,1176.1 953.7,1176.8 954.4,1176.4 955.1,1178.1 955.7,1176.2 956.4,1175 957.1,1175.5 957.7,1176.8 958.4,1180 959.1,1180 959.7,1182.2 960.4,1184.7 961.1,1184.5 961.7,1182.6 962.4,1182.8 963.1,1183.4 963.7,1182.6 964.4,1181.2 965.1,1180.8 965.7,1181.2 966.4,1181.9 967.1,1183.2 967.7,1182.1 968.4,1181 969.1,1181.9 969.7,1179.6 970.4,1180.3 971.1,1182.2 971.7,1181.1 972.4,1182.5 973.1,1184.1 973.7,1183.9 974.4,1183.9 975.1,1184.1 975.7,1182.9 976.4,1184.2 977.1,1186.1 977.7,1187.5 978.4,1186.1 979.1,1184.8 979.7,1186.5 980.4,1188.7 981.1,1191 981.7,1195.4 982.4,1195.3 983.1,1193 983.7,1195.1 984.4,1195.6 985.1,1194.7 985.7,1195.5 986.4,1197.5 987.1,1197.5 987.7,1197.1 988.4,1197.2 989.1,1197.8 989.7,1199.2 990.4,1205.5 991.1,1203.9 991.7,1199.9 992.4,1199.7 993.1,1196.7 993.8,1198.9 994.4,1200.3 995.1,1197.9 995.8,1198.4 996.4,1206.2 997.1,1206 997.8,1200.8 998.4,1206.5 999.1,1204.6 999.8,1202.6 1000.4,1204.5 1001.1,1203.8 1001.8,1202.1 1002.4,1198.1 1003.1,1201.2 1003.8,1204.6 1004.4,1205.2 1005.1,1206.5 1005.8,1205 1006.4,1205.7 1007.1,1210.9 1007.8,1211.7 1008.4,1209.9 1009.1,1209.8 1009.8,1208.6 1010.4,1208.4 1011.1,1210.2 1011.8,1210.5 1012.4,1210.3 1013.1,1210.7 1013.8,1212 1014.4,1212.9 1015.1,1211.3 1015.8,1212.1 1016.4,1213.5 1017.1,1212.1 1017.8,1212.5 1018.4,1214.8 1019.1,1215.1 1019.8,1214.1 1020.4,1212 1021.1,1212.4 1021.8,1216.8 1022.4,1215.5 1023.1,1215.3 1023.8,1216.6 1024.4,1216.1 1025.1,1218 1025.8,1218.8 1026.4,1218.2 1027.1,1217.5 1027.8,1217.1 1028.4,1217.6 1029.1,1218.2 1029.8,1218.3 1030.4,1217.6 1031.1,1215.1 1031.8,1213.6 1032.4,1214.1 1033.1,1216.2 1033.8,1218.5 1034.4,1219.8 1035.1,1219.4 1035.8,1220.5 1036.4,1220.4 1037.1,1220.4 1037.8,1221.9 1038.4,1219.9 1039.1,1218.9 1039.8,1219.6 1040.4,1219.8 1041.1,1222.6 1041.8,1222.6 1042.4,1220.8 1043.1,1221.4 1043.8,1222.2 1044.4,1224.1 1045.1,1224.4 1045.8,1223.9 1046.4,1222.6 1047.1,1222.8 1047.8,1223.1 1048.4,1223.6 1049.1,1225.3 1049.8,1225.6 1050.4,1225.4 1051.1,1225.6 1051.8,1224.5 1052.4,1223.7 1053.1,1228.3 1053.8,1228 1054.4,1222.1 1055.1,1223.5 1055.8,1226.9 1056.4,1226 1057.1,1225.9 1057.8,1229.9 1058.4,1231 1059.1,1227.3 1059.8,1226.7 1060.5,1227.5 1061.1,1226.7 1061.8,1227.1 1062.5,1226.4 1063.1,1225.2 1063.8,1225.9 1064.5,1227.5 1065.1,1227.5 1065.8,1225.4 1066.5,1226.6 1067.1,1226.5 1067.8,1224.9 1068.5,1227.5 1069.1,1228.2 1069.8,1224.2 1070.5,1224.2 1071.1,1226 1071.8,1225.2 1072.5,1224.6 1073.1,1225.5 1073.8,1224.8 1074.5,1227.3 1075.1,1228.4 1075.8,1222.9 1076.5,1223.1 1077.1,1225 1077.8,1223.4 1078.5,1222.3 1079.1,1229.4 1079.8,1229.5 1080.5,1222 1081.1,1223.2 1081.8,1223.7 1082.5,1222.2 1083.1,1222.5 1083.8,1221.3 1084.5,1218.7 1085.1,1220 1085.8,1223.4 1086.5,1223.1 1087.1,1221.3 1087.8,1221.7 1088.5,1221.5 1089.1,1222.1 1089.8,1225.7 1090.5,1228.6 1091.1,1227.7 1091.8,1225.7 1092.5,1226 1093.1,1229.2 1093.8,1231.2 1094.5,1230.4 1095.1,1229 1095.8,1229.2 1096.5,1229.8 1097.1,1229.7 1097.8,1230.5 1098.5,1232.6 1099.1,1232.8 1099.8,1231.9 1100.5,1233.4 1101.1,1232.8 1101.8,1232.4 1102.5,1232.5 1103.1,1233.4 1103.8,1231.4 1104.5,1231.5 1105.1,1237.5 1105.8,1236.2 1106.5,1232.4 1107.1,1234.2 1107.8,1236.2 1108.5,1235.5 1109.1,1235.8 1109.8,1237.6 1110.5,1238.3 1111.1,1241.2 1111.8,1241.6 1112.5,1238.6 1113.1,1237.9 1113.8,1238.1 1114.5,1238 1115.1,1238.4 1115.8,1238.8 1116.5,1239.8 1117.1,1240 1117.8,1237.4 1118.5,1240.6 1119.1,1242.2 1119.8,1240 1120.5,1239.7 1121.1,1241.8 1121.8,1242.8 1122.5,1237.8 1123.1,1235.4 1123.8,1238.3 1124.5,1240.7 1125.1,1240.7 1125.8,1240.5 1126.5,1240.1 1127.2,1239.6 1127.8,1239.1 1128.5,1239.2 1129.2,1239.7 1129.8,1238.3 1130.5,1238.5 1131.2,1240.2 1131.8,1238.5 1132.5,1236.3 1133.2,1235.2 1133.8,1237.2 1134.5,1240.5 1135.2,1238.5 1135.8,1239.7 1136.5,1242.2 1137.2,1239.6 1137.8,1238.9 1138.5,1238.9 1139.2,1234.9 1139.8,1234.6 1140.5,1237.5 1141.2,1237.2 1141.8,1237.4 1142.5,1237.7 1143.2,1237.4 1143.8,1237.5 1144.5,1237.6 1145.2,1235.4 1145.8,1236.3 1146.5,1238.1 1147.2,1235.3 1147.8,1233.6 1148.5,1236 1149.2,1238.1 1149.8,1236.9 1150.5,1237.1 1151.2,1236.1 1151.8,1239.8 1152.5,1240.6 1153.2,1236.4 1153.8,1236.8 1154.5,1237.1 1155.2,1236.7 1155.8,1235.3 1156.5,1234.6 1157.2,1235.1 1157.8,1236.1 1158.5,1235.8 1159.2,1236.4 1159.8,1238.8 1160.5,1237.4 1161.2,1234 1161.8,1235.3 1162.5,1238.8 1163.2,1239.1 1163.8,1235.8 1164.5,1234.1 1165.2,1235.2 1165.8,1233.1 1166.5,1232.7 1167.2,1235.5 1167.8,1236.5 1168.5,1236.8 1169.2,1236.6 1169.8,1236.2 1170.5,1235.7 1171.2,1234.6 1171.8,1235.8 1172.5,1236.8 1173.2,1235.4 1173.8,1237.8 1174.5,1238.8 1175.2,1238.9 1175.8,1238.2 1176.5,1237.9 1177.2,1237.2 1177.8,1237.8 1178.5,1239.1 1179.2,1238.6 1179.8,1240.5 1180.5,1240.7 1181.2,1241.4 1181.8,1242 1182.5,1241.6 1183.2,1243.5 1183.8,1243.5 1184.5,1244.4 1185.2,1247.5 1185.8,1245 1186.5,1241.9 1187.2,1242.5 1187.8,1243.4 1188.5,1243.9 1189.2,1243.7 1189.8,1244.2 1190.5,1244.1 1191.2,1244 1191.8,1243.9 1192.5,1241.9 1193.2,1242.8 1193.9,1241.2 1194.5,1239.8 1195.2,1242.9 1195.9,1245.3 1196.5,1244.4 1197.2,1243.2 1197.9,1243.2 1198.5,1242.5 1199.2,1243.5 1199.9,1242.7 1200.5,1242.1 1201.2,1244 1201.9,1243.5 1202.5,1244.1 1203.2,1244.1 1203.9,1242.5 1204.5,1241.9 1205.2,1241.8 1205.9,1244.1 1206.5,1244.5 1207.2,1243.3 1207.9,1243.5 1208.5,1243.4 1209.2,1243.5 1209.9,1244.2 1210.5,1243.2 1211.2,1242.8 1211.9,1242.9 1212.5,1240 1213.2,1241.2 1213.9,1246.6 1214.5,1247.3 1215.2,1244.9 1215.9,1243.2 1216.5,1245.3 1217.2,1246.2 1217.9,1245.5 1218.5,1245 1219.2,1244.2 1219.9,1245.3 1220.5,1245.6 1221.2,1244.5 1221.9,1246.2 1222.5,1247.1 1223.2,1244.2 1223.9,1242.9 1224.5,1244.3 1225.2,1244.4 1225.9,1243.2 1226.5,1244.1 1227.2,1244 1227.9,1243.1 1228.5,1243.5 1229.2,1244.1 1229.9,1244 1230.5,1245.2 1231.2,1244 1231.9,1243.2 1232.5,1245.6 1233.2,1245.9 1233.9,1242.7 1234.5,1240.1 1235.2,1243.6 1235.9,1246.6 1236.5,1246.1 1237.2,1245.4 1237.9,1244.9 1238.5,1245.2 1239.2,1245.3 1239.9,1246.2 1240.5,1246 1241.2,1245.4 1241.9,1246.7 1242.5,1247.1 1243.2,1246.3 1243.9,1245 1244.5,1246 1245.2,1250.6 1245.9,1251 1246.5,1250.9 1247.2,1251.1 1247.9,1249 1248.5,1250.2 1249.2,1251.3 1249.9,1250.5 1250.5,1250.3 1251.2,1250 1251.9,1247 1252.5,1245.6 1253.2,1247.5 1253.9,1247 1254.5,1243.8 1255.2,1245.6 1255.9,1248.2 1256.5,1246.2 1257.2,1247.9 1257.9,1250.1 1258.5,1251.3 1259.2,1252.9 1259.9,1250.4 1260.6,1248.2 1261.2,1247.9 1261.9,1250.7 1262.6,1251.6 1263.2,1249.4 1263.9,1249.3 1264.6,1250 1265.2,1249.3 1265.9,1247.4 1266.6,1249 1267.2,1250.1 1267.9,1248.8 1268.6,1247.8 1269.2,1247.2 1269.9,1247.6 1270.6,1246.6 1271.2,1250.5 1271.9,1250.1 1272.6,1247.3 1273.2,1248.1 1273.9,1249.5 1274.6,1250.1 1275.2,1246.6 1275.9,1245.5 1276.6,1246 1277.2,1247.2 1277.9,1246.6 1278.6,1246.3 1279.2,1244.9 1279.9,1243.1 1280.6,1240.9 1281.2,1240 1281.9,1241.9 1282.6,1244.2 1283.2,1243.3 1283.9,1240.2 1284.6,1241.8 1285.2,1239.8 1285.9,1238.2 1286.6,1241.9 1287.2,1243.5 1287.9,1242.3 1288.6,1242 1289.2,1241.6 1289.9,1240.6 1290.6,1239.1 1291.2,1245 1291.9,1246.8 1292.6,1242 1293.2,1242.8 1293.9,1243.1 1294.6,1242.1 1295.2,1242.2 1295.9,1242.4 1296.6,1241.6 1297.2,1242.3 1297.9,1245.5 1298.6,1244.9 1299.2,1241.3 1299.9,1242.1 1300.6,1239.8 1301.2,1239.2 1301.9,1245.2 1302.6,1245.5 1303.2,1241.1 1303.9,1240.7 1304.6,1240.9 1305.2,1241.8 1305.9,1243.7 1306.6,1242.8 1307.2,1243.7 1307.9,1243.9 1308.6,1240.7 1309.2,1241.4 1309.9,1241.6 1310.6,1242.2 1311.2,1243.8 1311.9,1242.9 1312.6,1242.7 1313.2,1242.2 1313.9,1242.9 1314.6,1243.7 1315.2,1242.2 1315.9,1241 1316.6,1240.2 1317.2,1241 1317.9,1242.9 1318.6,1242.2 1319.2,1240.8 1319.9,1240.3 1320.6,1239.2 1321.2,1239.5 1321.9,1241.2 1322.6,1241.6 1323.2,1240.8 1323.9,1241.8 1324.6,1242 1325.2,1242 1325.9,1243.8 1326.6,1243.5 1327.3,1241.5 1327.9,1238.9 1328.6,1237.1 1329.3,1240.1 1329.9,1240 1330.6,1239.4 1331.3,1240.1 1331.9,1241.1 1332.6,1242.6 1333.3,1241 1333.9,1241.2 1334.6,1241.9 1335.3,1240.8 1335.9,1240.9 1336.6,1243.7 1337.3,1242.8 1337.9,1241.4 1338.6,1240 1339.3,1237.6 1339.9,1238.9 1340.6,1240.2 1341.3,1243.7 1341.9,1242.6 1342.6,1239.6 1343.3,1240.9 1343.9,1240.9 1344.6,1241 1345.3,1241.2 1345.9,1237 1346.6,1237.1 1347.3,1239.6 1347.9,1241.1 1348.6,1242.1 1349.3,1240.7 1349.9,1238.1 1350.6,1238.7 1351.3,1239.3 1351.9,1239.5 1352.6,1242.9 1353.3,1243.2 1353.9,1243.4 1354.6,1243.1 1355.3,1241.3 1355.9,1242.3 1356.6,1243.2 1357.3,1246.2 1357.9,1247.3 1358.6,1242.8 1359.3,1243.3 1359.9,1244.7 1360.6,1243.8 1361.3,1244.8 1361.9,1245.4 1362.6,1243.7 1363.3,1243 1363.9,1242.3 1364.6,1242.8 1365.3,1243.5 1365.9,1242.3 1366.6,1241.6 1367.3,1242.1 1367.9,1242.1 1368.6,1242.3 1369.3,1241.9 1369.9,1240 1370.6,1239.1 1371.3,1240.4 1371.9,1241.8 1372.6,1242.3 1373.3,1241.4 1373.9,1242 1374.6,1242.8 1375.3,1242.9 1375.9,1245 1376.6,1244.2 1377.3,1243.6 1377.9,1243.5 1378.6,1242.9 1379.3,1244.9 1379.9,1241.3 1380.6,1239.6 1381.3,1242.9 1381.9,1242.8 1382.6,1241.4 1383.3,1238.6 1383.9,1239.2 1384.6,1241.4 1385.3,1241.6 1385.9,1241.3 1386.6,1241 1387.3,1241.4 1387.9,1241.2 1388.6,1242.4 1389.3,1244.3 1389.9,1244.2 1390.6,1243 1391.3,1241.1 1391.9,1241.5 1392.6,1244.3 1393.3,1243.8 1394,1242.2 1394.6,1241.3 1395.3,1239.2 1396,1240 1396.6,1241.6 1397.3,1242.2 1398,1241.6 1398.6,1240.2 1399.3,1241.6 1400,1242.9 1400.6,1241.6 1401.3,1241.5 1402,1241.4 1402.6,1243 1403.3,1243.3 1404,1241.9 1404.6,1245.5 1405.3,1246 1406,1242.6 1406.6,1241.5 1407.3,1241.6 1408,1240.9 1408.6,1240.2 1409.3,1241.3 1410,1241.1 1410.6,1240.5 1411.3,1241.5 1412,1242 1412.6,1241.8 1413.3,1240.2 1414,1239.9 1414.6,1239.5 1415.3,1237.9 1416,1240.3 1416.6,1242.2 1417.3,1241.5 1418,1241.3 1418.6,1242.3 1419.3,1240.7 1420,1240.1 1420.6,1241.9 1421.3,1241.2 1422,1241.6 1422.6,1243.4 1423.3,1243.1 1424,1242.9 1424.6,1244.1 1425.3,1245 1426,1246.2 1426.6,1245.1 1427.3,1243.6 1428,1243.5 1428.6,1241.5 1429.3,1242.5 1430,1247.3 1430.6,1249.7 1431.3,1251.1 1432,1251.1 1432.6,1246.3 1433.3,1241.1 1434,1240.3 1434.6,1240.2 1435.3,1240.8 1436,1242.6 1436.6,1242.4 1437.3,1243.2 1438,1244.6 1438.6,1244.8 1439.3,1246.2 1440,1246.3 1440.6,1243.8 1441.3,1243 1442,1243.3 1442.6,1244 1443.3,1243.5 1444,1244.7 1444.6,1244.5 1445.3,1243.3 1446,1244.4 1446.6,1244.1 1447.3,1244.5 1448,1244.6 1448.6,1244.6 1449.3,1245.8 1450,1244.9 1450.6,1243.5 1451.3,1243.6 1452,1242.1 1452.6,1242.3 1453.3,1244.1 1454,1244 1454.6,1243.2 1455.3,1243.7 1456,1242.6 1456.6,1242.2 1457.3,1242.4 1458,1240.4 1458.6,1241.8 1459.3,1244.1 1460,1242.1 1460.7,1241 1461.3,1242.2 1462,1243.6 1462.7,1243.8 1463.3,1240.7 1464,1242 1464.7,1245.5 1465.3,1243.8 1466,1248.3 1466.7,1249.1 1467.3,1242.4 1468,1242.2 1468.7,1243.1 1469.3,1244.1 1470,1245.5 1470.7,1244.4 1471.3,1243 1472,1245.4 1472.7,1246 1473.3,1243 1474,1244.5 1474.7,1246.5 1475.3,1244.4 1476,1242.7 1476.7,1241.5 1477.3,1239.5 1478,1242.2 1478.7,1245 1479.3,1244.9 1480,1243.8 1480.7,1242 1481.3,1243.3 1482,1243.7 1482.7,1244.3 1483.3,1245.4 1484,1244 1484.7,1241.5 1485.3,1241.4 1486,1243.2 1486.7,1244.1 1487.3,1245.3 1488,1244.9 1488.7,1244.8 1489.3,1245.7 1490,1247.3 1490.7,1246.8 1491.3,1243.8 1492,1242.2 1492.7,1244 1493.3,1244.7 1494,1243.5 1494.7,1243.3 1495.3,1243.4 1496,1243.7 1496.7,1243.1 1497.3,1244.1 1498,1244.3 1498.7,1243.1 1499.3,1243.8 1500,1241.7 1500.7,1239.9 1501.3,1243.1 1502,1244.5 1502.7,1243.5 1503.3,1243.8 1504,1243.6 1504.7,1243.6 1505.3,1247 1506,1246.4 1506.7,1243.9 1507.3,1243.7 1508,1242.5 1508.7,1243.3 1509.3,1244 1510,1244 1510.7,1245.2 1511.3,1244.5 1512,1242.4 1512.7,1240 1513.3,1240 1514,1240.3 1514.7,1240 1515.3,1242.5 1516,1243.5 1516.7,1241.7 1517.3,1241.4 1518,1238.9 1518.7,1239.9 1519.3,1245.1 1520,1244.5 1520.7,1244.1 1521.3,1246.8 1522,1245.3 1522.7,1241.8 1523.3,1241.8 1524,1242.5 1524.7,1241.7 1525.3,1240 1526,1243.5 1526.7,1245.8 1527.4,1242.3 1528,1242.9 1528.7,1243 1529.4,1242.3 1530,1245.2 1530.7,1242.8 1531.4,1239 1532,1240 1532.7,1242.3 1533.4,1244.4 1534,1244.2 1534.7,1242.8 1535.4,1242.5 1536,1240.6 1536.7,1236.9 1537.4,1239.3 1538,1243.4 1538.7,1242.5 1539.4,1241.6 1540,1242 1540.7,1243.8 1541.4,1243.3 1542,1242.4 1542.7,1243 1543.4,1243.2 1544,1242.6 1544.7,1241.9 1545.4,1241 1546,1241.9 1546.7,1243.2 1547.4,1242 1548,1243.1 1548.7,1244.6 1549.4,1244.7 1550,1243.8 1550.7,1244.2 1551.4,1243.1 1552,1241.2 1552.7,1241.3 1553.4,1241.8 1554,1242.6 1554.7,1242.2 1555.4,1242.1 1556,1241.5 1556.7,1241 1557.4,1241.9 1558,1241.7 1558.7,1241.7 1559.4,1238.7 1560,1238.8 1560.7,1243.1 1561.4,1241.4 1562,1241.9 1562.7,1241.7 1563.4,1240.3 1564,1241.9 1564.7,1240.3 1565.4,1240.3 1566,1240.5 1566.7,1240.8 1567.4,1242.8 1568,1242.3 1568.7,1239.3 1569.4,1239.7 1570,1241.9 1570.7,1241.7 1571.4,1241.6 1572,1242.7 1572.7,1243.3 1573.4,1239.1 1574,1237.9 1574.7,1241.8 1575.4,1241.2 1576,1240.8 1576.7,1239.5 1577.4,1240.7 1578,1244.3 1578.7,1243.7 1579.4,1242.7 1580,1243.7 1580.7,1244.1 1581.4,1242.2 1582,1245 1582.7,1242.5 1583.4,1241.1 1584,1243.8 1584.7,1243 1585.4,1243.4 1586,1241 1586.7,1240.9 1587.4,1242.3 1588,1241.3 1588.7,1242.3 1589.4,1243.9 1590,1243.1 1590.7,1243.6 1591.4,1244.5 1592,1245.1 1592.7,1246 1593.4,1245.3 1594.1,1246.9 1594.7,1246.8 1595.4,1243.3 1596.1,1243.7 1596.7,1247.1 1597.4,1246.9 1598.1,1243 1598.7,1243.6 1599.4,1245.8 1600.1,1245.6 1600.7,1245.8 1601.4,1246.5 1602.1,1246.3 1602.7,1245.4 1603.4,1244.6 1604.1,1245.7 1604.7,1250.7 1605.4,1252 1606.1,1249.8 1606.7,1242 1607.4,1242.2 1608.1,1247.5 1608.7,1246.7 1609.4,1247.1 1610.1,1248.4 1610.7,1251.4 1611.4,1249.8 1612.1,1248.5 1612.7,1249.1 1613.4,1248.2 1614.1,1246.6 1614.7,1246.2 1615.4,1247.6 1616.1,1247.1 1616.7,1248 1617.4,1249.2 1618.1,1250.1 1618.7,1252 1619.4,1251.5 1620.1,1250 1620.7,1250.4 1621.4,1251.7 1622.1,1251.5 1622.7,1250.6 1623.4,1250.1 1624.1,1249.5 1624.7,1250 1625.4,1251.8 1626.1,1252.8 1626.7,1251.7 1627.4,1250.5 1628.1,1250.3 1628.7,1248.3 1629.4,1249.4 1630.1,1255.1 1630.7,1254.4 1631.4,1250.5 1632.1,1250.7 1632.7,1251 1633.4,1250.9 1634.1,1251.2 1634.7,1251.2 1635.4,1252.9 1636.1,1252.7 1636.7,1251.7 1637.4,1251.6 1638.1,1249.8 1638.7,1249.6 1639.4,1250.2 1640.1,1250.3 1640.7,1248.7 1641.4,1249.5 1642.1,1249.1 1642.7,1246.7 1643.4,1247.1 1644.1,1247.9 1644.7,1249 1645.4,1250.1 1646.1,1250.6 1646.7,1250.4 1647.4,1250.9 1648.1,1251.1 1648.7,1252.1 1649.4,1252.3 1650.1,1252.2 1650.7,1251.8 1651.4,1250.9 1652.1,1250.8 1652.7,1250.9 1653.4,1251.1 1654.1,1250 1654.7,1251 1655.4,1254.6 1656.1,1253.6 1656.7,1252.5 1657.4,1256.5 1658.1,1254.8 1658.7,1250 1659.4,1248 1660.1,1248.9 1660.8,1252.7 1661.4,1252 1662.1,1251 1662.8,1252.1 1663.4,1253.2 1664.1,1253.3 1664.8,1250.1 1665.4,1249.4 1666.1,1253 1666.8,1254.2 1667.4,1253.5 1668.1,1249.3 1668.8,1249.2 1669.4,1253.3 1670.1,1254.7 1670.8,1255.3 1671.4,1254 1672.1,1253.2 1672.8,1253 1673.4,1253.4 1674.1,1252.9 1674.8,1253.5 1675.4,1255.6 1676.1,1256.6 1676.8,1255.9 1677.4,1257 1678.1,1256.3 1678.8,1256.5 1679.4,1257.8 1680.1,1256.2 1680.8,1256.7 1681.4,1259.5 1682.1,1258.8 1682.8,1256.7 1683.4,1258.9 1684.1,1259.3 1684.8,1257.6 1685.4,1257.5 1686.1,1258.5 1686.8,1260.6 1687.4,1260.6 1688.1,1259.1 1688.8,1259.7 1689.4,1257.7 1690.1,1257.2 1690.8,1259.4 1691.4,1261 1692.1,1259 1692.8,1257.7 1693.4,1259.3 1694.1,1258.4 1694.8,1260.2 1695.4,1259.7 1696.1,1259.1 1696.8,1260.1 1697.4,1258.1 1698.1,1257.1 1698.8,1257.6 1699.4,1259.1 1700.1,1259.3 1700.8,1258.5 1701.4,1258.8 1702.1,1258.6 1702.8,1258.6 1703.4,1256.2 1704.1,1256.6 1704.8,1260.6 1705.4,1260.1 1706.1,1258.2 1706.8,1258.1 1707.4,1259.8 1708.1,1261.1 1708.8,1261.4 1709.4,1260.2 1710.1,1258.3 1710.8,1259.1 1711.4,1263.1 1712.1,1265.5 1712.8,1263.1 1713.4,1260.9 1714.1,1262.7 1714.8,1263 1715.4,1261.8 1716.1,1262.4 1716.8,1264.4 1717.4,1264.8 1718.1,1261.1 1718.8,1261.3 1719.4,1262.6 1720.1,1264.9 1720.8,1265.9 1721.4,1261.9 1722.1,1260.8 1722.8,1261.9 1723.4,1262.7 1724.1,1262.5 1724.8,1262.9 1725.4,1264.8 1726.1,1264.6 1726.8,1261.6 1727.5,1260.7 1728.1,1262.2 1728.8,1261.5 1729.5,1260.9 1730.1,1264 1730.8,1264.3 1731.5,1266.8 1732.1,1269.4 1732.8,1265.4 1733.5,1264.1 1734.1,1263.3 1734.8,1262.8 1735.5,1264.2 1736.1,1263.7 1736.8,1262.6 1737.5,1264 1738.1,1262 1738.8,1262.6 1739.5,1266 1740.1,1265 1740.8,1264.6 1741.5,1261.7 1742.1,1261.3 1742.8,1263.4 1743.5,1264 1744.1,1264.6 1744.8,1266.4 1745.5,1264.5 1746.1,1262.9 1746.8,1265 1747.5,1265 1748.1,1263.7 1748.8,1263.8 1749.5,1265.1 1750.1,1265.3 1750.8,1265.9 1751.5,1267.4 1752.1,1267 1752.8,1265.4 1753.5,1266.1 1754.1,1263.6 1754.8,1262.7 1755.5,1264.7 1756.1,1264.9 1756.8,1265.6 1757.5,1266.1 1758.1,1266.6 1758.8,1265.1 1759.5,1265.3 1760.1,1266.7 1760.8,1266.2 1761.5,1265.4 1762.1,1264.3 1762.8,1264.8 1763.5,1265.6 1764.1,1266.5 1764.8,1266.9 1765.5,1266.1 1766.1,1264.5 1766.8,1266.8 1767.5,1268.6 1768.1,1266.4 1768.8,1265 1769.5,1265.2 1770.1,1267.5 1770.8,1269.9 1771.5,1266 1772.1,1264.2 1772.8,1266.7 1773.5,1266 1774.1,1268.5 1774.8,1271.8 1775.5,1268.1 1776.1,1264.2 1776.8,1264.8 1777.5,1264.9 1778.1,1265.3 1778.8,1266.8 1779.5,1267 1780.1,1265.2 1780.8,1264.9 1781.5,1265.2 1782.1,1265 1782.8,1265 1783.5,1265.4 1784.1,1261.3 1784.8,1260.5 1785.5,1264.1 1786.1,1264.7 1786.8,1262.7 1787.5,1261.7 1788.1,1264.6 1788.8,1265 1789.5,1265.7 1790.1,1266.1 1790.8,1265.4 1791.5,1265.4 1792.1,1263.3 1792.8,1263.5 1793.5,1264.8 1794.2,1264.5 1794.8,1264.1 1795.5,1262.4 1796.2,1262.5 1796.8,1263.6 1797.5,1263.8 1798.2,1262.3 1798.8,1262.1 1799.5,1263.2 1800.2,1264.3 1800.8,1263.8 1801.5,1262.4 1802.2,1265 1802.8,1272.7 1803.5,1273.3 1804.2,1268.3 1804.8,1265.9 1805.5,1264.8 1806.2,1265.2 1806.8,1265.1 1807.5,1264.8 1808.2,1264.4 1808.8,1262.6 1809.5,1262.4 1810.2,1264.6 1810.8,1264.5 1811.5,1264.4 1812.2,1265 1812.8,1266.2 1813.5,1266.6 1814.2,1265.1 1814.8,1266.1 1815.5,1267.2 1816.2,1266.2 1816.8,1265 1817.5,1264.3 1818.2,1266.5 1818.8,1268 1819.5,1267.2 1820.2,1268.3 1820.8,1270 1821.5,1269.3 1822.2,1266.8 1822.8,1265.3 1823.5,1266.3 1824.2,1268.2 1824.8,1267.4 1825.5,1265.1 1826.2,1266.3 1826.8,1266.8 1827.5,1265.5 1828.2,1265.8 1828.8,1266.6 1829.5,1268.7 1830.2,1270.5 1830.8,1267.8 1831.5,1264.9 1832.2,1266.4 1832.8,1264.5 1833.5,1264.6 1834.2,1266.5 1834.8,1268.6 1835.5,1269.9 1836.2,1267.5 1836.8,1268 1837.5,1263.8 1838.2,1262.9 1838.8,1266.3 1839.5,1266.7 1840.2,1267.2 1840.8,1268 1841.5,1267.5 1842.2,1265.7 1842.8,1263.1 1843.5,1264.7 1844.2,1268.5 1844.8,1266.8 1845.5,1267 1846.2,1268.5 1846.8,1267.2 1847.5,1269.2 1848.2,1269.5 1848.8,1267.2 1849.5,1269 1850.2,1271 1850.8,1269.1 1851.5,1269.8 1852.2,1271.5 1852.8,1270.9 1853.5,1270.3 1854.2,1269.3 1854.8,1269.8 1855.5,1270.1 1856.2,1269.7 1856.8,1267.9 1857.5,1267.4 1858.2,1267 1858.8,1267.3 1859.5,1270.1 1860.2,1270.9 1860.9,1270.8 1861.5,1270.8 1862.2,1272.8 1862.9,1273.5 1863.5,1270.8 1864.2,1270.7 1864.9,1271.4 1865.5,1270.2 1866.2,1270.8 1866.9,1271.6 1867.5,1271.5 1868.2,1272 1868.9,1272 1869.5,1270.7 1870.2,1270.4 1870.9,1274.3 1871.5,1274.4 1872.2,1271.4 1872.9,1271.2 1873.5,1271.4 1874.2,1271.8 1874.9,1270.6 1875.5,1270.1 1876.2,1271.4 1876.9,1271.3 1877.5,1271.5 1878.2,1273.7 1878.9,1273.5 1879.5,1271.3 1880.2,1272.2 1880.9,1273.1 1881.5,1271.9 1882.2,1270.6 1882.9,1271 1883.5,1272.4 1884.2,1272.7 1884.9,1272.8 1885.5,1272.8 1886.2,1274 1886.9,1274 1887.5,1272 1888.2,1272.7 1888.9,1274 1889.5,1273.7 1890.2,1273.1 1890.9,1273.3 1891.5,1273.2 1892.2,1272.2 1892.9,1272.5 1893.5,1273.1 1894.2,1274.1 1894.9,1273.5 1895.5,1271.4 1896.2,1271.7 1896.9,1273 1897.5,1272.8 1898.2,1273.2 1898.9,1273.9 1899.5,1271.4 1900.2,1271.5 1900.9,1273.3 1901.5,1273.6 1902.2,1272.9 1902.9,1272.2 1903.5,1273.9 1904.2,1275.4 1904.9,1274.3 1905.5,1274.2 1906.2,1276.1 1906.9,1275.1 1907.5,1272.5 1908.2,1272.4 1908.9,1273.9 1909.5,1274.3 1910.2,1274.3 1910.9,1272.5 1911.5,1273 1912.2,1273.8 1912.9,1273.5 1913.5,1271.8 1914.2,1272.1 1914.9,1276.9 1915.5,1275.3 1916.2,1272.4 1916.9,1273.1 1917.5,1274.9 1918.2,1275.4 1918.9,1273.6 1919.5,1270.9 1920.2,1273.6 1920.9,1275.7 1921.5,1274.1 1922.2,1274.8 1922.9,1275.2 1923.5,1276.1 1924.2,1275.3 1924.9,1272.6 1925.5,1274.1 1926.2,1274.9 1926.9,1273.7 1927.6,1274.7 1928.2,1274.9 1928.9,1275.2 1929.6,1276.2 1930.2,1276.5 1930.9,1275 1931.6,1274 1932.2,1273.5 1932.9,1274 1933.6,1277.4 1934.2,1279.9 1934.9,1278.1 1935.6,1275.5 1936.2,1275.6 1936.9,1274.6 1937.6,1274.5 1938.2,1277.2 1938.9,1278.2 1939.6,1278.2 1940.2,1275.8 1940.9,1274.7 1941.6,1275.2 1942.2,1277 1942.9,1279.6 1943.6,1279.6 1944.2,1278.1 1944.9,1277.7 1945.6,1277.2 1946.2,1276.4 1946.9,1275.1 1947.6,1276 1948.2,1277.1 1948.9,1274.7 1949.6,1274.5 1950.2,1276 1950.9,1278.2 1951.6,1278 1952.2,1275.1 1952.9,1275.4 1953.6,1277.2 1954.2,1278.1 1954.9,1278.3 1955.6,1276.6 1956.2,1275.6 1956.9,1274 1957.6,1275 1958.2,1279.8 1958.9,1281.1 1959.6,1278.9 1960.2,1277.9 1960.9,1278.4 1961.6,1278.4 1962.2,1277.8 1962.9,1276.7 1963.6,1274.6 1964.2,1274.1 1964.9,1278.8 1965.6,1281.6 1966.2,1278.6 1966.9,1277.2 1967.6,1278 1968.2,1277.9 1968.9,1278 1969.6,1278 1970.2,1277.8 1970.9,1277.9 1971.6,1278.4 1972.2,1277.2 1972.9,1275.3 1973.6,1277.1 1974.2,1279.1 1974.9,1277.8 1975.6,1277.9 1976.2,1279.2 1976.9,1277.5 1977.6,1276.9 1978.2,1279.8 1978.9,1279.7 1979.6,1278.5 1980.2,1279.2 1980.9,1278.7 1981.6,1279.3 1982.2,1279.9 1982.9,1278.7 1983.6,1277.4 1984.2,1278.1 1984.9,1280 1985.6,1280.2 1986.2,1278.7 1986.9,1277.3 1987.6,1278.3 1988.2,1280.5 1988.9,1279.4 1989.6,1276.5 1990.2,1276.3 1990.9,1277.4"/>
<polyline stroke="#FF00FF" points="160,1019.6 160.7,1019.7 161.3,1019.4 162,1018.1 162.7,1016.1 163.3,1018 164,1019.4 164.7,1014.3 165.3,1015.3 166,1021.1 166.7,1019.5 167.3,1017.8 168,1016.9 168.7,1016.1 169.3,1018 170,1017.9 170.7,1017.2 171.3,1016.3 172,1016.9 172.7,1017.9 173.3,1016.7 174,1017.2 174.7,1019.8 175.3,1019.2 176,1017.5 176.7,1020.3 177.3,1017.9 178,1015.1 178.7,1018.8 179.3,1017.7 180,1015.2 180.7,1016.3 181.3,1017.2 182,1017.1 182.7,1016.8 183.3,1015.1 184,1015.5 184.7,1016.7 185.3,1014.9 186,1016.9 186.7,1018.4 187.3,1016.6 188,1016.8 188.7,1016.8 189.3,1015.4 190,1015.5 190.7,1016.9 191.3,1017.2 192,1016.8 192.7,1017.6 193.4,1019 194,1018.6 194.7,1016.9 195.4,1015.5 196,1015.7 196.7,1016.4 197.4,1015.6 198,1015.4 198.7,1016 199.4,1012.1 200,1012 200.7,1015.7 201.4,1017.6 202,1016.2 202.7,1015.8 203.4,1018.4 204,1017.2 204.7,1015.4 205.4,1015.8 206,1015.7 206.7,1014.8 207.4,1015.9 208,1016 208.7,1015.7 209.4,1015.5 210,1013.8 210.7,1013.9 211.4,1016.3 212,1017.3 212.7,1015.3 213.4,1014.7 214,1015.7 214.7,1015.4 215.4,1018.2 216,1019 216.7,1016.5 217.4,1015.8 218,1017 218.7,1016.8 219.4,1016.1 220,1016.7 220.7,1016.6 221.4,1016.1 222,1016 222.7,1016.8 223.4,1016.1 224,1015.9 224.7,1016.2 225.4,1015.7 226,1015.7 226.7,1015.5 227.4,1016 228,1016 228.7,1014.8 229.4,1015.6 230,1016.1 230.7,1015.6 231.4,1018 232,1018.2 232.7,1015.9 233.4,1015.3 234,1015.6 234.7,1017.7 235.4,1017.7 236,1016.5 236.7,1015.8 237.4,1015 238,1015 238.7,1015.3 239.4,1016.6 240,1016.5 240.7,1014.8 241.4,1014.8 242,1015.1 242.7,1015.2 243.4,1015.4 244,1016.8 244.7,1016.9 245.4,1015.4 246,1015.6 246.7,1015.3 247.4,1017.3 248,1015.7 248.7,1014 249.4,1015.2 250,1013.3 250.7,1013 251.4,1014.9 252,1016.7 252.7,1016.7 253.4,1015.1 254,1014.5 254.7,1013.9 255.4,1013.7 256,1014.2 256.7,1012.4 257.4,1012.5 258,1015.6 258.7,1016 259.4,1014.2 260.1,1013.1 260.7,1014.5 261.4,1014.3 262.1,1011.4 262.7,1011.5 263.4,1013.7 264.1,1016 264.7,1014.4 265.4,1013.1 266.1,1014.5 266.7,1014.2 267.4,1010.6 268.1,1010.8 268.7,1014 269.4,1014.9 270.1,1018.5 270.7,1017.3 271.4,1012.7 272.1,1012.1 272.7,1013.3 273.4,1014.4 274.1,1014.1 274.7,1012.8 275.4,1013.1 276.1,1014.1 276.7,1013.2 277.4,1012.4 278.1,1013.2 278.7,1013 279.4,1012.5 280.1,1014 280.7,1014.9 281.4,1012.4 282.1,1007.3 282.7,1007.6 283.4,1011.8 284.1,1011.4 284.7,1011.2 285.4,1012.2 286.1,1012.9 286.7,1013.2 287.4,1013.3 288.1,1012.3 288.7,1011.6 289.4,1012.2 290.1,1012.3 290.7,1011.9 291.4,1012.3 292.1,1013.6 292.7,1014 293.4,1012 294.1,1009.8 294.7,1009.8 295.4,1011.3 296.1,1011.3 296.7,1011 297.4,1011.4 298.1,1013.8 298.7,1012.6 299.4,1010.3 300.1,1009.6 300.7,1009 301.4,1010.6 302.1,1009.8 302.7,1009.2 303.4,1009.4 304.1,1009.8 304.7,1009 305.4,1008.9 306.1,1008.4 306.7,1008.4 307.4,1009.6 308.1,1009.3 308.7,1009.1 309.4,1009.3 310.1,1009.3 310.7,1008.4 311.4,1007.7 312.1,1007.9 312.7,1013.1 313.4,1013.5 314.1,1009 314.7,1008.3 315.4,1007.8 316.1,1008.3 316.7,1007.5 317.4,1006.9 318.1,1007 318.7,1007.9 319.4,1008.8 320.1,1009.2 320.7,1008.3 321.4,1007.3 322.1,1007.9 322.7,1007.9 323.4,1008.3 324.1,1005.9 324.7,1005.3 325.4,1006.5 326.1,1006 326.8,1006.7 327.4,1006.5 328.1,1007.1 328.8,1005.9 329.4,1003.7 330.1,1006.2 330.8,1007.7 331.4,1006.1 332.1,1005.2 332.8,1005.2 333.4,1006.2 334.1,1007.2 334.8,1006.7 335.4,1004.5 336.1,1005.1 336.8,1005.6 337.4,1005.4 338.1,1006.3 338.8,1007.6 339.4,1006.2 340.1,1003.8 340.8,1004.3 341.4,1005.3 342.1,1005.3 342.8,1004.4 343.4,1005.2 344.1,1004.2 344.8,1002.2 345.4,1001.9 346.1,1002.9 346.8,1003.4 347.4,1003.1 348.1,1003.5 348.8,1003.7 349.4,1003.5 350.1,1002.4 350.8,1003.2 351.4,1004.9 352.1,1004.2 352.8,1002.8 353.4,1007.4 354.1,1006.6 354.8,1002.8 355.4,1003.9 356.1,1002.3 356.8,1002.1 357.4,1002.5 358.1,999.5 358.8,999.3 359.4,1002.5 360.1,1002.7 360.8,1001 361.4,1000.1 362.1,1001.3 362.8,999.7 363.4,999.6 364.1,1001.6 364.8,1000.9 365.4,1000.7 366.1,1000.7 366.8,999.6 367.4,1000.8 368.1,1001.7 368.8,1000.5 369.4,999.4 370.1,1000 370.8,1001.4 371.4,999.8 372.1,1000.5 372.8,1001.8 373.4,1000.5 374.1,999 374.8,999.6 375.4,996.6 376.1,997.4 376.8,1002.5 377.4,999.4 378.1,998.9 378.8,999.7 379.4,998.7 380.1,999.9 380.8,998.4 381.4,997.1 382.1,999.4 382.8,1000.2 383.4,998.6 384.1,997.4 384.8,997.3 385.4,995.9 386.1,994.9 386.8,996 387.4,994.8 388.1,995.1 388.8,994.6 389.4,997 390.1,998.8 390.8,996.7 391.4,996.6 392.1,994.9 392.8,994.7 393.5,992.5 394.1,992.1 394.8,995.2 395.5,994.6 396.1,995.6 396.8,996.4 397.5,992.8 398.1,992.3 398.8,995.4 399.5,994.9 400.1,992.5 400.8,992.4 401.5,993.3 402.1,993.4 402.8,992.7 403.5,992.7 404.1,993 404.8,993.2 405.5,997 406.1,996.6 406.8,991.2 407.5,989.9 408.1,990.7 408.8,993 409.5,991.6 410.1,990.1 410.8,991.3 411.5,990.3 412.1,990.5 412.8,991.3 413.5,991.4 414.1,990.1 414.8,988.6 415.5,988.3 416.1,988.1 416.8,988 417.5,988.4 418.1,988.5 418.8,988.4 419.5,990.6 420.1,990.8 420.8,987.2 421.5,988 422.1,988.8 422.8,986.2 423.5,985.7 424.1,984.6 424.8,984.5 425.5,985.8 426.1,984.9 426.8,986.7 427.5,987.5 428.1,985.3 428.8,984.9 429.5,985.8 430.1,986.9 430.8,985.4 431.5,979.7 432.1,979.7 432.8,983.8 433.5,982.4 434.1,982.4 434.8,983.6 435.5,983.7 436.1,981.8 436.8,982.6 437.5,983.5 438.1,983.2 438.8,982.9 439.5,982.6 440.1,983.4 440.8,979.9 441.5,979.9 442.1,981.9 442.8,980.7 443.5,976.1 444.1,976 444.8,979.9 445.5,980.4 446.1,979.6 446.8,976.8 447.5,977.2 448.1,978.2 448.8,977.1 449.5,977.3 450.1,975.4 450.8,972.7 451.5,976.5 452.1,979.3 452.8,977.4 453.5,976 454.1,974.8 454.8,973.7 455.5,971.5 456.1,972.6 456.8,973.8 457.5,973.3 458.1,971.8 458.8,970.3 459.5,971.5 460.2,971.4 460.8,970.5 461.5,971 462.2,969.8 462.8,969 463.5,970.2 464.2,969.6 464.8,968.4 465.5,968.2 466.2,969 466.8,968.5 467.5,967.8 468.2,967.4 468.8,966.7 469.5,966.4 470.2,966.1 470.8,965.2 471.5,965.6 472.2,965.4 472.8,962.8 473.5,962.9 474.2,964.7 474.8,962.9 475.5,959.2 476.2,959.6 476.8,960.9 477.5,959.9 478.2,959.4 478.8,959.8 479.5,959.1 480.2,958.8 480.8,958.8 481.5,958 482.2,956.4 482.8,956.7 483.5,957.5 484.2,956.5 484.8,955.3 485.5,958.9 486.2,959.2 486.8,955.1 487.5,954.1 488.2,952.7 488.8,952.3 489.5,950.9 490.2,949.2 490.8,949.4 491.5,948.8 492.2,945 492.8,944.4 493.5,946.9 494.2,945.9 494.8,944 495.5,944.5 496.2,942.5 496.8,939.3 497.5,936.5 498.2,935.9 498.8,936.4 499.5,935.6 500.2,935.1 500.8,932.2 501.5,931.5 502.2,932 502.8,931.1 503.5,928.2 504.2,924.4 504.8,922.2 505.5,920.3 506.2,918.5 506.8,912.5 507.5,904.7 508.2,899.2 508.8,894.2 509.5,890.7 510.2,887.2 510.8,880.8 511.5,876.4 512.2,873.7 512.8,868.6 513.5,863.7 514.2,856.4 514.8,850.6 515.5,844.9 516.2,840.2 516.8,836.9 517.5,831.1 518.2,824.1 518.8,816.7 519.5,815 520.2,810.7 520.8,805.9 521.5,806 522.2,805.4 522.8,801 523.5,795.4 524.2,795.2 524.8,794.8 525.5,792.8 526.2,791 526.9,792.5 527.5,798.7 528.2,802.7 528.9,802.5 529.5,804.6 530.2,815.5 530.9,825.3 531.5,830.2 532.2,837.1 532.9,845.8 533.5,853.3 534.2,859.4 534.9,863.4 535.5,870.3 536.2,878.2 536.9,884.3 537.5,889.7 538.2,894.8 538.9,899.1 539.5,899.8 540.2,899.8 540.9,902 541.5,903.6 542.2,904.2 542.9,905.6 543.5,906.9 544.2,908.2 544.9,909.3 545.5,909.9 546.2,908.5 546.9,908.6 547.5,910.2 548.2,909.7 548.9,906.7 549.5,907.6 550.2,910.5 550.9,907.9 551.5,906.8 552.2,909.3 552.9,910.1 553.5,908.4 554.2,907.7 554.9,906.5 555.5,906 556.2,905.6 556.9,900.2 557.5,897.1 558.2,897.1 558.9,896.4 559.5,893.5 560.2,893.5 560.9,894.8 561.5,890.2 562.2,889.7 562.9,891.2 563.5,887.8 564.2,884.7 564.9,881.5 565.5,876.3 566.2,869.3 566.9,864.3 567.5,861.2 568.2,856.4 568.9,849.5 569.5,843.4 570.2,837.3 570.9,833.1 571.5,829 572.2,819.6 572.9,804.5 573.5,795.5 574.2,791.3 574.9,783.4 575.5,775.6 576.2,766.6 576.9,756.1 577.5,747.9 578.2,735.8 578.9,721.4 579.5,712.7 580.2,703.8 580.9,697.2 581.5,693.5 582.2,684.6 582.9,682.2 583.5,686.3 584.2,686.6 584.9,686.3 585.5,687.2 586.2,696.6 586.9,701.5 587.5,703.9 588.2,715.1 588.9,726.4 589.5,736.3 590.2,746.7 590.9,755.6 591.5,765.5 592.2,777.6 592.9,789.8 593.6,802.7 594.2,815.7 594.9,825.1 595.6,830.3 596.2,843 596.9,854.8 597.6,858.3 598.2,863 598.9,865.2 599.6,866.9 600.2,869.7 600.9,871.9 601.6,873.5 602.2,875 602.9,875.6 603.6,876.3 604.2,876.4 604.9,874.1 605.6,874.2 606.2,878.4 606.9,879 607.6,876.2 608.2,875.6 608.9,874.6 609.6,874.9 610.2,875.9 610.9,875.3 611.6,878 612.2,877.5 612.9,875.1 613.6,869.7 614.2,867.8 614.9,871.9 615.6,870.7 616.2,869.9 616.9,869.8 617.6,868.9 618.2,866.6 618.9,866 619.6,865.7 620.2,863.2 620.9,861.2 621.6,859.3 622.2,857.6 622.9,860.8 623.6,861.5 624.2,856.9 624.9,853 625.6,850.8 626.2,853.6 626.9,855.1 627.6,851.5 628.2,849.5 628.9,850.3 629.6,849.2 630.2,847.8 630.9,846.9 631.6,847.4 632.2,847.4 632.9,847.2 633.6,844.5 634.2,844.2 634.9,849.5 635.6,849.2 636.2,844.1 636.9,847.8 637.6,853.6 638.2,854.9 638.9,853.4 639.6,854.7 640.2,860 640.9,857.5 641.6,857.6 642.2,860.8 642.9,861.3 643.6,860.9 644.2,861.2 644.9,862.3 645.6,860.3 646.2,861.3 646.9,862.4 647.6,860.8 648.2,862.8 648.9,862.9 649.6,860.8 650.2,860.9 650.9,860.5 651.6,856.7 652.2,857.4 652.9,859.9 653.6,860.5 654.2,857.7 654.9,856.9 655.6,859.4 656.2,855.9 656.9,855.5 657.6,858.8 658.2,860.1 658.9,859.1 659.6,857.8 660.3,858.4 660.9,859.5 661.6,857.5 662.3,852 662.9,851.3 663.6,850 664.3,845.7 664.9,845.8 665.6,845.8 666.3,841.8 666.9,839.6 667.6,839.9 668.3,839.8 668.9,837.7 669.6,837.8 670.3,836.9 670.9,834.3 671.6,834.5 672.3,834.1 672.9,834.2 673.6,838.6 674.3,841.9 674.9,838.3 675.6,834.2 676.3,833.3 676.9,834.4 677.6,835 678.3,836.3 678.9,837 679.6,837.8 680.3,840.1 680.9,841.3 681.6,842 682.3,843.7 682.9,844.7 683.6,846.7 684.3,848 684.9,847.8 685.6,850.4 686.3,853.6 686.9,852.8 687.6,853.2 688.3,854.3 688.9,854.8 689.6,857.5 690.3,859.1 690.9,859.4 691.6,860.7 692.3,862.7 692.9,861.2 693.6,862.4 694.3,862.7 694.9,862.4 695.6,863.3 696.3,863.6 696.9,862.8 697.6,861.5 698.3,861.3 698.9,860.4 699.6,861.1 700.3,861.3 700.9,860.6 701.6,859.1 702.3,851.5 702.9,851.9 703.6,858.8 704.3,856.5 704.9,856.6 705.6,857.7 706.3,857.5 706.9,857.7 707.6,858.3 708.3,859.1 708.9,859.8 709.6,860.8 710.3,853.2 710.9,852.2 711.6,862.2 712.3,859.1 712.9,856.7 713.6,859.4 714.3,858.9 714.9,857.7 715.6,857.6 716.3,859.8 716.9,858.8 717.6,856.5 718.3,855.6 718.9,853.5 719.6,849.6 720.3,848.2 720.9,848.9 721.6,847.3 722.3,844.9 722.9,845.4 723.6,842.3 724.3,837.9 724.9,838.7 725.6,841.2 726.3,839.1 727,836.9 727.6,837.8 728.3,834.3 729,834 729.6,836.2 730.3,830.8 731,828.8 731.6,830.7 732.3,830.4 733,826.4 733.6,824.3 734.3,823.8 735,823.2 735.6,822.5 736.3,822.4 737,823 737.6,815.1 738.3,814 739,818.8 739.6,817.5 740.3,815 741,815.9 741.6,816.5 742.3,811.6 743,811 743.6,810.9 744.3,810.3 745,812.2 745.6,809.4 746.3,802.4 747,801.7 747.6,804.7 748.3,802.3 749,800 749.6,795.2 750.3,795.9 751,795.2 751.6,790.1 752.3,788.7 753,786.4 753.6,783.5 754.3,777.8 755,775.9 755.6,774.7 756.3,772.2 757,769.3 757.6,767.6 758.3,765.3 759,760.3 759.6,757 760.3,754 761,750.9 761.6,747.4 762.3,742.9 763,740.8 763.6,739 764.3,734.7 765,732.8 765.6,731.7 766.3,729 767,727.9 767.6,726.8 768.3,723.2 769,724 769.6,728.9 770.3,729.3 771,730.1 771.6,733.5 772.3,734.8 773,736.2 773.6,738.5 774.3,743.5 775,747 775.6,747 776.3,752.7 777,759.2 777.6,763.9 778.3,770.2 779,775.9 779.6,780.9 780.3,784.3 781,784.7 781.6,786.4 782.3,792 783,791.3 783.6,794.1 784.3,800.9 785,802.2 785.6,806 786.3,807 787,808.5 787.6,813 788.3,816.7 789,820.3 789.6,822.4 790.3,824.8 791,829.1 791.6,832 792.3,831.7 793,831.1 793.7,835 794.3,839.1 795,837.7 795.7,837.3 796.3,839.9 797,840.1 797.7,837.1 798.3,837.3 799,838.2 799.7,836.5 800.3,836.4 801,839.9 801.7,842.3 802.3,839.4 803,838.8 803.7,838.4 804.3,836 805,835.9 805.7,835.9 806.3,839.1 807,838.4 807.7,835.2 808.3,835.8 809,838.1 809.7,838.1 810.3,836.7 811,837.3 811.7,838.9 812.3,838.8 813,838.6 813.7,840.1 814.3,835.8 815,836.4 815.7,839.9 816.3,838.5 817,835.6 817.7,837.4 818.3,838.8 819,838.9 819.7,840.6 820.3,838.7 821,838.9 821.7,835 822.3,834.7 823,836.6 823.7,834.1 824.3,836.6 825,837.5 825.7,836.9 826.3,836.7 827,835.9 827.7,837.6 828.3,836.5 829,835.5 829.7,837.4 830.3,836.5 831,832.1 831.7,833.8 832.3,838.3 833,837.1 833.7,834.2 834.3,833.6 835,834.4 835.7,837.8 836.3,838.4 837,836.3 837.7,834.7 838.3,832.8 839,833.1 839.7,835.2 840.3,834.7 841,835.5 841.7,834.5 842.3,830.1 843,827.5 843.7,826.7 844.3,829.1 845,830.1 845.7,828 846.3,826.1 847,824.5 847.7,823.7 848.3,823.8 849,824.5 849.7,823.8 850.3,821.5 851,816.7 851.7,811.8 852.3,812.1 853,808.8 853.7,803.5 854.3,798.8 855,791.3 855.7,788.9 856.3,787.6 857,781.3 857.7,774.8 858.3,769.2 859,760.4 859.7,748.7 860.4,740.5 861,733.4 861.7,728.8 862.4,725.1 863,717 863.7,711.8 864.4,706.8 865,702 865.7,699.1 866.4,689.6 867,681.6 867.7,675.2 868.4,670.2 869,657.7 869.7,639.1 870.4,623.1 871,615.8 871.7,613.8 872.4,604.1 873,596.7 873.7,587.9 874.4,580.4 875,575.2 875.7,566.9 876.4,564.5 877,564.1 877.7,562.4 878.4,559.3 879,559.9 879.7,562.1 880.4,564.1 881,573.9 881.7,571.2 882.4,568.7 883,572.9 883.7,578.4 884.4,597.9 885,607.7 885.7,613 886.4,625.8 887,637.9 887.7,647 888.4,656.7 889,672.2 889.7,684.5 890.4,696.7 891,713.8 891.7,726.6 892.4,735.6 893,746.5 893.7,749.6 894.4,756.5 895,765.6 895.7,771.7 896.4,778.1 897,785.8 897.7,797.6 898.4,806.7 899,812.9 899.7,823 900.4,829.6 901,833.6 901.7,843 902.4,848.5 903,852.4 903.7,855 904.4,858.4 905,863.3 905.7,865 906.4,866.6 907,867.1 907.7,868.8 908.4,877.3 909,880.5 909.7,880.8 910.4,883.5 911,884 911.7,885.2 912.4,887.3 913,889.6 913.7,891.6 914.4,895.4 915,899.2 915.7,902.9 916.4,906.1 917,907.3 917.7,907.9 918.4,909.5 919,909.9 919.7,909.7 920.4,911.1 921,912.6 921.7,912.8 922.4,912.2 923,913.1 923.7,914.2 924.4,914.3 925,914.8 925.7,914.9 926.4,916.6 927.1,917.5 927.7,915.6 928.4,915.3 929.1,917.1 929.7,916.7 930.4,917.1 931.1,920.2 931.7,920.9 932.4,923 933.1,925 933.7,924.2 934.4,923.9 935.1,924.8 935.7,925.9 936.4,927.2 937.1,926.7 937.7,925.6 938.4,926.3 939.1,927.2 939.7,927.3 940.4,929.2 941.1,928.9 941.7,926.3 942.4,926.5 943.1,930.5 943.7,930.4 944.4,926.6 945.1,926.3 945.7,923.9 946.4,921.5 947.1,923.9 947.7,925.5 948.4,926 949.1,926.9 949.7,927.1 950.4,927.6 951.1,926.9 951.7,927.3 952.4,927.1 953.1,927.2 953.7,927.8 954.4,928.5 955.1,928.7 955.7,926.9 956.4,928.1 957.1,929.3 957.7,929.2 958.4,928.8 959.1,929.2 959.7,928.3 960.4,927.4 961.1,927.1 961.7,927.9 962.4,928.8 963.1,928.3 963.7,928.9 964.4,929 965.1,929.2 965.7,929.8 966.4,929.7 967.1,929.5 967.7,929.2 968.4,928.9 969.1,928.9 969.7,929.8 970.4,930.1 971.1,929.9 971.7,933 972.4,934.3 973.1,933.5 973.7,934.5 974.4,933.5 975.1,932.7 975.7,934 976.4,936 977.1,936.8 977.7,936.7 978.4,937 979.1,936.4 979.7,936.9 980.4,937.2 981.1,938.3 981.7,939.6 982.4,939.1 983.1,939.6 983.7,939.7 984.4,940.8 985.1,941.2 985.7,940.9 986.4,942.2 987.1,941.2 987.7,942 988.4,941 989.1,939.2 989.7,942.2 990.4,946.4 991.1,945.1 991.7,943.5 992.4,945.9 993.1,947.7 993.8,949 994.4,950.6 995.1,950.8 995.8,949.9 996.4,952 997.1,952.6 997.8,950.8 998.4,950.5 999.1,950.9 999.8,952.3 1000.4,953.4 1001.1,951.9 1001.8,952.3 1002.4,952.6 1003.1,953.7 1003.8,956.5 1004.4,957.1 1005.1,958.5 1005.8,958.8 1006.4,956.5 1007.1,955.4 1007.8,958 1008.4,959.4 1009.1,960.5 1009.8,959.4 1010.4,959.3 1011.1,959.3 1011.8,959.2 1012.4,961 1013.1,961 1013.8,959.2 1014.4,958.3 1015.1,961.4 1015.8,961.8 1016.4,960.3 1017.1,960.8 1017.8,962.6 1018.4,962.8 1019.1,960.8 1019.8,963.5 1020.4,963.2 1021.1,960.9 1021.8,963.1 1022.4,963.1 1023.1,964.1 1023.8,964.1 1024.4,961.9 1025.1,962.3 1025.8,963.3 1026.4,963 1027.1,962.7 1027.8,962 1028.4,962.9 1029.1,963.5 1029.8,963.2 1030.4,965.3 1031.1,966.2 1031.8,963.9 1032.4,961.8 1033.1,961.2 1033.8,962.9 1034.4,965.4 1035.1,966.9 1035.8,966.7 1036.4,966.1 1037.1,967.1 1037.8,968 1038.4,967.3 1039.1,967.4 1039.8,968.9 1040.4,968.8 1041.1,968.6 1041.8,970.1 1042.4,967 1043.1,965.8 1043.8,968.8 1044.4,968.6 1045.1,966.9 1045.8,967.3 1046.4,969.4 1047.1,968.7 1047.8,968 1048.4,969.4 1049.1,968.8 1049.8,968.1 1050.4,968 1051.1,967 1051.8,967 1052.4,966.7 1053.1,967.1 1053.8,967.3 1054.4,966.7 1055.1,966.9 1055.8,966.3 1056.4,965.7 1057.1,966.3 1057.8,966.9 1058.4,966.5 1059.1,964.7 1059.8,964.3 1060.5,963.5 1061.1,962.8 1061.8,963.3 1062.5,962.2 1063.1,962.2 1063.8,962.5 1064.5,963.7 1065.1,964.6 1065.8,963.8 1066.5,963 1067.1,963.7 1067.8,964.1 1068.5,963.8 1069.1,963.3 1069.8,961.7 1070.5,962.7 1071.1,964.5 1071.8,964.4 1072.5,964.7 1073.1,964.2 1073.8,962.9 1074.5,964.2 1075.1,964.7 1075.8,964.4 1076.5,963.2 1077.1,959.9 1077.8,960.2 1078.5,964.2 1079.1,965.7 1079.8,964.6 1080.5,965.2 1081.1,967.1 1081.8,966.4 1082.5,963 1083.1,963.7 1083.8,965.8 1084.5,965.8 1085.1,964.4 1085.8,964.5 1086.5,965.5 1087.1,965.8 1087.8,966.5 1088.5,967.9 1089.1,967.7 1089.8,966.9 1090.5,966.1 1091.1,967.4 1091.8,970.1 1092.5,971.7 1093.1,971.6 1093.8,971.2 1094.5,973.6 1095.1,973.7 1095.8,973.2 1096.5,975.2 1097.1,976.3 1097.8,971.9 1098.5,971.4 1099.1,974.3 1099.8,974.3 1100.5,974.3 1101.1,976.9 1101.8,977.9 1102.5,975.6 1103.1,975.9 1103.8,975.4 1104.5,976.2 1105.1,978.4 1105.8,977.9 1106.5,976.1 1107.1,976.4 1107.8,972.8 1108.5,971.3 1109.1,976 1109.8,976.8 1110.5,977.3 1111.1,978.5 1111.8,978.4 1112.5,977.6 1113.1,980.2 1113.8,981.7 1114.5,980.8 1115.1,979.3 1115.8,976.5 1116.5,975.7 1117.1,977.6 1117.8,980.6 1118.5,980.4 1119.1,982.4 1119.8,983.3 1120.5,980 1121.1,980.1 1121.8,980.5 1122.5,979.1 1123.1,974.1 1123.8,973.8 1124.5,978 1125.1,979.5 1125.8,979.8 1126.5,978.7 1127.2,978.8 1127.8,977.7 1128.5,977.7 1129.2,978.5 1129.8,978.2 1130.5,978.5 1131.2,978.8 1131.8,978 1132.5,977.8 1133.2,976.2 1133.8,977.9 1134.5,979 1135.2,973.4 1135.8,973.3 1136.5,976.3 1137.2,975.7 1137.8,974 1138.5,975.1 1139.2,976.3 1139.8,975.3 1140.5,975.6 1141.2,976 1141.8,973.1 1142.5,971.9 1143.2,973.6 1143.8,973.5 1144.5,972.7 1145.2,972.7 1145.8,972.4 1146.5,974.8 1147.2,976.1 1147.8,973.5 1148.5,974 1149.2,973.5 1149.8,972.2 1150.5,972.3 1151.2,971.1 1151.8,970.7 1152.5,971.1 1153.2,968.9 1153.8,969 1154.5,970.5 1155.2,971 1155.8,970.3 1156.5,969.6 1157.2,970.8 1157.8,971.8 1158.5,971.7 1159.2,971.3 1159.8,969.5 1160.5,968.4 1161.2,969.5 1161.8,969.3 1162.5,970.8 1163.2,972.7 1163.8,968.3 1164.5,966.8 1165.2,971.9 1165.8,972.4 1166.5,969.2 1167.2,969.7 1167.8,972.5 1168.5,975.1 1169.2,974.7 1169.8,972.6 1170.5,973.8 1171.2,975.5 1171.8,976.8 1172.5,975.4 1173.2,973.9 1173.8,974.5 1174.5,973.2 1175.2,973.3 1175.8,976.2 1176.5,976.6 1177.2,977.2 1177.8,977.2 1178.5,977.6 1179.2,978.2 1179.8,980 1180.5,980.9 1181.2,979.2 1181.8,979.1 1182.5,978 1183.2,978.3 1183.8,978.7 1184.5,978.3 1185.2,979.7 1185.8,981.3 1186.5,980.8 1187.2,981.1 1187.8,981.6 1188.5,979.2 1189.2,979.8 1189.8,979.9 1190.5,978.9 1191.2,982.7 1191.8,983.3 1192.5,981.3 1193.2,981.6 1193.9,980.5 1194.5,980 1195.2,979.3 1195.9,977.4 1196.5,978.1 1197.2,978.1 1197.9,979.1 1198.5,982.6 1199.2,982.5 1199.9,981.2 1200.5,980.9 1201.2,981.3 1201.9,980.9 1202.5,980.7 1203.2,982.5 1203.9,982.9 1204.5,981 1205.2,980.9 1205.9,981.1 1206.5,981 1207.2,980.3 1207.9,980.9 1208.5,982.5 1209.2,981.9 1209.9,982.1 1210.5,981.6 1211.2,979.8 1211.9,980.8 1212.5,982.9 1213.2,982 1213.9,982.2 1214.5,982.5 1215.2,981.8 1215.9,982 1216.5,982 1217.2,981.9 1217.9,983.5 1218.5,982 1219.2,980.5 1219.9,982.8 1220.5,983.5 1221.2,982.9 1221.9,982.7 1222.5,983 1223.2,983.7 1223.9,984.5 1224.5,981.5 1225.2,981 1225.9,984.5 1226.5,985.1 1227.2,986.1 1227.9,986.4 1228.5,984 1229.2,982.8 1229.9,985.8 1230.5,985.4 1231.2,982.9 1231.9,984.3 1232.5,984.9 1233.2,984.3 1233.9,984.8 1234.5,986.1 1235.2,986.2 1235.9,988.8 1236.5,988.6 1237.2,983.7 1237.9,984.2 1238.5,986.3 1239.2,985.1 1239.9,985 1240.5,982.8 1241.2,982.8 1241.9,985.7 1242.5,986.9 1243.2,986.3 1243.9,984.5 1244.5,983.9 1245.2,985.8 1245.9,987.1 1246.5,986.4 1247.2,987.8 1247.9,988.2 1248.5,985.9 1249.2,985.1 1249.9,985.2 1250.5,982.9 1251.2,982.6 1251.9,985 1252.5,987.2 1253.2,986.7 1253.9,984.7 1254.5,985.5 1255.2,986.1 1255.9,985.9 1256.5,986.1 1257.2,986 1257.9,986.8 1258.5,988.3 1259.2,988.6 1259.9,986.3 1260.6,985.4 1261.2,985.9 1261.9,985.8 1262.6,986 1263.2,989.3 1263.9,989.4 1264.6,987 1265.2,984.9 1265.9,985.4 1266.6,986 1267.2,984.3 1267.9,984.6 1268.6,985.2 1269.2,985.7 1269.9,984.3 1270.6,980.8 1271.2,981.4 1271.9,984 1272.6,984.1 1273.2,983.4 1273.9,983.4 1274.6,983.8 1275.2,983.7 1275.9,982.8 1276.6,981.2 1277.2,981.5 1277.9,981.5 1278.6,981.3 1279.2,980.6 1279.9,978.4 1280.6,977.6 1281.2,980.2 1281.9,979.8 1282.6,979.6 1283.2,981.6 1283.9,978.1 1284.6,976.2 1285.2,978.5 1285.9,979.6 1286.6,979.5 1287.2,977.8 1287.9,976.4 1288.6,976.5 1289.2,977.2 1289.9,979.2 1290.6,979 1291.2,977.2 1291.9,978.5 1292.6,977.6 1293.2,975.1 1293.9,971.7 1294.6,972.3 1295.2,975.8 1295.9,975.2 1296.6,974.2 1297.2,972.1 1297.9,971.9 1298.6,973.9 1299.2,973.4 1299.9,974.3 1300.6,973 1301.2,971.2 1301.9,972.8 1302.6,971.3 1303.2,971.5 1303.9,972.8 1304.6,972 1305.2,972.2 1305.9,973.5 1306.6,973.8 1307.2,973.2 1307.9,974.7 1308.6,974.4 1309.2,973.1 1309.9,973.4 1310.6,973.4 1311.2,974.7 1311.9,974 1312.6,975 1313.2,976.7 1313.9,974.3 1314.6,973.4 1315.2,974.2 1315.9,973.7 1316.6,973.6 1317.2,975.1 1317.9,975.3 1318.6,974.9 1319.2,975.4 1319.9,976.5 1320.6,976.6 1321.2,974.4 1321.9,974.3 1322.6,974.4 1323.2,973.4 1323.9,974.6 1324.6,974.6 1325.2,974.6 1325.9,975.6 1326.6,975.4 1327.3,976.7 1327.9,977.9 1328.6,976.2 1329.3,976.6 1329.9,976.6 1330.6,974.6 1331.3,976.3 1331.9,977.4 1332.6,975.6 1333.3,975.6 1333.9,977.1 1334.6,978.3 1335.3,978.8 1335.9,979.8 1336.6,980.1 1337.3,979.9 1337.9,979 1338.6,978 1339.3,977.1 1339.9,976.7 1340.6,977.8 1341.3,979.3 1341.9,981.1 1342.6,980.3 1343.3,978.6 1343.9,978.9 1344.6,979.4 1345.3,978.8 1345.9,979.9 1346.6,980.4 1347.3,979.6 1347.9,979.4 1348.6,979 1349.3,979.2 1349.9,979.2 1350.6,980 1351.3,977.6 1351.9,975.6 1352.6,977.3 1353.3,979.2 1353.9,979.7 1354.6,981.4 1355.3,981.1 1355.9,978.2 1356.6,978.6 1357.3,979.5 1357.9,980.7 1358.6,983.6 1359.3,982.3 1359.9,978.3 1360.6,979.2 1361.3,980.5 1361.9,981.7 1362.6,980.5 1363.3,980.3 1363.9,981.7 1364.6,980.5 1365.3,980.9 1365.9,981.2 1366.6,981.3 1367.3,981 1367.9,979.4 1368.6,979.4 1369.3,979.5 1369.9,979.9 1370.6,981.6 1371.3,981.7 1371.9,980.3 1372.6,980.5 1373.3,980.4 1373.9,979.4 1374.6,980.1 1375.3,981.3 1375.9,981.3 1376.6,980 1377.3,975.6 1377.9,972.7 1378.6,977.9 1379.3,981.8 1379.9,980.8 1380.6,980 1381.3,979.4 1381.9,979 1382.6,980.2 1383.3,978.6 1383.9,977.3 1384.6,979.7 1385.3,980 1385.9,979.2 1386.6,977.4 1387.3,976.9 1387.9,977.9 1388.6,977.2 1389.3,977.6 1389.9,977.4 1390.6,978.1 1391.3,978.7 1391.9,978 1392.6,977.6 1393.3,976.5 1394,978.6 1394.6,979.1 1395.3,977.8 1396,977.8 1396.6,977.8 1397.3,979.9 1398,979.5 1398.6,977.5 1399.3,977 1400,975 1400.6,975.5 1401.3,976.9 1402,975.4 1402.6,977.4 1403.3,980.9 1404,978.6 1404.6,976.7 1405.3,978.2 1406,977.2 1406.6,976.8 1407.3,975 1408,973.8 1408.6,976 1409.3,976.6 1410,975.4 1410.6,975.5 1411.3,976.8 1412,976.3 1412.6,975 1413.3,973.5 1414,974.8 1414.6,976.2 1415.3,975.8 1416,976 1416.6,975.9 1417.3,978.5 1418,979.5 1418.6,977.6 1419.3,976.5 1420,975.9 1420.6,978.4 1421.3,975.8 1422,973.8 1422.6,977.6 1423.3,977.1 1424,975.4 1424.6,974.3 1425.3,976.3 1426,977.6 1426.6,976.6 1427.3,977.8 1428,978.4 1428.6,976.2 1429.3,975 1430,977.9 1430.6,979.5 1431.3,978.5 1432,978.8 1432.6,979.6 1433.3,977.5 1434,976.2 1434.6,978.9 1435.3,979.3 1436,978.8 1436.6,978.5 1437.3,977.7 1438,978.2 1438.6,980.2 1439.3,981.4 1440,979.9 1440.6,979.4 1441.3,978.8 1442,977.7 1442.6,978.3 1443.3,979.3 1444,982 1444.6,981.7 1445.3,979.8 1446,980.4 1446.6,979 1447.3,978.5 1448,978.8 1448.6,979.2 1449.3,977.2 1450,977.1 1450.6,980.6 1451.3,980.7 1452,979.4 1452.6,979.5 1453.3,979.6 1454,979.6 1454.6,981.4 1455.3,981.1 1456,980.4 1456.6,980.3 1457.3,980.8 1458,980.7 1458.6,981.7 1459.3,981.4 1460,978.3 1460.7,979.3 1461.3,979.8 1462,978.4 1462.7,978.3 1463.3,978.7 1464,977.2 1464.7,977 1465.3,980.6 1466,981.5 1466.7,980.2 1467.3,978.3 1468,977.8 1468.7,979.7 1469.3,980.1 1470,981.5 1470.7,981.6 1471.3,981.7 1472,981.7 1472.7,979.6 1473.3,977.9 1474,980.1 1474.7,980 1475.3,978 1476,979.5 1476.7,979.9 1477.3,980.6 1478,980.6 1478.7,981.1 1479.3,981.1 1480,979.9 1480.7,981.7 1481.3,982.7 1482,980.7 1482.7,979.8 1483.3,980.5 1484,980 1484.7,979.7 1485.3,979.5 1486,979.8 1486.7,981.7 1487.3,981 1488,977 1488.7,977.2 1489.3,981.3 1490,983.2 1490.7,982.1 1491.3,981.2 1492,981 1492.7,979.4 1493.3,979.5 1494,980 1494.7,982.4 1495.3,984.2 1496,984.7 1496.7,983.8 1497.3,981.2 1498,980.3 1498.7,979.7 1499.3,981.7 1500,982.7 1500.7,980.3 1501.3,978.7 1502,979 1502.7,978.9 1503.3,979.7 1504,982 1504.7,980.7 1505.3,979.6 1506,980.1 1506.7,979.1 1507.3,976.7 1508,976.6 1508.7,978 1509.3,976.4 1510,976.5 1510.7,973.9 1511.3,975.6 1512,977.9 1512.7,976.4 1513.3,979.1 1514,977.5 1514.7,975.9 1515.3,977.4 1516,976.9 1516.7,977.1 1517.3,976.8 1518,976 1518.7,978.1 1519.3,981.4 1520,979.8 1520.7,977.7 1521.3,977.8 1522,976.3 1522.7,975.4 1523.3,977.3 1524,978.4 1524.7,977.4 1525.3,979.9 1526,980.9 1526.7,980.4 1527.4,981.1 1528,978.9 1528.7,977.6 1529.4,979.8 1530,979.5 1530.7,980.3 1531.4,980.4 1532,978.7 1532.7,981.3 1533.4,980.9 1534,979.2 1534.7,980.7 1535.4,981.4 1536,980.4 1536.7,980.2 1537.4,980.5 1538,979.1 1538.7,978.7 1539.4,979.1 1540,978.3 1540.7,978.5 1541.4,981.9 1542,980.5 1542.7,977.9 1543.4,978.1 1544,979.2 1544.7,980.9 1545.4,984.7 1546,984.9 1546.7,979.2 1547.4,979.7 1548,978.8 1548.7,977.1 1549.4,978.8 1550,979 1550.7,979.1 1551.4,980 1552,979.7 1552.7,978.9 1553.4,977.4 1554,977.2 1554.7,978.9 1555.4,978.2 1556,976.3 1556.7,976.9 1557.4,977 1558,975.8 1558.7,976.8 1559.4,978.5 1560,977.1 1560.7,977.4 1561.4,977 1562,974.3 1562.7,976.6 1563.4,977.7 1564,977 1564.7,976.9 1565.4,975.1 1566,975.2 1566.7,976.8 1567.4,976.7 1568,975.8 1568.7,976.1 1569.4,977.7 1570,977.5 1570.7,977.6 1571.4,977.3 1572,976.2 1572.7,977 1573.4,975.9 1574,975.5 1574.7,976.6 1575.4,976.2 1576,977 1576.7,977.3 1577.4,977.9 1578,978.4 1578.7,979.6 1579.4,979.3 1580,976.5 1580.7,977 1581.4,977.5 1582,977 1582.7,978.5 1583.4,979.1 1584,978.4 1584.7,980.7 1585.4,979.8 1586,978 1586.7,980.8 1587.4,981.2 1588,979.5 1588.7,978.9 1589.4,979.5 1590,980.8 1590.7,982.1 1591.4,981.1 1592,980.4 1592.7,979.7 1593.4,979.4 1594.1,979.4 1594.7,979.5 1595.4,981.4 1596.1,979.7 1596.7,979.8 1597.4,981.1 1598.1,981.2 1598.7,981.7 1599.4,980.3 1600.1,979.1 1600.7,978.7 1601.4,980.5 1602.1,981.7 1602.7,981.3 1603.4,981.1 1604.1,979.9 1604.7,980.2 1605.4,983.2 1606.1,983.3 1606.7,981.6 1607.4,982.9 1608.1,983.1 1608.7,982.5 1609.4,983.1 1610.1,985.8 1610.7,985.6 1611.4,982.1 1612.1,982.8 1612.7,984.8 1613.4,985.4 1614.1,986.7 1614.7,990.1 1615.4,988.2 1616.1,986.4 1616.7,987.2 1617.4,987 1618.1,987.7 1618.7,986.9 1619.4,987.4 1620.1,988.2 1620.7,989.3 1621.4,987.8 1622.1,987.6 1622.7,989.8 1623.4,989.4 1624.1,988.5 1624.7,984.8 1625.4,984 1626.1,987 1626.7,987.2 1627.4,986.7 1628.1,986.3 1628.7,986 1629.4,986.1 1630.1,985.6 1630.7,985.2 1631.4,985.9 1632.1,986.2 1632.7,985.4 1633.4,984.5 1634.1,983 1634.7,982.8 1635.4,983.7 1636.1,983.8 1636.7,983.8 1637.4,983.4 1638.1,979.7 1638.7,980.1 1639.4,985.8 1640.1,985.9 1640.7,982.2 1641.4,981.2 1642.1,982.5 1642.7,981.9 1643.4,981.7 1644.1,982.6 1644.7,983.3 1645.4,983.2 1646.1,983.7 1646.7,986.4 1647.4,987.3 1648.1,984.3 1648.7,982.4 1649.4,983.4 1650.1,984.4 1650.7,987.6 1651.4,989.5 1652.1,986.8 1652.7,984.3 1653.4,984.4 1654.1,985.1 1654.7,984.7 1655.4,986.5 1656.1,987.2 1656.7,985.9 1657.4,986.7 1658.1,985.2 1658.7,984.2 1659.4,986 1660.1,986.1 1660.8,986.5 1661.4,986.3 1662.1,985.9 1662.8,987.7 1663.4,988.2 1664.1,986.5 1664.8,986.2 1665.4,986.6 1666.1,986.2 1666.8,987.2 1667.4,988.3 1668.1,987.8 1668.8,986.3 1669.4,985.9 1670.1,987.1 1670.8,985.1 1671.4,983.6 1672.1,985.7 1672.8,984.4 1673.4,982.9 1674.1,984.8 1674.8,986.8 1675.4,987.2 1676.1,986.9 1676.8,986.8 1677.4,987.2 1678.1,986.3 1678.8,985 1679.4,986.9 1680.1,987.3 1680.8,986.2 1681.4,987.3 1682.1,987.3 1682.8,986 1683.4,988.5 1684.1,989.4 1684.8,988.8 1685.4,990.8 1686.1,990.5 1686.8,991.3 1687.4,990.3 1688.1,990.9 1688.8,992.7 1689.4,990.8 1690.1,990 1690.8,992.6 1691.4,993.3 1692.1,991 1692.8,992.1 1693.4,993.7 1694.1,992.4 1694.8,993.8 1695.4,995.5 1696.1,993.4 1696.8,992.2 1697.4,992.9 1698.1,994.3 1698.8,994.7 1699.4,995.7 1700.1,996.5 1700.8,995.7 1701.4,995.3 1702.1,995.5 1702.8,994.8 1703.4,994.4 1704.1,996.2 1704.8,997 1705.4,996.7 1706.1,996.2 1706.8,995.5 1707.4,996.3 1708.1,997.4 1708.8,995.3 1709.4,994.2 1710.1,995.7 1710.8,997 1711.4,996.9 1712.1,996.1 1712.8,998.2 1713.4,998.8 1714.1,997.6 1714.8,995.3 1715.4,995.3 1716.1,996.2 1716.8,996.4 1717.4,997.1 1718.1,995.9 1718.8,995.4 1719.4,997.9 1720.1,999.3 1720.8,998.8 1721.4,998 1722.1,997 1722.8,997.4 1723.4,999.1 1724.1,998.2 1724.8,996.3 1725.4,996.6 1726.1,993.9 1726.8,993.2 1727.5,996.8 1728.1,998.2 1728.8,998.4 1729.5,998.3 1730.1,999.4 1730.8,999.2 1731.5,997.5 1732.1,998 1732.8,998.3 1733.5,996.9 1734.1,997.1 1734.8,998.3 1735.5,996.2 1736.1,995.6 1736.8,996.7 1737.5,997 1738.1,999.8 1738.8,1000.3 1739.5,998 1740.1,998 1740.8,998.4 1741.5,997.4 1742.1,997.9 1742.8,998.7 1743.5,998.4 1744.1,996.9 1744.8,994.7 1745.5,997.4 1746.1,997.7 1746.8,996.1 1747.5,997.2 1748.1,997.4 1748.8,998.3 1749.5,998.5 1750.1,997.6 1750.8,997.3 1751.5,998.5 1752.1,998.5 1752.8,998.6 1753.5,999 1754.1,998.5 1754.8,997.4 1755.5,997.1 1756.1,998.4 1756.8,996.6 1757.5,996.7 1758.1,998.8 1758.8,999.3 1759.5,999.7 1760.1,999.2 1760.8,1000 1761.5,999.6 1762.1,998.8 1762.8,999.7 1763.5,999.5 1764.1,999.5 1764.8,999.5 1765.5,999.2 1766.1,999.1 1766.8,1001.6 1767.5,999.7 1768.1,997.9 1768.8,999.7 1769.5,998.1 1770.1,997.8 1770.8,999.7 1771.5,999.7 1772.1,998.2 1772.8,998 1773.5,1001.5 1774.1,1003.3 1774.8,1000.2 1775.5,995.1 1776.1,994.2 1776.8,997.7 1777.5,995.6 1778.1,994 1778.8,997.3 1779.5,998.7 1780.1,998.3 1780.8,998.6 1781.5,997.9 1782.1,996.9 1782.8,997.8 1783.5,998.1 1784.1,997.8 1784.8,998 1785.5,997.7 1786.1,997.3 1786.8,1000.4 1787.5,999.2 1788.1,995.5 1788.8,997 1789.5,996.1 1790.1,995.7 1790.8,996.5 1791.5,996.7 1792.1,997.3 1792.8,996.5 1793.5,996.9 1794.2,996.2 1794.8,996.6 1795.5,997.8 1796.2,996 1796.8,994 1797.5,994.5 1798.2,992.6 1798.8,992.6 1799.5,996 1800.2,995.9 1800.8,996.2 1801.5,996.4 1802.2,995.9 1802.8,994.9 1803.5,994.4 1804.2,994.3 1804.8,996.5 1805.5,998.3 1806.2,996.5 1806.8,996 1807.5,997.1 1808.2,996.6 1808.8,995.8 1809.5,995.8 1810.2,994.8 1810.8,994.5 1811.5,995 1812.2,993.3 1812.8,994.9 1813.5,996.4 1814.2,994 1814.8,993.8 1815.5,994.7 1816.2,994.4 1816.8,994.1 1817.5,994.6 1818.2,994.1 1818.8,996.1 1819.5,995.4 1820.2,993.2 1820.8,993.8 1821.5,998 1822.2,1000.2 1822.8,996 1823.5,993.8 1824.2,993.4 1824.8,994.1 1825.5,994.9 1826.2,994.2 1826.8,994.3 1827.5,995.1 1828.2,995.4 1828.8,997.5 1829.5,996.6 1830.2,993.9 1830.8,994.6 1831.5,995.7 1832.2,991.8 1832.8,990 1833.5,992.3 1834.2,995 1834.8,995.8 1835.5,993.3 1836.2,996.1 1836.8,997 1837.5,996.4 1838.2,996.6 1838.8,996.7 1839.5,998.7 1840.2,998.4 1840.8,998.3 1841.5,997.4 1842.2,998.6 1842.8,1000.5 1843.5,999.6 1844.2,997.7 1844.8,997.6 1845.5,999.1 1846.2,999.2 1846.8,998.2 1847.5,995 1848.2,994.2 1848.8,998.8 1849.5,997.6 1850.2,996.4 1850.8,1000 1851.5,1004.8 1852.2,1003.9 1852.8,999.5 1853.5,1002.6 1854.2,1002.7 1854.8,998.4 1855.5,998.1 1856.2,999.4 1856.8,999.4 1857.5,997.8 1858.2,997.9 1858.8,999.4 1859.5,999.9 1860.2,1001.2 1860.9,1000.8 1861.5,1000.6 1862.2,1000.6 1862.9,1001.4 1863.5,1001.7 1864.2,1000.5 1864.9,1001.5 1865.5,1002.7 1866.2,1001.2 1866.9,1001.3 1867.5,1002.8 1868.2,1002.2 1868.9,1002.2 1869.5,1002.2 1870.2,999.9 1870.9,1000.4 1871.5,1001.4 1872.2,1002.2 1872.9,1002.6 1873.5,1002.1 1874.2,1001.6 1874.9,1002.3 1875.5,1005.4 1876.2,1005 1876.9,1002 1877.5,1000.7 1878.2,1001.3 1878.9,1004.3 1879.5,1004.5 1880.2,1001.8 1880.9,1001.9 1881.5,1002.5 1882.2,1001.1 1882.9,1001 1883.5,1004.6 1884.2,1005 1884.9,1002.6 1885.5,1002.1 1886.2,1003.1 1886.9,1004.7 1887.5,1005.5 1888.2,1003.5 1888.9,1003.2 1889.5,1003.8 1890.2,1003.5 1890.9,1003.7 1891.5,1002.6 1892.2,1003.3 1892.9,1004.3 1893.5,1003.8 1894.2,1003.3 1894.9,1003.6 1895.5,1004.5 1896.2,1004.6 1896.9,1003.1 1897.5,1003 1898.2,1002 1898.9,1001.8 1899.5,1004.4 1900.2,1004.6 1900.9,1004.1 1901.5,1005.9 1902.2,1008.1 1902.9,1007.8 1903.5,1005.9 1904.2,1003.7 1904.9,1003.1 1905.5,1003.6 1906.2,1004.2 1906.9,1004.5 1907.5,1005.8 1908.2,1006.5 1908.9,1006.7 1909.5,1007.4 1910.2,1008.9 1910.9,1008.8 1911.5,1006.5 1912.2,1003.7 1912.9,1004.1 1913.5,1006.1 1914.2,1006 1914.9,1005.9 1915.5,1005.4 1916.2,1005.1 1916.9,1006.2 1917.5,1006.9 1918.2,1006 1918.9,1005.7 1919.5,1006.8 1920.2,1007.8 1920.9,1006.2 1921.5,1005 1922.2,1006 1922.9,1006.7 1923.5,1007.6 1924.2,1006.3 1924.9,1006.7 1925.5,1008.8 1926.2,1006.7 1926.9,1006.3 1927.6,1007.2 1928.2,1006.6 1928.9,1005.5 1929.6,1005.6 1930.2,1007.4 1930.9,1006.8 1931.6,1006.3 1932.2,1005.5 1932.9,1006.1 1933.6,1007.6 1934.2,1009.2 1934.9,1008.7 1935.6,1007.8 1936.2,1008.5 1936.9,1008.7 1937.6,1009.5 1938.2,1008.1 1938.9,1006.6 1939.6,1007.6 1940.2,1007.8 1940.9,1007.1 1941.6,1008 1942.2,1004.5 1942.9,1003.8 1943.6,1007.1 1944.2,1006.3 1944.9,1006.6 1945.6,1007.4 1946.2,1006.8 1946.9,1007.2 1947.6,1007.5 1948.2,1006.8 1948.9,1007 1949.6,1007.4 1950.2,1007.3 1950.9,1008.9 1951.6,1006.7 1952.2,1005 1952.9,1006.5 1953.6,1006.6 1954.2,1006.6 1954.9,1007 1955.6,1010.1 1956.2,1009.7 1956.9,1007.9 1957.6,1007.3 1958.2,1006.9 1958.9,1007.9 1959.6,1007.6 1960.2,1007.2 1960.9,1008.5 1961.6,1008.8 1962.2,1007.7 1962.9,1007.1 1963.6,1008.4 1964.2,1008.4 1964.9,1006.6 1965.6,1005.7 1966.2,1006.2 1966.9,1007 1967.6,1008.2 1968.2,1008.2 1968.9,1007.4 1969.6,1008.1 1970.2,1008.1 1970.9,1007.7 1971.6,1007.6 1972.2,1007.6 1972.9,1008.1 1973.6,1007.4 1974.2,1008.1 1974.9,1007.6 1975.6,1006.4 1976.2,1007.3 1976.9,1007.4 1977.6,1007.6 1978.2,1008.1 1978.9,1008.1 1979.6,1005.5 1980.2,1004.2 1980.9,1008.7 1981.6,1010.6 1982.2,1007.5 1982.9,1007 1983.6,1006.5 1984.2,1006.1 1984.9,1007.3 1985.6,1008.1 1986.2,1007.5 1986.9,1006.6 1987.6,1007.8 1988.2,1008.3 1988.9,1007.1 1989.6,1006.8 1990.2,1006.6 1990.9,1007.9"/>
<polyline stroke="#0000FF" points="160,702.7 160.7,702.5 161.3,702 162,703 162.7,702.8 163.3,701.9 164,702.1 164.7,702.4 165.3,701.7 166,701.4 166.7,701.8 167.3,700.2 168,699.9 168.7,701.7 169.3,701.2 170,700.7 170.7,700.2 171.3,700.4 172,702.9 172.7,702.2 173.3,700 174,701.4 174.7,701.4 175.3,700.1 176,700.3 176.7,698.3 177.3,697.1 178,700 178.7,699.9 179.3,696.9 180,698.9 180.7,701.4 181.3,702.1 182,702.1 182.7,701.1 183.3,700.2 184,699.3 184.7,698.7 185.3,698.9 186,700 186.7,698.5 187.3,697.2 188,697.1 188.7,698.4 189.3,699.4 190,698.1 190.7,698 191.3,698.7 192,698.7 192.7,701.7 193.4,702.1 194,698.5 194.7,695.8 195.4,695.3 196,695.5 196.7,696.6 197.4,698.5 198,697.2 198.7,698.1 199.4,698.3 200,696.5 200.7,696.9 201.4,700.8 202,701.7 202.7,696.7 203.4,696.6 204,696.8 204.7,696.2 205.4,697.1 206,695.4 206.7,693.4 207.4,695.6 208,693.8 208.7,691.3 209.4,696.8 210,698 210.7,695.8 211.4,695.2 212,695.2 212.7,695.1 213.4,693.4 214,692.7 214.7,693.8 215.4,694.2 216,694.3 216.7,694.6 217.4,695.4 218,695.4 218.7,694.5 219.4,693.7 220,691.3 220.7,691.1 221.4,693.9 222,693.8 222.7,692.6 223.4,692 224,692.5 224.7,693.2 225.4,691.1 226,690.4 226.7,690.7 227.4,690.2 228,691 228.7,690.3 229.4,693.6 230,695.1 230.7,691 231.4,690.7 232,691.5 232.7,690.6 233.4,690.5 234,691.2 234.7,690 235.4,691.6 236,692.7 236.7,689.3 237.4,689.6 238,692.6 238.7,689.5 239.4,688 240,691.3 240.7,690.8 241.4,688.4 242,688.9 242.7,689.9 243.4,688.9 244,689.6 244.7,686.4 245.4,685.1 246,689.8 246.7,689.4 247.4,686.5 248,686 248.7,687.4 249.4,688.3 250,688.2 250.7,689.7 251.4,689 252,688.1 252.7,688.7 253.4,688.2 254,685.7 254.7,683.6 255.4,684.8 256,686.4 256.7,687 257.4,686.6 258,687.8 258.7,688.2 259.4,686.8 260.1,686.7 260.7,688 261.4,687 262.1,685.7 262.7,685.6 263.4,685.8 264.1,685.3 264.7,684.9 265.4,689.5 266.1,691.2 266.7,684.6 267.4,682.8 268.1,686.3 268.7,687.4 269.4,686.2 270.1,685.5 270.7,686.4 271.4,685.8 272.1,684 272.7,684.7 273.4,686.3 274.1,685.7 274.7,685.7 275.4,688.6 276.1,687.3 276.7,680.7 277.4,681.5 278.1,684.1 278.7,684.8 279.4,686.1 280.1,684.9 280.7,684.9 281.4,686.6 282.1,686.4 282.7,684 283.4,683.4 284.1,682.4 284.7,682.6 285.4,683.7 286.1,682.3 286.7,682 287.4,682.6 288.1,683.9 288.7,681.6 289.4,679.9 290.1,681.8 290.7,683.5 291.4,682.7 292.1,684.6 292.7,686.4 293.4,683.3 294.1,682.8 294.7,683.2 295.4,683.6 296.1,682.6 296.7,683 297.4,683.9 298.1,681.4 298.7,678 299.4,679.5 300.1,683.1 300.7,683 301.4,682.9 302.1,678.3 302.7,679 303.4,682.9 304.1,681.1 304.7,681.9 305.4,682.1 306.1,681.3 306.7,679.7 307.4,681.1 308.1,682.5 308.7,678.6 309.4,678.4 310.1,681.1 310.7,680.9 311.4,680.7 312.1,679.9 312.7,684.3 313.4,685 314.1,678.3 314.7,677.6 315.4,680.4 316.1,681.4 316.7,680.4 317.4,679.2 318.1,679.5 318.7,680.8 319.4,679 320.1,676.4 320.7,678.1 321.4,679.8 322.1,679.7 322.7,678.5 323.4,679.1 324.1,679.7 324.7,678.8 325.4,678.1 326.1,677.1 326.8,677.3 327.4,677.2 328.1,678.4 328.8,678.5 329.4,678 330.1,678 330.8,677.7 331.4,677.3 332.1,674.1 332.8,673.9 333.4,674.9 334.1,671.9 334.8,673.8 335.4,676.6 336.1,675.5 336.8,675.3 337.4,674.9 338.1,674 338.8,673.8 339.4,674.2 340.1,674.5 340.8,674.1 341.4,672.8 342.1,673 342.8,673.7 343.4,672.3 344.1,673.1 344.8,674.3 345.4,672.1 346.1,672.1 346.8,672.8 347.4,670.7 348.1,669.2 348.8,672.1 349.4,673.7 350.1,669.1 350.8,666.6 351.4,669.8 352.1,670.9 352.8,668.8 353.4,666.3 354.1,666.3 354.8,667.9 355.4,667.5 356.1,667.7 356.8,667.4 357.4,666.8 358.1,667.9 358.8,667.8 359.4,665.8 360.1,666 360.8,666.4 361.4,665.3 362.1,664.2 362.8,663.5 363.4,665.5 364.1,665.9 364.8,664.1 365.4,663.5 366.1,663.5 366.8,665.9 367.4,664.2 368.1,661.5 368.8,662.5 369.4,661.5 370.1,660.7 370.8,660.1 371.4,658.9 372.1,659.7 372.8,660.6 373.4,661.1 374.1,661.5 374.8,661.3 375.4,660.4 376.1,664.1 376.8,664.3 377.4,658.9 378.1,659.7 378.8,660.2 379.4,660.5 380.1,659.4 380.8,658.8 381.4,658.7 382.1,655.1 382.8,652.3 383.4,653.5 384.1,656.2 384.8,655.3 385.4,653.5 386.1,652.8 386.8,652.8 387.4,651.2 388.1,650.6 388.8,651.2 389.4,651.7 390.1,652.8 390.8,652.9 391.4,652 392.1,651.1 392.8,650.4 393.5,651.5 394.1,652.8 394.8,651.3 395.5,650.1 396.1,649.4 396.8,649.1 397.5,650.8 398.1,652.2 398.8,650.5 399.5,647.8 400.1,648.1 400.8,647.6 401.5,645.8 402.1,646 402.8,646.5 403.5,646.5 404.1,646.2 404.8,646 405.5,642.2 406.1,643.2 406.8,649.1 407.5,642.5 408.1,638.7 408.8,643.2 409.5,644.8 410.1,643.4 410.8,642.2 411.5,643 412.1,643.4 412.8,643.1 413.5,641.7 414.1,641.1 414.8,641.8 415.5,641.6 416.1,642.3 416.8,642.5 417.5,639.9 418.1,639.2 418.8,637.5 419.5,638.2 420.1,640.7 420.8,638.7 421.5,636.8 422.1,636.4 422.8,636.3 423.5,636.9 424.1,636.9 424.8,637.1 425.5,636.4 426.1,635.3 426.8,635.5 427.5,633.3 428.1,630.7 428.8,630.4 429.5,631.1 430.1,628.3 430.8,626.6 431.5,629.6 432.1,630.2 432.8,629.4 433.5,629.4 434.1,628.9 434.8,626.9 435.5,628.6 436.1,631.7 436.8,628.4 437.5,625.8 438.1,626.3 438.8,626.7 439.5,626.4 440.1,626.3 440.8,626.3 441.5,624 442.1,622.4 442.8,623.1 443.5,623 444.1,622.4 444.8,622 445.5,624.3 446.1,623.8 446.8,621.2 447.5,621.3 448.1,619.7 448.8,620 449.5,618.6 450.1,618.8 450.8,620.2 451.5,619.6 452.1,617.8 452.8,616.4 453.5,619.3 454.1,618.4 454.8,617.7 455.5,618.4 456.1,618.1 456.8,616.9 457.5,617.6 458.1,618.2 458.8,614.9 459.5,616.7 460.2,618.1 460.8,615.8 461.5,618 462.2,616.3 462.8,613 463.5,614.6 464.2,614.6 464.8,616.5 465.5,614.5 466.2,611.9 466.8,611.3 467.5,609.4 468.2,612 468.8,611.5 469.5,608.2 470.2,602.6 470.8,603.4 471.5,610.2 472.2,608.8 472.8,603.4 473.5,603.3 474.2,605.5 474.8,602.6 475.5,599.8 476.2,602.3 476.8,604.9 477.5,603.4 478.2,603.7 478.8,605.6 479.5,604.7 480.2,600.6 480.8,601.7 481.5,604.2 482.2,601.5 482.8,600.7 483.5,599.7 484.2,597.2 484.8,599.5 485.5,602 486.2,598.8 486.8,597.5 487.5,595.3 488.2,593.3 488.8,595.7 489.5,594.5 490.2,589.8 490.8,590.7 491.5,595 492.2,594.4 492.8,598.7 493.5,596.2 494.2,588.2 494.8,589.5 495.5,589.1 496.2,589 496.8,588 497.5,587.6 498.2,586.7 498.8,584.3 499.5,584.1 500.2,584.8 500.8,584.8 501.5,582 502.2,581.4 502.8,578 503.5,577 504.2,581.6 504.8,581.2 505.5,579.1 506.2,575.6 506.8,573.4 507.5,578.3 508.2,576.6 508.8,571.8 509.5,574.1 510.2,574.2 510.8,576.2 511.5,576.8 512.2,574.4 512.8,572.7 513.5,573.6 514.2,574.9 514.8,573.1 515.5,574.3 516.2,574.6 516.8,570.3 517.5,569.3 518.2,569.2 518.8,564.4 519.5,562.1 520.2,565 520.8,566.3 521.5,558.3 522.2,556.7 522.8,564.4 523.5,564.8 524.2,561.3 524.8,562.1 525.5,561.9 526.2,561.2 526.9,560.6 527.5,554.5 528.2,553.4 528.9,556.7 529.5,556.1 530.2,555.5 530.9,554.1 531.5,554.6 532.2,555.5 532.9,552 533.5,551.8 534.2,557.3 534.9,556.4 535.5,547.1 536.2,542.2 536.9,544.8 537.5,542.9 538.2,546.4 538.9,550.5 539.5,547.1 540.2,545.8 540.9,544.2 541.5,545.4 542.2,548.1 542.9,548.1 543.5,544.1 544.2,535.7 544.9,532.9 545.5,538.9 546.2,538.5 546.9,542.1 547.5,544 548.2,538.6 548.9,540.9 549.5,542.7 550.2,539.3 550.9,539.5 551.5,540.2 552.2,537.8 552.9,536.3 553.5,534.7 554.2,534.2 554.9,534.4 555.5,537 556.2,537.1 556.9,531.9 557.5,532.4 558.2,535.4 558.9,533.1 559.5,526.1 560.2,526.7 560.9,528.3 561.5,528.9 562.2,533.2 562.9,530.7 563.5,532.4 564.2,533.9 564.9,528.3 565.5,526.2 566.2,524.7 566.9,523.9 567.5,529.4 568.2,529.8 568.9,526.4 569.5,523.8 570.2,523.6 570.9,522.8 571.5,520.2 572.2,523.5 572.9,526.7 573.5,524.4 574.2,518.7 574.9,522.5 575.5,522.4 576.2,511.1 576.9,510.8 577.5,518 578.2,518.5 578.9,519.5 579.5,520.8 580.2,518.3 580.9,515.6 581.5,515.6 582.2,518.2 582.9,516.5 583.5,515.8 584.2,516.3 584.9,514.8 585.5,511.9 586.2,509.6 586.9,510.1 587.5,508.3 588.2,510.3 588.9,511.2 589.5,509.3 590.2,508 590.9,506.5 591.5,505.7 592.2,507.2 592.9,507.2 593.6,503.4 594.2,503.2 594.9,504 595.6,504.2 596.2,502.6 596.9,500.2 597.6,501 598.2,502.2 598.9,498.7 599.6,497.8 600.2,500 600.9,498.8 601.6,498.8 602.2,496.1 602.9,493.2 603.6,490.6 604.2,489.1 604.9,487.7 605.6,485.4 606.2,484.3 606.9,483.8 607.6,487.8 608.2,487.3 608.9,486.9 609.6,485.9 610.2,477.2 610.9,479.2 611.6,483.5 612.2,479.1 612.9,477.4 613.6,478.2 614.2,479.3 614.9,477.6 615.6,475.2 616.2,482.1 616.9,485.8 617.6,478.3 618.2,470.1 618.9,469.9 619.6,472.7 620.2,466.7 620.9,465.9 621.6,470.9 622.2,471.9 622.9,469.1 623.6,469.5 624.2,471.1 624.9,466.8 625.6,463.7 626.2,462.7 626.9,467.2 627.6,468.2 628.2,467.1 628.9,464.9 629.6,462.7 630.2,461.5 630.9,459.2 631.6,460.9 632.2,457.8 632.9,451 633.6,453.8 634.2,457.4 634.9,450.2 635.6,449.6 636.2,450.8 636.9,446.6 637.6,449.7 638.2,456.7 638.9,456.6 639.6,451.9 640.2,452.9 640.9,454.2 641.6,450.3 642.2,447.1 642.9,450.9 643.6,455.7 644.2,450.9 644.9,446.9 645.6,450 646.2,443 646.9,441.5 647.6,449.5 648.2,448 648.9,447.6 649.6,446.9 650.2,448 650.9,445.1 651.6,446.2 652.2,449.6 652.9,444 653.6,439.6 654.2,439.4 654.9,445.4 655.6,439 656.2,434.7 656.9,440.8 657.6,443.5 658.2,445.9 658.9,443.6 659.6,439.3 660.3,435.9 660.9,435.5 661.6,441.1 662.3,445 662.9,438.9 663.6,443.5 664.3,442.6 664.9,432.3 665.6,427.1 666.3,427.9 666.9,433.9 667.6,430.7 668.3,428 668.9,425.2 669.6,422.5 670.3,428 670.9,432.5 671.6,433.9 672.3,422.1 672.9,415.1 673.6,429 674.3,432.1 674.9,429.6 675.6,430.3 676.3,432.1 676.9,438.3 677.6,432.2 678.3,423.4 678.9,427.3 679.6,428.9 680.3,426.9 680.9,426.3 681.6,426.4 682.3,425 682.9,422.9 683.6,424.7 684.3,430.3 684.9,427.3 685.6,424.4 686.3,428.5 686.9,429.6 687.6,427 688.3,422.9 688.9,425.8 689.6,426.7 690.3,419 690.9,422.1 691.6,427.7 692.3,428.6 692.9,426 693.6,422 694.3,429.1 694.9,430.8 695.6,425.1 696.3,426.9 696.9,424.1 697.6,420.8 698.3,426 698.9,425.8 699.6,424 700.3,426.2 700.9,434.2 701.6,433.8 702.3,426.7 702.9,424.4 703.6,421.1 704.3,422.5 704.9,424.5 705.6,422.5 706.3,424.5 706.9,423.2 707.6,419.1 708.3,423 708.9,422 709.6,431.4 710.3,434.9 710.9,424.3 711.6,422.1 712.3,423.9 712.9,428.6 713.6,426.9 714.3,427.7 714.9,435.1 715.6,432.1 716.3,425.6 716.9,417.2 717.6,421.5 718.3,433.1 718.9,426.7 719.6,423.5 720.3,422.3 720.9,424.1 721.6,426 722.3,423.3 722.9,425.3 723.6,424.9 724.3,422 724.9,423.3 725.6,429.6 726.3,425.8 727,419.5 727.6,424.9 728.3,421.8 729,417.5 729.6,426.5 730.3,421.4 731,414 731.6,422.6 732.3,425.4 733,427.8 733.6,427.5 734.3,426.2 735,426.1 735.6,423.7 736.3,422.7 737,423.2 737.6,423.1 738.3,426 739,429.9 739.6,425.7 740.3,415.4 741,417.3 741.6,426.6 742.3,424.2 743,424.4 743.6,425.6 744.3,427 745,430.6 745.6,423.4 746.3,412.1 747,417.4 747.6,429.8 748.3,426.2 749,420.9 749.6,426.2 750.3,427.5 751,423.6 751.6,425.1 752.3,425.7 753,425.4 753.6,429.6 754.3,430.3 755,430.8 755.6,434.4 756.3,433.7 757,435.6 757.6,431.1 758.3,421.8 759,427.6 759.6,434.6 760.3,431.9 761,429.8 761.6,433.3 762.3,434 763,437.1 763.6,439.3 764.3,437.1 765,435.3 765.6,435.1 766.3,436.7 767,435.1 767.6,435.9 768.3,436.1 769,438 769.6,440.9 770.3,437.8 771,432.2 771.6,434.9 772.3,442 773,442.9 773.6,438.7 774.3,434.9 775,440.7 775.6,443.2 776.3,442.6 777,441.1 777.6,442.9 778.3,447.6 779,440.9 779.6,440.8 780.3,445.9 781,445.1 781.6,442.7 782.3,441.1 783,444.5 783.6,446.2 784.3,446.2 785,445.2 785.6,446.9 786.3,446.1 787,448.5 787.6,450.3 788.3,447.4 789,448.7 789.6,448.9 790.3,450.4 791,452.1 791.6,449.9 792.3,449.6 793,450.1 793.7,447.9 794.3,455.4 795,459.9 795.7,455 796.3,452 797,454.6 797.7,456.3 798.3,453.6 799,456.1 799.7,459.1 800.3,459.3 801,459.1 801.7,459.5 802.3,456 803,453.9 803.7,455.3 804.3,458.3 805,466.5 805.7,463 806.3,457.2 807,458.7 807.7,460.4 808.3,460.2 809,465.3 809.7,468.4 810.3,461.5 811,456.4 811.7,456.4 812.3,460.5 813,464.3 813.7,466.7 814.3,466.8 815,464.5 815.7,467.3 816.3,470 817,468.4 817.7,469.8 818.3,468.2 819,466.2 819.7,465.2 820.3,467.3 821,467.7 821.7,468.8 822.3,471.9 823,472.5 823.7,473.9 824.3,473.2 825,472.7 825.7,475.1 826.3,477.5 827,477.4 827.7,475.2 828.3,476.6 829,484.9 829.7,478.6 830.3,474.8 831,481.4 831.7,480.4 832.3,482.6 833,484.7 833.7,481.1 834.3,480.4 835,482.9 835.7,482.7 836.3,479.3 837,484.7 837.7,486.4 838.3,480.9 839,485 839.7,488.2 840.3,490.7 841,489.7 841.7,487 842.3,487 843,489.3 843.7,489.4 844.3,489 845,492.2 845.7,491.9 846.3,492.6 847,496 847.7,495.8 848.3,497.5 849,500.6 849.7,495.4 850.3,492.4 851,496.2 851.7,495.6 852.3,494 853,496.7 853.7,498.7 854.3,499 855,500.3 855.7,500.3 856.3,498.2 857,497.4 857.7,502 858.3,509.2 859,509.1 859.7,506.9 860.4,509.4 861,505.4 861.7,501.8 862.4,506.1 863,507.7 863.7,506.8 864.4,507 865,508.2 865.7,511 866.4,511.1 867,509.1 867.7,510.1 868.4,514.4 869,515.8 869.7,516.3 870.4,516 871,516 871.7,516.7 872.4,513.8 873,516.3 873.7,524.2 874.4,523.9 875,519.8 875.7,521.4 876.4,524.3 877,525.2 877.7,520.4 878.4,520.2 879,521.6 879.7,522 880.4,522.9 881,523.2 881.7,527.8 882.4,531.2 883,529.7 883.7,527 884.4,525.5 885,526.8 885.7,531.5 886.4,532.3 887,528.5 887.7,524.6 888.4,527.4 889,531.4 889.7,531.2 890.4,533.7 891,533.2 891.7,533.3 892.4,537.3 893,544.4 893.7,544.9 894.4,537.2 895,535.6 895.7,537 896.4,536.5 897,531.8 897.7,536.1 898.4,540.7 899,541 899.7,540.7 900.4,536.3 901,535.7 901.7,537.8 902.4,543.3 903,543 903.7,535.8 904.4,538.1 905,543.7 905.7,542.2 906.4,543 907,543.6 907.7,542.6 908.4,546.7 909,550.1 909.7,548.1 910.4,546.1 911,542.7 911.7,545 912.4,549.1 913,547.6 913.7,548.8 914.4,548.1 915,547.7 915.7,546.8 916.4,547.9 917,547.8 917.7,548.7 918.4,550 919,550.8 919.7,551.7 920.4,551.4 921,554.8 921.7,554.9 922.4,555.1 923,555.3 923.7,556.8 924.4,560 925,559.8 925.7,551.3 926.4,551.7 927.1,560.9 927.7,560.9 928.4,559.4 929.1,561 929.7,562.3 930.4,565.6 931.1,567.4 931.7,565.8 932.4,562.5 933.1,562.3 933.7,566.8 934.4,568 935.1,567.9 935.7,565.4 936.4,565.6 937.1,565.8 937.7,568.5 938.4,571.3 939.1,566.5 939.7,567.7 940.4,568.8 941.1,570.3 941.7,573.6 942.4,571.9 943.1,567 943.7,566 944.4,573.4 945.1,575.8 945.7,573.9 946.4,573.2 947.1,574.2 947.7,571.6 948.4,573.8 949.1,579.6 949.7,577.2 950.4,577.1 951.1,578.4 951.7,579.6 952.4,582.9 953.1,583.6 953.7,582.4 954.4,584.8 955.1,583 955.7,580.1 956.4,580.5 957.1,581.6 957.7,581.7 958.4,586.2 959.1,586.3 959.7,580.6 960.4,582.4 961.1,580.8 961.7,580.4 962.4,584 963.1,584.3 963.7,585.6 964.4,584.8 965.1,581.7 965.7,584.9 966.4,587.3 967.1,581.8 967.7,583 968.4,590.5 969.1,587 969.7,590.1 970.4,595.8 971.1,592.7 971.7,592 972.4,591.6 973.1,591.8 973.7,592.6 974.4,589.6 975.1,587.5 975.7,588.3 976.4,589.4 977.1,593.9 977.7,595.1 978.4,592.6 979.1,592.2 979.7,594.4 980.4,595.9 981.1,596.4 981.7,596.2 982.4,595.4 983.1,596.3 983.7,596.9 984.4,595.8 985.1,596.8 985.7,598.6 986.4,601.3 987.1,604.1 987.7,602.1 988.4,600.9 989.1,602 989.7,604.8 990.4,601.1 991.1,598.2 991.7,603.4 992.4,607.4 993.1,606.5 993.8,604.5 994.4,605.7 995.1,606 995.8,604.5 996.4,605.6 997.1,607.1 997.8,607.5 998.4,602.6 999.1,602.5 999.8,610.9 1000.4,611 1001.1,610.3 1001.8,610.2 1002.4,609.2 1003.1,608.2 1003.8,608.5 1004.4,609.5 1005.1,609.8 1005.8,611.1 1006.4,610.5 1007.1,610.1 1007.8,609.7 1008.4,608.3 1009.1,609.7 1009.8,611.5 1010.4,616.6 1011.1,615.4 1011.8,609.7 1012.4,610 1013.1,610.9 1013.8,608.9 1014.4,612.3 1015.1,613.9 1015.8,605.4 1016.4,605.3 1017.1,610.9 1017.8,610.2 1018.4,609.8 1019.1,612.6 1019.8,612.7 1020.4,612.5 1021.1,611.9 1021.8,611.8 1022.4,612.4 1023.1,612.5 1023.8,609.4 1024.4,606.8 1025.1,610.1 1025.8,612.6 1026.4,616.1 1027.1,619.3 1027.8,614.7 1028.4,615 1029.1,616.6 1029.8,614 1030.4,614.3 1031.1,614.1 1031.8,614.5 1032.4,614.6 1033.1,613 1033.8,613.9 1034.4,613.2 1035.1,613.4 1035.8,616.3 1036.4,618.5 1037.1,619.9 1037.8,618.9 1038.4,618.8 1039.1,618.8 1039.8,619.7 1040.4,620 1041.1,619.1 1041.8,619.9 1042.4,620.3 1043.1,619.1 1043.8,623 1044.4,626.5 1045.1,623.3 1045.8,621.8 1046.4,621.4 1047.1,624.2 1047.8,625.4 1048.4,620.6 1049.1,620.3 1049.8,622.8 1050.4,623.1 1051.1,621.7 1051.8,623.3 1052.4,624.1 1053.1,624.1 1053.8,621.7 1054.4,621 1055.1,621.8 1055.8,620.4 1056.4,624.5 1057.1,626.5 1057.8,625.5 1058.4,625 1059.1,625.2 1059.8,626 1060.5,623.4 1061.1,622.8 1061.8,625 1062.5,627.2 1063.1,626.7 1063.8,624.3 1064.5,623 1065.1,625.9 1065.8,628.7 1066.5,624.1 1067.1,624.4 1067.8,626.3 1068.5,626.2 1069.1,627.8 1069.8,625.8 1070.5,622.5 1071.1,622.4 1071.8,626.7 1072.5,628.5 1073.1,627.1 1073.8,627.5 1074.5,627.9 1075.1,627.1 1075.8,628.6 1076.5,627.3 1077.1,625.8 1077.8,628.2 1078.5,627.6 1079.1,629.2 1079.8,630.3 1080.5,630.4 1081.1,628.9 1081.8,625.6 1082.5,624.9 1083.1,628.2 1083.8,630.8 1084.5,631.2 1085.1,632.6 1085.8,632 1086.5,629.3 1087.1,628 1087.8,630.2 1088.5,630.8 1089.1,629.5 1089.8,630.2 1090.5,627.9 1091.1,628.4 1091.8,635.3 1092.5,632.5 1093.1,629.4 1093.8,634.4 1094.5,634.9 1095.1,633.9 1095.8,629.3 1096.5,628.5 1097.1,635 1097.8,638.2 1098.5,632.5 1099.1,629.8 1099.8,636 1100.5,635 1101.1,635.9 1101.8,637.2 1102.5,635.4 1103.1,634.5 1103.8,633.7 1104.5,636 1105.1,636.2 1105.8,637.6 1106.5,637.5 1107.1,633.7 1107.8,632 1108.5,634 1109.1,637.1 1109.8,636.6 1110.5,637.2 1111.1,637 1111.8,637.1 1112.5,640 1113.1,638.1 1113.8,636.2 1114.5,636.8 1115.1,636.7 1115.8,637.9 1116.5,637.2 1117.1,638 1117.8,638 1118.5,636.7 1119.1,637.6 1119.8,637.6 1120.5,636.6 1121.1,634.9 1121.8,636.3 1122.5,638.7 1123.1,637.8 1123.8,637.2 1124.5,638 1125.1,637.8 1125.8,637.9 1126.5,637 1127.2,637.4 1127.8,638.7 1128.5,638.2 1129.2,638.9 1129.8,642.6 1130.5,641.1 1131.2,636.5 1131.8,637.4 1132.5,639.5 1133.2,636.4 1133.8,636 1134.5,639.3 1135.2,639.4 1135.8,640.5 1136.5,639.1 1137.2,635.9 1137.8,635.3 1138.5,639.7 1139.2,640.8 1139.8,638 1140.5,637.7 1141.2,640.5 1141.8,642.1 1142.5,640.4 1143.2,637.9 1143.8,638.2 1144.5,640.1 1145.2,641 1145.8,642.2 1146.5,642.7 1147.2,643.3 1147.8,640.7 1148.5,637 1149.2,638.9 1149.8,641.7 1150.5,641.6 1151.2,641.6 1151.8,640.1 1152.5,638.6 1153.2,641.7 1153.8,643.5 1154.5,640.2 1155.2,640.9 1155.8,650 1156.5,650 1157.2,642 1157.8,642.4 1158.5,643.6 1159.2,643.2 1159.8,643.2 1160.5,642.9 1161.2,643.7 1161.8,644.2 1162.5,642.9 1163.2,643.3 1163.8,644.7 1164.5,644.3 1165.2,642.2 1165.8,643.1 1166.5,647.6 1167.2,647.1 1167.8,645.4 1168.5,644.6 1169.2,642.4 1169.8,641.9 1170.5,643 1171.2,644.4 1171.8,645.8 1172.5,643.8 1173.2,642.9 1173.8,644.6 1174.5,644.8 1175.2,644.1 1175.8,647.9 1176.5,649 1177.2,645.6 1177.8,646.4 1178.5,648.6 1179.2,648.2 1179.8,646.8 1180.5,647.1 1181.2,646.1 1181.8,645 1182.5,646.5 1183.2,645.6 1183.8,646.2 1184.5,648.5 1185.2,647.2 1185.8,648.1 1186.5,650.2 1187.2,645.3 1187.8,642.9 1188.5,650.2 1189.2,651.9 1189.8,648.1 1190.5,646.8 1191.2,643.1 1191.8,644.4 1192.5,649.7 1193.2,652.6 1193.9,651.3 1194.5,648.2 1195.2,648.1 1195.9,647.7 1196.5,647.9 1197.2,645.4 1197.9,644.8 1198.5,643.7 1199.2,643 1199.9,646.6 1200.5,647.6 1201.2,647.2 1201.9,646.4 1202.5,646.7 1203.2,648.2 1203.9,646.3 1204.5,646 1205.2,649.2 1205.9,650.1 1206.5,649.5 1207.2,649.6 1207.9,646.1 1208.5,644.5 1209.2,647 1209.9,646.9 1210.5,645.3 1211.2,647 1211.9,648 1212.5,647.8 1213.2,649.9 1213.9,649.5 1214.5,649.4 1215.2,648.7 1215.9,649.1 1216.5,650.7 1217.2,651.1 1217.9,651.4 1218.5,648.2 1219.2,648.1 1219.9,651.7 1220.5,651.6 1221.2,650.9 1221.9,650.6 1222.5,648.6 1223.2,648.7 1223.9,650.9 1224.5,654.3 1225.2,653.9 1225.9,650.2 1226.5,649.7 1227.2,649.9 1227.9,649.6 1228.5,649.2 1229.2,649.2 1229.9,648.4 1230.5,649.1 1231.2,650.5 1231.9,652 1232.5,652.2 1233.2,650.2 1233.9,651.2 1234.5,652.2 1235.2,651.6 1235.9,647.9 1236.5,647.4 1237.2,648.2 1237.9,649.1 1238.5,651.3 1239.2,650.8 1239.9,648 1240.5,645.4 1241.2,647.7 1241.9,651.5 1242.5,650.9 1243.2,650.4 1243.9,651.9 1244.5,650.1 1245.2,647.7 1245.9,648.2 1246.5,649 1247.2,649.2 1247.9,650 1248.5,648.1 1249.2,648.8 1249.9,653.4 1250.5,652.3 1251.2,650.4 1251.9,650.1 1252.5,648.9 1253.2,652.6 1253.9,652.3 1254.5,649.4 1255.2,650.5 1255.9,650.8 1256.5,650.3 1257.2,650.6 1257.9,649.3 1258.5,648.6 1259.2,649.2 1259.9,648.7 1260.6,650.7 1261.2,651.6 1261.9,649.9 1262.6,649.9 1263.2,650.3 1263.9,649.5 1264.6,651.1 1265.2,653.5 1265.9,652.5 1266.6,648.4 1267.2,646.2 1267.9,648.3 1268.6,650.2 1269.2,650.7 1269.9,651.1 1270.6,651.6 1271.2,651.6 1271.9,650.6 1272.6,650.3 1273.2,649.8 1273.9,650.7 1274.6,651.8 1275.2,653.2 1275.9,653.4 1276.6,652.2 1277.2,651.9 1277.9,650.8 1278.6,650 1279.2,650.5 1279.9,653.1 1280.6,653.3 1281.2,655 1281.9,656.4 1282.6,653.4 1283.2,653.1 1283.9,653.9 1284.6,654 1285.2,652.8 1285.9,651 1286.6,650.9 1287.2,651.3 1287.9,653.9 1288.6,654.9 1289.2,652 1289.9,651.3 1290.6,651.6 1291.2,653 1291.9,655 1292.6,653.5 1293.2,650.3 1293.9,650.6 1294.6,652.4 1295.2,652.6 1295.9,652.8 1296.6,651.9 1297.2,651.9 1297.9,651.9 1298.6,651.3 1299.2,650 1299.9,650.3 1300.6,651.2 1301.2,652.5 1301.9,652.8 1302.6,649.9 1303.2,649.7 1303.9,650 1304.6,649.8 1305.2,650.8 1305.9,651.5 1306.6,652.4 1307.2,651.8 1307.9,651.6 1308.6,654.7 1309.2,651.8 1309.9,649.5 1310.6,651.6 1311.2,654.3 1311.9,653.9 1312.6,650.2 1313.2,652.3 1313.9,653.1 1314.6,653 1315.2,656.8 1315.9,655.7 1316.6,647.9 1317.2,648.2 1317.9,652.2 1318.6,652.5 1319.2,653.2 1319.9,652.5 1320.6,649.7 1321.2,649.8 1321.9,650.8 1322.6,650.3 1323.2,653.3 1323.9,653.5 1324.6,652.3 1325.2,652.2 1325.9,651.1 1326.6,652.1 1327.3,652.7 1327.9,651.3 1328.6,652.2 1329.3,653.5 1329.9,651.9 1330.6,652.9 1331.3,652.7 1331.9,651.9 1332.6,652.9 1333.3,651.6 1333.9,648.8 1334.6,649.3 1335.3,651.7 1335.9,648.2 1336.6,646.8 1337.3,653.2 1337.9,654.1 1338.6,648.8 1339.3,648.6 1339.9,654.2 1340.6,652.9 1341.3,650.8 1341.9,655.1 1342.6,654.1 1343.3,651.6 1343.9,651.3 1344.6,653.6 1345.3,654.3 1345.9,651.9 1346.6,650.6 1347.3,650.5 1347.9,651.7 1348.6,651.3 1349.3,652 1349.9,653 1350.6,652.9 1351.3,653.1 1351.9,652.7 1352.6,652.2 1353.3,651.2 1353.9,653 1354.6,652.1 1355.3,649.4 1355.9,650.1 1356.6,654.8 1357.3,655.2 1357.9,651.3 1358.6,650.8 1359.3,651 1359.9,651.7 1360.6,652.1 1361.3,652.1 1361.9,651.1 1362.6,652.4 1363.3,651.7 1363.9,652.6 1364.6,651.1 1365.3,646.8 1365.9,649.4 1366.6,651.7 1367.3,650.6 1367.9,652.3 1368.6,650.9 1369.3,648.5 1369.9,650.5 1370.6,651.2 1371.3,655.9 1371.9,654 1372.6,649.3 1373.3,651.1 1373.9,650.3 1374.6,648.2 1375.3,647.7 1375.9,648.3 1376.6,649.7 1377.3,650.3 1377.9,650.1 1378.6,648.2 1379.3,647.7 1379.9,648.2 1380.6,647.4 1381.3,648.5 1381.9,649 1382.6,649.4 1383.3,649.9 1383.9,649 1384.6,649.8 1385.3,650.5 1385.9,653.1 1386.6,653.2 1387.3,650 1387.9,651.4 1388.6,651.7 1389.3,650.9 1389.9,653.1 1390.6,652.6 1391.3,648.9 1391.9,647.6 1392.6,648.9 1393.3,649.5 1394,651.9 1394.6,650.3 1395.3,646.5 1396,648.8 1396.6,649.6 1397.3,655.1 1398,656.2 1398.6,649.7 1399.3,649.2 1400,652 1400.6,651.4 1401.3,647.2 1402,648.4 1402.6,650.6 1403.3,650.9 1404,652 1404.6,652.5 1405.3,650.9 1406,648.8 1406.6,648.8 1407.3,649.3 1408,649.7 1408.6,649.3 1409.3,650.3 1410,650.6 1410.6,649 1411.3,650.4 1412,651.7 1412.6,651.4 1413.3,650.5 1414,650.6 1414.6,650.5 1415.3,649.1 1416,648.2 1416.6,648.9 1417.3,646 1418,645.6 1418.6,649.1 1419.3,648.5 1420,648.1 1420.6,648.1 1421.3,647.6 1422,649.5 1422.6,648.7 1423.3,645.4 1424,649.6 1424.6,651.6 1425.3,651.6 1426,651.8 1426.6,648.8 1427.3,649.7 1428,651.6 1428.6,648.5 1429.3,647.5 1430,650.3 1430.6,647.2 1431.3,650 1432,653 1432.6,649.9 1433.3,649.7 1434,649.1 1434.6,648.7 1435.3,647.9 1436,646.9 1436.6,647.8 1437.3,649 1438,648.7 1438.6,648.1 1439.3,647.3 1440,649 1440.6,650.1 1441.3,648.6 1442,647.8 1442.6,649.2 1443.3,648.9 1444,647.8 1444.6,646.8 1445.3,646.3 1446,647.9 1446.6,649.3 1447.3,648.5 1448,646.9 1448.6,648 1449.3,644.8 1450,646.1 1450.6,651.1 1451.3,648.5 1452,646.5 1452.6,647 1453.3,648.6 1454,648.8 1454.6,647.9 1455.3,644.8 1456,646.1 1456.6,649.9 1457.3,646.5 1458,646.8 1458.6,648.1 1459.3,648.1 1460,649.7 1460.7,647.6 1461.3,645.2 1462,646.9 1462.7,648.4 1463.3,649.3 1464,650.3 1464.7,650.7 1465.3,649.7 1466,645.9 1466.7,644.7 1467.3,648.9 1468,648.9 1468.7,646.6 1469.3,647.8 1470,646.5 1470.7,647.3 1471.3,648.8 1472,646.2 1472.7,644 1473.3,646.4 1474,649.3 1474.7,649.7 1475.3,649.3 1476,649 1476.7,649.1 1477.3,649.2 1478,648 1478.7,647.1 1479.3,649.5 1480,650.1 1480.7,651.7 1481.3,653 1482,648.4 1482.7,645 1483.3,647.7 1484,650.3 1484.7,648.6 1485.3,648.1 1486,648.7 1486.7,648.2 1487.3,645 1488,645.6 1488.7,649.1 1489.3,647.3 1490,646.7 1490.7,648.1 1491.3,646.9 1492,649 1492.7,650.1 1493.3,648.8 1494,649.1 1494.7,649.6 1495.3,650.3 1496,653.6 1496.7,653.4 1497.3,649 1498,645.6 1498.7,645.6 1499.3,649.4 1500,650.5 1500.7,651.9 1501.3,651.8 1502,651.4 1502.7,651 1503.3,650.5 1504,652.1 1504.7,651.9 1505.3,649.9 1506,648.2 1506.7,648.9 1507.3,650.6 1508,650.4 1508.7,650.8 1509.3,650.3 1510,650.6 1510.7,650 1511.3,648.8 1512,650.5 1512.7,649.7 1513.3,648.1 1514,649.5 1514.7,652.3 1515.3,649.9 1516,650.4 1516.7,653.1 1517.3,652 1518,651.4 1518.7,649.2 1519.3,649.9 1520,651.9 1520.7,652.8 1521.3,652.1 1522,651.8 1522.7,651.2 1523.3,650.3 1524,650.4 1524.7,652.4 1525.3,657.2 1526,657.3 1526.7,652.1 1527.4,648.2 1528,650 1528.7,652.7 1529.4,653.9 1530,653.6 1530.7,653.9 1531.4,652.8 1532,653.1 1532.7,655 1533.4,652.6 1534,654.4 1534.7,653.7 1535.4,650.5 1536,651.5 1536.7,652.6 1537.4,653.7 1538,653.3 1538.7,648.2 1539.4,647.8 1540,651.9 1540.7,652.5 1541.4,648.6 1542,647.9 1542.7,651.6 1543.4,650.3 1544,650.7 1544.7,653.3 1545.4,651.5 1546,653.1 1546.7,656.4 1547.4,652.9 1548,651.2 1548.7,652.8 1549.4,652.1 1550,653.2 1550.7,651.9 1551.4,648.7 1552,652.2 1552.7,656.9 1553.4,656.7 1554,655.1 1554.7,653.6 1555.4,650.9 1556,651.9 1556.7,654.2 1557.4,655.1 1558,655.7 1558.7,655 1559.4,651.6 1560,651.4 1560.7,654 1561.4,650.9 1562,650.3 1562.7,652.4 1563.4,655 1564,656.3 1564.7,656.3 1565.4,656 1566,655 1566.7,655.2 1567.4,655.3 1568,658.4 1568.7,658.3 1569.4,656.5 1570,655.4 1570.7,654.7 1571.4,657.3 1572,656.8 1572.7,654.9 1573.4,655.7 1574,656.2 1574.7,652.3 1575.4,652.2 1576,654.9 1576.7,654.2 1577.4,653.8 1578,653.7 1578.7,654 1579.4,653.1 1580,654.9 1580.7,656.4 1581.4,654.9 1582,652.7 1582.7,653.6 1583.4,655.3 1584,654.8 1584.7,655.4 1585.4,654.9 1586,654.1 1586.7,655.7 1587.4,654.4 1588,654.1 1588.7,658.6 1589.4,657.2 1590,654.4 1590.7,654.7 1591.4,655.3 1592,655.9 1592.7,657.6 1593.4,658.5 1594.1,657.4 1594.7,656.3 1595.4,655.3 1596.1,654.5 1596.7,655.4 1597.4,655.6 1598.1,655.7 1598.7,657.1 1599.4,658.6 1600.1,657.9 1600.7,654.6 1601.4,655.6 1602.1,657.4 1602.7,657.2 1603.4,657.7 1604.1,659.3 1604.7,657.4 1605.4,655 1606.1,657.6 1606.7,655.2 1607.4,653.2 1608.1,655 1608.7,656.2 1609.4,656.9 1610.1,657.7 1610.7,660.5 1611.4,658.7 1612.1,656.8 1612.7,656.3 1613.4,656.9 1614.1,659.1 1614.7,657.4 1615.4,657.5 1616.1,658.3 1616.7,657.6 1617.4,657.3 1618.1,658.9 1618.7,660.2 1619.4,659.3 1620.1,659.2 1620.7,659.5 1621.4,659 1622.1,658.3 1622.7,659.1 1623.4,657.8 1624.1,657.8 1624.7,659.2 1625.4,659 1626.1,659 1626.7,659.5 1627.4,658.6 1628.1,658.4 1628.7,659.1 1629.4,658.9 1630.1,658.4 1630.7,659.7 1631.4,659.3 1632.1,657.4 1632.7,658.9 1633.4,663.6 1634.1,664.2 1634.7,661.1 1635.4,660.4 1636.1,660.4 1636.7,667.9 1637.4,668.3 1638.1,659.7 1638.7,659 1639.4,660.1 1640.1,659.9 1640.7,661 1641.4,661.8 1642.1,661.2 1642.7,660.6 1643.4,660.3 1644.1,660.7 1644.7,657.9 1645.4,660.6 1646.1,662.9 1646.7,661.4 1647.4,661 1648.1,659.9 1648.7,662.5 1649.4,663.2 1650.1,661.7 1650.7,659.9 1651.4,659.3 1652.1,661.5 1652.7,662 1653.4,661.8 1654.1,663.4 1654.7,664.2 1655.4,663.2 1656.1,662.3 1656.7,662.8 1657.4,663.3 1658.1,663.3 1658.7,663.6 1659.4,663.6 1660.1,663 1660.8,662.8 1661.4,664.7 1662.1,665.1 1662.8,665.2 1663.4,665.3 1664.1,663.3 1664.8,664.6 1665.4,665.4 1666.1,663.7 1666.8,663.7 1667.4,662.8 1668.1,662.1 1668.8,664.4 1669.4,665.1 1670.1,664 1670.8,665 1671.4,665.2 1672.1,665.9 1672.8,665.3 1673.4,665 1674.1,666.8 1674.8,666.8 1675.4,665.4 1676.1,665.6 1676.8,666.3 1677.4,665.6 1678.1,665.7 1678.8,665.6 1679.4,667.6 1680.1,668.1 1680.8,666.7 1681.4,668.4 1682.1,667.9 1682.8,666.3 1683.4,666.5 1684.1,666 1684.8,666.9 1685.4,666.4 1686.1,666 1686.8,666.9 1687.4,666.6 1688.1,663.1 1688.8,662.7 1689.4,666.2 1690.1,666.8 1690.8,667.5 1691.4,664.9 1692.1,665 1692.8,666 1693.4,665 1694.1,667.9 1694.8,668.6 1695.4,666.8 1696.1,666.7 1696.8,667.4 1697.4,666.7 1698.1,666.6 1698.8,667.4 1699.4,667.6 1700.1,667 1700.8,666.7 1701.4,666.6 1702.1,669 1702.8,668.8 1703.4,668.1 1704.1,671.3 1704.8,670.4 1705.4,670.6 1706.1,670.2 1706.8,668.3 1707.4,669.4 1708.1,669.1 1708.8,668.7 1709.4,667.3 1710.1,666.2 1710.8,665.6 1711.4,666.4 1712.1,668.8 1712.8,670 1713.4,669.9 1714.1,668.7 1714.8,668.2 1715.4,668.9 1716.1,667.9 1716.8,667.4 1717.4,669.6 1718.1,671.2 1718.8,670.5 1719.4,668.7 1720.1,669.7 1720.8,669.6 1721.4,669.9 1722.1,669.7 1722.8,671.3 1723.4,672.7 1724.1,670.2 1724.8,669.6 1725.4,670 1726.1,669.9 1726.8,669.7 1727.5,670.4 1728.1,668.4 1728.8,670.1 1729.5,672.1 1730.1,671.3 1730.8,672 1731.5,672.6 1732.1,674.4 1732.8,671.1 1733.5,669.9 1734.1,670.2 1734.8,669 1735.5,669.5 1736.1,669.3 1736.8,669.6 1737.5,666.4 1738.1,666.8 1738.8,670.2 1739.5,672.5 1740.1,673.2 1740.8,674.2 1741.5,676 1742.1,672.7 1742.8,668.9 1743.5,667.1 1744.1,669.1 1744.8,672.2 1745.5,668.2 1746.1,667.6 1746.8,671.8 1747.5,671.6 1748.1,670.6 1748.8,671.1 1749.5,674 1750.1,674.8 1750.8,673.4 1751.5,671.3 1752.1,667.3 1752.8,669.6 1753.5,671.7 1754.1,671.3 1754.8,671.5 1755.5,670.1 1756.1,671.1 1756.8,671.6 1757.5,671 1758.1,670.6 1758.8,670.7 1759.5,671.4 1760.1,670.9 1760.8,671.5 1761.5,672.9 1762.1,673 1762.8,673.1 1763.5,671.7 1764.1,671.5 1764.8,672.8 1765.5,675.4 1766.1,675.6 1766.8,671.1 1767.5,670.7 1768.1,672.3 1768.8,674.7 1769.5,675.5 1770.1,673.6 1770.8,673.1 1771.5,669.3 1772.1,669.7 1772.8,673.4 1773.5,672.5 1774.1,670.3 1774.8,670.7 1775.5,672.9 1776.1,673.8 1776.8,675.2 1777.5,674.5 1778.1,672.7 1778.8,672.6 1779.5,672.7 1780.1,673.3 1780.8,674.4 1781.5,674 1782.1,673.1 1782.8,673 1783.5,675 1784.1,674 1784.8,672.3 1785.5,674.1 1786.1,674 1786.8,675.2 1787.5,676.1 1788.1,675.8 1788.8,675.4 1789.5,672.4 1790.1,671.3 1790.8,673 1791.5,674.7 1792.1,675.7 1792.8,674.1 1793.5,674.7 1794.2,675.9 1794.8,672.7 1795.5,672.3 1796.2,672.3 1796.8,670.4 1797.5,672.3 1798.2,674.4 1798.8,674.4 1799.5,676.7 1800.2,676.7 1800.8,673.3 1801.5,675.2 1802.2,677.5 1802.8,676.7 1803.5,676.8 1804.2,676.9 1804.8,679.3 1805.5,680.5 1806.2,674.8 1806.8,673.1 1807.5,677.3 1808.2,678 1808.8,677.4 1809.5,677.2 1810.2,678.6 1810.8,678.2 1811.5,677.1 1812.2,678 1812.8,677.6 1813.5,677.3 1814.2,677.8 1814.8,677.7 1815.5,676 1816.2,675.8 1816.8,675.4 1817.5,675.6 1818.2,677 1818.8,678.1 1819.5,677.6 1820.2,677.6 1820.8,679.4 1821.5,678.7 1822.2,677.9 1822.8,680.5 1823.5,680.8 1824.2,678.9 1824.8,678.9 1825.5,679.7 1826.2,680.2 1826.8,679.3 1827.5,677.7 1828.2,677.5 1828.8,678.7 1829.5,679.9 1830.2,680 1830.8,678.5 1831.5,678.6 1832.2,676.4 1832.8,676.5 1833.5,679.6 1834.2,678.6 1834.8,678.3 1835.5,676.8 1836.2,677 1836.8,681.1 1837.5,684.2 1838.2,682.6 1838.8,679.2 1839.5,679.5 1840.2,679.8 1840.8,678.4 1841.5,679.1 1842.2,679.2 1842.8,678.7 1843.5,681 1844.2,681.5 1844.8,682.6 1845.5,681.9 1846.2,681.3 1846.8,681.4 1847.5,679.6 1848.2,678.8 1848.8,679.4 1849.5,679.9 1850.2,678.5 1850.8,682 1851.5,682 1852.2,679.2 1852.8,680.7 1853.5,680.5 1854.2,679.9 1854.8,681.7 1855.5,682.9 1856.2,681.2 1856.8,683.7 1857.5,682.6 1858.2,679.2 1858.8,678.6 1859.5,678.4 1860.2,679.9 1860.9,680.5 1861.5,681 1862.2,679.4 1862.9,679.8 1863.5,683.6 1864.2,682.6 1864.9,680.2 1865.5,680.5 1866.2,680.4 1866.9,681.2 1867.5,681.7 1868.2,679.5 1868.9,680.1 1869.5,681.9 1870.2,680.5 1870.9,680.3 1871.5,681.5 1872.2,680.6 1872.9,679.9 1873.5,680.1 1874.2,680.4 1874.9,681.9 1875.5,681.8 1876.2,681.8 1876.9,682.4 1877.5,680.5 1878.2,682.1 1878.9,683 1879.5,680.5 1880.2,680.5 1880.9,679.9 1881.5,680.6 1882.2,683.7 1882.9,684.4 1883.5,681.8 1884.2,680.6 1884.9,681.3 1885.5,679 1886.2,679.7 1886.9,680.8 1887.5,679.5 1888.2,685.7 1888.9,686.6 1889.5,683.6 1890.2,683.7 1890.9,682.4 1891.5,683.3 1892.2,682.8 1892.9,683.4 1893.5,685.3 1894.2,684.6 1894.9,683 1895.5,683.7 1896.2,683 1896.9,681.3 1897.5,681.6 1898.2,681.2 1898.9,681.3 1899.5,682 1900.2,681.2 1900.9,681.1 1901.5,682.9 1902.2,683.3 1902.9,681.5 1903.5,682.6 1904.2,684.7 1904.9,684 1905.5,683.3 1906.2,682.3 1906.9,682 1907.5,683.4 1908.2,683.6 1908.9,683.9 1909.5,682.8 1910.2,682.5 1910.9,683.9 1911.5,683.5 1912.2,683.9 1912.9,684.3 1913.5,685 1914.2,683.1 1914.9,680.8 1915.5,682.4 1916.2,683.2 1916.9,682.8 1917.5,683.6 1918.2,683.5 1918.9,685 1919.5,685.5 1920.2,684.3 1920.9,683.5 1921.5,683.3 1922.2,684.8 1922.9,686.2 1923.5,684.8 1924.2,684 1924.9,684 1925.5,683.9 1926.2,683.3 1926.9,681.9 1927.6,683.2 1928.2,683.7 1928.9,683.2 1929.6,683.6 1930.2,684.5 1930.9,684.8 1931.6,685.8 1932.2,685.6 1932.9,683.2 1933.6,682.9 1934.2,683 1934.9,683.5 1935.6,684.4 1936.2,682.2 1936.9,682.1 1937.6,681.8 1938.2,680.8 1938.9,683.3 1939.6,686.7 1940.2,687.1 1940.9,686.4 1941.6,684.9 1942.2,685.4 1942.9,685.6 1943.6,685 1944.2,686.2 1944.9,687.9 1945.6,685.2 1946.2,683.9 1946.9,686.1 1947.6,685.4 1948.2,682.6 1948.9,682.1 1949.6,684.3 1950.2,684.5 1950.9,686.1 1951.6,686.7 1952.2,685.5 1952.9,684.2 1953.6,684 1954.2,686 1954.9,686.8 1955.6,686.4 1956.2,686.1 1956.9,685.6 1957.6,685.4 1958.2,685 1958.9,686.5 1959.6,687.3 1960.2,684.9 1960.9,680 1961.6,681.4 1962.2,686.1 1962.9,685.5 1963.6,684.6 1964.2,685.4 1964.9,685.3 1965.6,685.3 1966.2,686.1 1966.9,685.2 1967.6,683.7 1968.2,683.7 1968.9,685.8 1969.6,687.6 1970.2,689.8 1970.9,688.6 1971.6,686.4 1972.2,685.4 1972.9,684.2 1973.6,684.5 1974.2,684.3 1974.9,685.6 1975.6,686.5 1976.2,685.4 1976.9,685 1977.6,685.2 1978.2,685.2 1978.9,683.9 1979.6,684.3 1980.2,686.5 1980.9,686.1 1981.6,685.2 1982.2,684.4 1982.9,684.7 1983.6,686.1 1984.2,686.7 1984.9,685.9 1985.6,682.2 1986.2,682.7 1986.9,686.5 1987.6,686.2 1988.2,686.1 1988.9,687.9 1989.6,686.7 1990.2,686.2 1990.9,686.9"/>
<polyline stroke="#FF0000" points="160,574.8 160.7,575.5 161.3,574.8 162,572.4 162.7,572.7 163.3,573.5 164,573.7 164.7,574.3 165.3,573.8 166,576.1 166.7,576.7 167.3,575.3 168,574.8 168.7,575.4 169.3,572.9 170,572.4 170.7,574.5 171.3,572.9 172,573 172.7,575.1 173.3,574.7 174,574.3 174.7,574.5 175.3,575.1 176,575.7 176.7,574.3 177.3,573.4 178,572.9 178.7,572.6 179.3,573.1 180,573 180.7,572.6 181.3,571.7 182,570.8 182.7,571.9 183.3,571.6 184,571.3 184.7,571.3 185.3,569.9 186,570.2 186.7,571.9 187.3,572 188,573.1 188.7,572 189.3,571 190,571.9 190.7,569.5 191.3,570.3 192,572.2 192.7,573.7 193.4,574.4 194,573.1 194.7,572.5 195.4,571.2 196,572 196.7,572 197.4,572.1 198,573.4 198.7,572.1 199.4,571.2 200,572.1 200.7,575.5 201.4,574.7 202,570 202.7,569.6 203.4,570 204,569 204.7,569.4 205.4,569.2 206,568.7 206.7,574.2 207.4,574 208,569.4 208.7,569.3 209.4,569.4 210,568.8 210.7,568.7 211.4,569 212,569.3 212.7,569.2 213.4,569.4 214,570.7 214.7,568.2 215.4,567.1 216,569.4 216.7,569.4 217.4,569.4 218,568.7 218.7,569.8 219.4,573.9 220,573.1 220.7,569.7 221.4,569.6 222,569.7 222.7,569.8 223.4,569.4 224,567.9 224.7,567.9 225.4,568.3 226,567.4 226.7,567.7 227.4,568.7 228,567.8 228.7,566.5 229.4,567 230,567.7 230.7,567.9 231.4,568.3 232,565.4 232.7,564.2 233.4,567.5 234,568.4 234.7,567.9 235.4,568 236,567.5 236.7,566.6 237.4,565.9 238,566.4 238.7,566.9 239.4,567.9 240,567.9 240.7,566.5 241.4,563.7 242,563.8 242.7,567.3 243.4,567.2 244,566.1 244.7,565.5 245.4,568.6 246,568.4 246.7,565.7 247.4,566 248,565.4 248.7,563.1 249.4,563.6 250,565.7 250.7,566.4 251.4,568.3 252,567.9 252.7,566.3 253.4,564.2 254,563.1 254.7,563.6 255.4,563.4 256,565.2 256.7,565.9 257.4,564.5 258,563.7 258.7,563.3 259.4,562.8 260.1,562.1 260.7,564.1 261.4,564.4 262.1,564.3 262.7,564.4 263.4,563.6 264.1,563.4 264.7,563.1 265.4,563.2 266.1,562.9 266.7,563.7 267.4,563.5 268.1,563 268.7,563.3 269.4,562.8 270.1,562 270.7,563.4 271.4,563.9 272.1,564.3 272.7,563.7 273.4,561.4 274.1,562.4 274.7,562.7 275.4,563.4 276.1,561.7 276.7,560.6 277.4,562.1 278.1,562.2 278.7,562.1 279.4,561.8 280.1,564.4 280.7,563.8 281.4,560.5 282.1,561.1 282.7,563.3 283.4,562.8 284.1,560.1 284.7,560.6 285.4,561.2 286.1,561 286.7,560.9 287.4,561.5 288.1,562 288.7,562.4 289.4,561.4 290.1,560.5 290.7,560.9 291.4,559.8 292.1,559.5 292.7,559.9 293.4,562.1 294.1,562.2 294.7,560.6 295.4,560.3 296.1,560.2 296.7,561.5 297.4,559.6 298.1,558.4 298.7,559.4 299.4,559.1 300.1,559.7 300.7,559.4 301.4,559.4 302.1,560.1 302.7,559.2 303.4,557.6 304.1,556.8 304.7,557.1 305.4,559.1 306.1,560.3 306.7,555.1 307.4,555.6 308.1,558.9 308.7,558.5 309.4,557.8 310.1,555.3 310.7,555.5 311.4,557.2 312.1,557 312.7,555.7 313.4,553.9 314.1,553.4 314.7,555.1 315.4,555.1 316.1,554.8 316.7,555.4 317.4,555.9 318.1,553.9 318.7,552.5 319.4,552.4 320.1,553 320.7,554 321.4,553.3 322.1,553.9 322.7,556.3 323.4,555 324.1,552.7 324.7,553 325.4,552.9 326.1,551.7 326.8,554.2 327.4,553.5 328.1,549.9 328.8,552.2 329.4,552 330.1,550.7 330.8,550.6 331.4,549.6 332.1,550.4 332.8,549.8 333.4,548.6 334.1,549.4 334.8,546.4 335.4,545.3 336.1,548.3 336.8,547.9 337.4,547.8 338.1,548.6 338.8,548.8 339.4,548.8 340.1,548.4 340.8,547.4 341.4,546.9 342.1,546.4 342.8,546.1 343.4,549 344.1,546.9 344.8,545.1 345.4,547.4 346.1,548.9 346.8,548.7 347.4,546.5 348.1,546.4 348.8,547.1 349.4,550.2 350.1,548.8 350.8,545.4 351.4,546.9 352.1,548.8 352.8,548.8 353.4,547.5 354.1,545.6 354.8,542 355.4,543.8 356.1,547 356.8,545.4 357.4,547.2 358.1,547.4 358.8,547.1 359.4,547.8 360.1,545.8 360.8,545.6 361.4,547.2 362.1,546.5 362.8,545.6 363.4,546.4 364.1,545.4 364.8,543.8 365.4,543.5 366.1,543.8 366.8,542.3 367.4,542.7 368.1,543.4 368.8,539.3 369.4,539.1 370.1,541 370.8,539.6 371.4,541.9 372.1,541.7 372.8,538.2 373.4,538.6 374.1,538.4 374.8,537.9 375.4,537.9 376.1,538.7 376.8,539.1 377.4,537.4 378.1,535.9 378.8,537 379.4,543.3 380.1,542.8 380.8,536.7 381.4,536.6 382.1,539.5 382.8,538.1 383.4,535.4 384.1,535.7 384.8,534.5 385.4,535.2 386.1,536.4 386.8,532.7 387.4,533.6 388.1,537.7 388.8,536 389.4,535 390.1,535 390.8,534.5 391.4,533.2 392.1,534.3 392.8,535.3 393.5,531.4 394.1,529 394.8,531.5 395.5,533.1 396.1,532.9 396.8,532.3 397.5,531.3 398.1,530 398.8,531.3 399.5,531.1 400.1,530.4 400.8,530.3 401.5,528.8 402.1,527.7 402.8,527.5 403.5,525.1 404.1,523 404.8,527.4 405.5,529.6 406.1,528.1 406.8,527.9 407.5,529.6 408.1,529.2 408.8,527.8 409.5,527.6 410.1,527.2 410.8,526.9 411.5,527.3 412.1,527.2 412.8,526.8 413.5,528.2 414.1,528.7 414.8,526 415.5,524 416.1,525.7 416.8,525.7 417.5,523.6 418.1,523 418.8,523.4 419.5,523.2 420.1,520 420.8,518.3 421.5,519.5 422.1,525.5 422.8,525.2 423.5,519.7 424.1,521.7 424.8,521.7 425.5,519.1 426.1,519.2 426.8,519.3 427.5,516 428.1,514.6 428.8,517.1 429.5,518.4 430.1,518.4 430.8,518.4 431.5,518 432.1,515.1 432.8,513.8 433.5,516.1 434.1,516.3 434.8,517 435.5,517.3 436.1,514.9 436.8,513.7 437.5,513.8 438.1,512.4 438.8,510.7 439.5,512 440.1,512.6 440.8,511.2 441.5,510.8 442.1,509.9 442.8,510.5 443.5,511.9 444.1,512.1 444.8,512 445.5,510.5 446.1,511.1 446.8,511.6 447.5,509.7 448.1,508.8 448.8,509.1 449.5,509.3 450.1,507.3 450.8,506.4 451.5,505.8 452.1,507.7 452.8,510.2 453.5,507.9 454.1,502.6 454.8,502.7 455.5,504.2 456.1,502.7 456.8,503.2 457.5,500.5 458.1,500.5 458.8,503.5 459.5,501.6 460.2,503 460.8,505.3 461.5,502.3 462.2,498.9 462.8,498.3 463.5,499.1 464.2,498.3 464.8,499.9 465.5,499.7 466.2,495.8 466.8,493.7 467.5,494.3 468.2,493.6 468.8,494.2 469.5,494.1 470.2,493.4 470.8,495.4 471.5,492.4 472.2,490.9 472.8,492.4 473.5,494.5 474.2,493.9 474.8,489.7 475.5,489.9 476.2,487.3 476.8,487.3 477.5,490.1 478.2,487.9 478.8,487.5 479.5,487.8 480.2,488.7 480.8,489.5 481.5,488 482.2,487.4 482.8,487.1 483.5,486.6 484.2,486 484.8,484.8 485.5,483.9 486.2,484.6 486.8,482.9 487.5,483.4 488.2,486.1 488.8,483.8 489.5,479.5 490.2,478.4 490.8,479.7 491.5,479.9 492.2,480.3 492.8,481.6 493.5,478 494.2,475.8 494.8,476.8 495.5,477.6 496.2,480 496.8,481.3 497.5,480.8 498.2,474.7 498.8,471.5 499.5,472.2 500.2,472.5 500.8,473.1 501.5,472.2 502.2,472.6 502.8,473.9 503.5,476.7 504.2,472.2 504.8,467.8 505.5,469.6 506.2,471.3 506.8,468.4 507.5,467.5 508.2,466.6 508.8,462.5 509.5,464.2 510.2,465.6 510.8,465.3 511.5,465.7 512.2,462.4 512.8,460.9 513.5,463.8 514.2,463.4 514.8,461.9 515.5,460.9 516.2,461 516.8,458.4 517.5,457.6 518.2,458.9 518.8,456.2 519.5,455.6 520.2,457.5 520.8,455.6 521.5,453.4 522.2,453.2 522.8,454.7 523.5,454.4 524.2,453.2 524.8,447.9 525.5,447 526.2,451.6 526.9,452.1 527.5,453.8 528.2,453.5 528.9,450.4 529.5,447.6 530.2,447.2 530.9,445.6 531.5,447.3 532.2,442.5 532.9,441.2 533.5,445.7 534.2,442.6 534.9,444 535.5,447.1 536.2,446.7 536.9,446 537.5,445.4 538.2,445.1 538.9,444.5 539.5,444 540.2,450.6 540.9,449.2 541.5,439.9 542.2,440.4 542.9,445.1 543.5,435 544.2,435.2 544.9,442.7 545.5,439.7 546.2,443.1 546.9,441.3 547.5,438.3 548.2,438.8 548.9,437.9 549.5,437.6 550.2,437.5 550.9,438.4 551.5,438.6 552.2,439.2 552.9,437.7 553.5,435 554.2,435.4 554.9,434.6 555.5,435.4 556.2,436.1 556.9,430.8 557.5,429.8 558.2,430.9 558.9,428.1 559.5,430.3 560.2,431.7 560.9,429.4 561.5,434.8 562.2,437.2 562.9,431.9 563.5,429 564.2,425.1 564.9,424.7 565.5,428.4 566.2,427.3 566.9,424.7 567.5,419.6 568.2,417.1 568.9,421.8 569.5,422.1 570.2,425 570.9,425.1 571.5,418.8 572.2,416.7 572.9,415.6 573.5,415.9 574.2,422.2 574.9,425.2 575.5,410.9 576.2,408.5 576.9,418 577.5,416.2 578.2,416.9 578.9,419.4 579.5,418.9 580.2,417.3 580.9,413.6 581.5,412 582.2,412.8 582.9,414.8 583.5,415.4 584.2,413.9 584.9,415.3 585.5,410.5 586.2,409.6 586.9,413.2 587.5,411.8 588.2,412.4 588.9,411.2 589.5,408.1 590.2,407.4 590.9,407.3 591.5,408.8 592.2,410 592.9,406.5 593.6,404.4 594.2,410.8 594.9,411.3 595.6,405.8 596.2,405.1 596.9,409.9 597.6,407.6 598.2,403.9 598.9,404.6 599.6,405.1 600.2,405 600.9,401.6 601.6,401.9 602.2,401.4 602.9,399.2 603.6,399.3 604.2,400.5 604.9,394.9 605.6,395.6 606.2,397.4 606.9,394.3 607.6,395.9 608.2,396.5 608.9,395.5 609.6,396 610.2,396.2 610.9,393 611.6,395.2 612.2,390.8 612.9,388.1 613.6,393.4 614.2,392.7 614.9,390.9 615.6,387.2 616.2,389.2 616.9,391.6 617.6,389.4 618.2,388 618.9,386.4 619.6,386.7 620.2,382.3 620.9,379.4 621.6,383.6 622.2,385.2 622.9,385 623.6,385.1 624.2,383.8 624.9,376.2 625.6,380.4 626.2,386.2 626.9,377.6 627.6,379.3 628.2,384.5 628.9,379 629.6,373.3 630.2,375.8 630.9,376.3 631.6,371.3 632.2,372.6 632.9,378.2 633.6,372.7 634.2,365.9 634.9,372.1 635.6,375.7 636.2,369.8 636.9,366.2 637.6,368.9 638.2,369.2 638.9,366.7 639.6,359.2 640.2,360.5 640.9,364.2 641.6,361 642.2,359.1 642.9,357.2 643.6,359.8 644.2,366.6 644.9,367.6 645.6,363.8 646.2,360.7 646.9,353.5 647.6,355 648.2,359.7 648.9,354.7 649.6,355.7 650.2,360.3 650.9,360.2 651.6,361.5 652.2,358.2 652.9,359.5 653.6,361.2 654.2,358.8 654.9,358.2 655.6,357 656.2,355 656.9,346.1 657.6,347.6 658.2,353.4 658.9,343.9 659.6,346.6 660.3,355.6 660.9,354.7 661.6,356.3 662.3,359.6 662.9,356.6 663.6,350 664.3,348 664.9,349.5 665.6,351.2 666.3,347.9 666.9,347.6 667.6,349.7 668.3,349.9 668.9,353.9 669.6,348.2 670.3,343.6 670.9,360.7 671.6,361.5 672.3,351 672.9,350.8 673.6,354.6 674.3,353.2 674.9,346 675.6,345.8 676.3,344.6 676.9,342.8 677.6,342.8 678.3,341.8 678.9,341.6 679.6,343.1 680.3,338.1 680.9,338.4 681.6,341.6 682.3,336.1 682.9,336.6 683.6,340.5 684.3,343 684.9,342.3 685.6,336.1 686.3,335.6 686.9,339.1 687.6,340.7 688.3,337.3 688.9,339.2 689.6,346 690.3,344.7 690.9,338.8 691.6,332.1 692.3,332.3 692.9,339 693.6,339 694.3,339.6 694.9,340 695.6,337.6 696.3,337.9 696.9,335.2 697.6,337.6 698.3,337.9 698.9,341 699.6,341.6 700.3,336.5 700.9,339.9 701.6,342 702.3,341.6 702.9,342.9 703.6,331.7 704.3,324.5 704.9,333 705.6,333 706.3,335.3 706.9,342 707.6,341 708.3,343 708.9,344.7 709.6,341.1 710.3,338.1 710.9,338 711.6,341 712.3,337 712.9,337.7 713.6,342.2 714.3,341.9 714.9,340.6 715.6,340.8 716.3,342.8 716.9,343 717.6,343.1 718.3,341.3 718.9,340.5 719.6,338.8 720.3,337.7 720.9,341.2 721.6,340.8 722.3,342.4 722.9,345.8 723.6,344.3 724.3,339.3 724.9,341 725.6,345.8 726.3,344 727,342.4 727.6,341.9 728.3,341.8 729,340.7 729.6,344.5 730.3,349.7 731,345.8 731.6,342.2 732.3,340.3 733,338.6 733.6,342 734.3,348.6 735,349.4 735.6,345.3 736.3,347.2 737,346.6 737.6,343.2 738.3,342.1 739,343.7 739.6,348.1 740.3,346.9 741,349.2 741.6,350.6 742.3,346.6 743,344.1 743.6,342 744.3,343.7 745,347 745.6,345 746.3,344 747,348.3 747.6,351.4 748.3,350.4 749,342.2 749.6,342 750.3,346.8 751,346.5 751.6,348.4 752.3,348.8 753,349.1 753.6,350 754.3,346.6 755,347.3 755.6,349.5 756.3,347.3 757,347.8 757.6,350.4 758.3,348.1 759,347.7 759.6,347.4 760.3,347.4 761,349.6 761.6,348.2 762.3,347.2 763,348.3 763.6,350.6 764.3,355.5 765,354.6 765.6,348.6 766.3,347.6 767,351.9 767.6,351.9 768.3,344.5 769,345.8 769.6,352.1 770.3,351.6 771,355.1 771.6,356.9 772.3,353.9 773,352.1 773.6,351.6 774.3,356.4 775,356.1 775.6,350.6 776.3,352.1 777,354.3 777.6,357.2 778.3,358.4 779,357 779.6,353.1 780.3,350.3 781,357.3 781.6,359 782.3,358.8 783,363.4 783.6,363.8 784.3,365.9 785,369.6 785.6,371.3 786.3,369.5 787,366.1 787.6,368 788.3,366.3 789,367.9 789.6,372.9 790.3,368.7 791,368 791.6,372.5 792.3,372.3 793,371.8 793.7,373.5 794.3,372.6 795,372.3 795.7,374 796.3,375 797,379.3 797.7,380.7 798.3,376.7 799,375.5 799.7,375.2 800.3,376.8 801,383.1 801.7,385.9 802.3,384 803,382.2 803.7,382.5 804.3,385.1 805,382.7 805.7,382.7 806.3,386.4 807,384.7 807.7,384 808.3,386.6 809,385.6 809.7,381 810.3,385.1 811,397.1 811.7,391.5 812.3,381 813,383.3 813.7,382.6 814.3,382.3 815,388.6 815.7,391.9 816.3,387.6 817,386.3 817.7,389.1 818.3,391.8 819,390.8 819.7,392.6 820.3,391.6 821,385.9 821.7,386.7 822.3,387.8 823,388.7 823.7,389.9 824.3,387.9 825,390.5 825.7,393.6 826.3,395.2 827,393.9 827.7,391.6 828.3,391.8 829,387.8 829.7,389.9 830.3,392.1 831,392.6 831.7,394.3 832.3,395.4 833,398.9 833.7,391.9 834.3,390.3 835,396.5 835.7,390.8 836.3,392 837,400.4 837.7,400.9 838.3,401.3 839,401.7 839.7,399.9 840.3,401.8 841,401.4 841.7,398.5 842.3,399.5 843,405.5 843.7,407.8 844.3,402.6 845,401.5 845.7,398.1 846.3,397.8 847,401.5 847.7,403.1 848.3,405.6 849,401 849.7,400 850.3,412.9 851,412 851.7,405.4 852.3,404.2 853,402.1 853.7,405.5 854.3,406.8 855,409 855.7,410.1 856.3,405.6 857,406 857.7,410.5 858.3,408.9 859,409.4 859.7,409 860.4,410.8 861,416.9 861.7,416.1 862.4,409.9 863,410 863.7,413.9 864.4,414 865,412.5 865.7,408.7 866.4,403.9 867,408 867.7,412.2 868.4,410.5 869,415.7 869.7,420.9 870.4,418.7 871,416.5 871.7,417.4 872.4,418.2 873,418 873.7,417.6 874.4,417.2 875,418 875.7,419.5 876.4,424.2 877,424.2 877.7,421.2 878.4,422.8 879,422.8 879.7,422 880.4,424.5 881,427.9 881.7,427.4 882.4,426.1 883,428.6 883.7,429.3 884.4,428.8 885,429.2 885.7,426.1 886.4,427.1 887,431.7 887.7,432.9 888.4,433.5 889,438.8 889.7,439.5 890.4,434.9 891,432.2 891.7,435.1 892.4,437.5 893,434.4 893.7,435.7 894.4,439.6 895,439.4 895.7,435.4 896.4,436.5 897,441.2 897.7,442.6 898.4,442.5 899,440.1 899.7,441.6 900.4,442.4 901,438.8 901.7,441.1 902.4,448 903,449.3 903.7,449 904.4,449.4 905,447.1 905.7,448.1 906.4,449.2 907,449 907.7,448.2 908.4,449 909,451.6 909.7,452 910.4,450.4 911,452.4 911.7,452.4 912.4,450.4 913,452.7 913.7,453.7 914.4,452.8 915,454.5 915.7,457.1 916.4,456.3 917,456.6 917.7,455.3 918.4,450.6 919,451.6 919.7,453.6 920.4,455.4 921,456.9 921.7,460.1 922.4,462.3 923,460.3 923.7,462 924.4,460.8 925,459.6 925.7,462.2 926.4,463.7 927.1,464.6 927.7,464.6 928.4,462.7 929.1,466.3 929.7,470.8 930.4,468.2 931.1,468.7 931.7,464.5 932.4,464.5 933.1,471.7 933.7,471.4 934.4,471.1 935.1,471.5 935.7,472.8 936.4,474.7 937.1,473.6 937.7,471.3 938.4,471.9 939.1,472.5 939.7,473.1 940.4,476.2 941.1,478 941.7,477.6 942.4,476.5 943.1,475.2 943.7,477.2 944.4,475.3 945.1,473.6 945.7,478.7 946.4,479.1 947.1,477.6 947.7,477.9 948.4,476 949.1,478.2 949.7,480.2 950.4,479.8 951.1,478.9 951.7,480.6 952.4,481.3 953.1,475.1 953.7,475.4 954.4,479.7 955.1,484.2 955.7,485.4 956.4,481.1 957.1,480.1 957.7,480.4 958.4,481.8 959.1,482 959.7,476.8 960.4,480 961.1,484.7 961.7,483.2 962.4,482.1 963.1,481.8 963.7,484 964.4,484 965.1,481.9 965.7,481.6 966.4,482.6 967.1,483.7 967.7,484.1 968.4,488.2 969.1,487.9 969.7,485.1 970.4,491 971.1,489.8 971.7,486.7 972.4,485.8 973.1,485.1 973.7,487.1 974.4,490.6 975.1,491.5 975.7,489.8 976.4,490.1 977.1,489 977.7,493.5 978.4,493.9 979.1,489.3 979.7,491.3 980.4,494.2 981.1,494.8 981.7,490.6 982.4,489.4 983.1,492.6 983.7,493.9 984.4,496.4 985.1,494.7 985.7,492.4 986.4,494.6 987.1,494.9 987.7,496.9 988.4,498.6 989.1,499.5 989.7,496.8 990.4,494.8 991.1,498.2 991.7,496.5 992.4,495.3 993.1,495.9 993.8,494.5 994.4,496.5 995.1,497.3 995.8,497.3 996.4,494.7 997.1,494.6 997.8,496.1 998.4,496 999.1,496.7 999.8,498.1 1000.4,499.3 1001.1,500.6 1001.8,501.9 1002.4,498.1 1003.1,498.7 1003.8,501 1004.4,499.1 1005.1,498.9 1005.8,500.1 1006.4,498.1 1007.1,498.7 1007.8,500.4 1008.4,501.4 1009.1,505.1 1009.8,503.7 1010.4,501.8 1011.1,503.2 1011.8,502.9 1012.4,503.4 1013.1,501.2 1013.8,503.2 1014.4,505.3 1015.1,502.9 1015.8,501.7 1016.4,501.4 1017.1,503.9 1017.8,505 1018.4,504.3 1019.1,503.7 1019.8,503.7 1020.4,505.1 1021.1,506.1 1021.8,506.4 1022.4,505.9 1023.1,507.1 1023.8,510 1024.4,510.3 1025.1,507.7 1025.8,507.3 1026.4,509.6 1027.1,509.8 1027.8,507.6 1028.4,507 1029.1,508.1 1029.8,507.4 1030.4,507.2 1031.1,512.6 1031.8,513 1032.4,509.1 1033.1,509.2 1033.8,509.7 1034.4,506.8 1035.1,506.4 1035.8,510.6 1036.4,511.3 1037.1,509.3 1037.8,508.9 1038.4,509.7 1039.1,512.2 1039.8,509.8 1040.4,508.2 1041.1,512.5 1041.8,515.1 1042.4,515.4 1043.1,513.7 1043.8,513.7 1044.4,514.3 1045.1,516.7 1045.8,516 1046.4,513.7 1047.1,514.2 1047.8,515.6 1048.4,516 1049.1,516.4 1049.8,515.8 1050.4,516.7 1051.1,518.2 1051.8,516.4 1052.4,518 1053.1,519.4 1053.8,518.5 1054.4,517.3 1055.1,515.8 1055.8,517.4 1056.4,517.6 1057.1,517.3 1057.8,517.7 1058.4,519.7 1059.1,521.3 1059.8,523.1 1060.5,522.7 1061.1,519.2 1061.8,519.9 1062.5,522 1063.1,521.4 1063.8,519.8 1064.5,520.7 1065.1,521 1065.8,520.9 1066.5,517.7 1067.1,517.5 1067.8,518.6 1068.5,517.3 1069.1,519.1 1069.8,521.9 1070.5,521.9 1071.1,521.3 1071.8,519.5 1072.5,518.6 1073.1,520.9 1073.8,520.7 1074.5,520.7 1075.1,522.5 1075.8,522.3 1076.5,520.9 1077.1,520.7 1077.8,520.9 1078.5,521.5 1079.1,519.5 1079.8,520.5 1080.5,520.6 1081.1,519 1081.8,521.4 1082.5,520.3 1083.1,520.7 1083.8,520.6 1084.5,519.7 1085.1,523.2 1085.8,524.4 1086.5,521.5 1087.1,520.9 1087.8,519.3 1088.5,517.4 1089.1,519.3 1089.8,522.1 1090.5,522.5 1091.1,520.2 1091.8,524.8 1092.5,527.2 1093.1,523.3 1093.8,523.9 1094.5,524 1095.1,522.3 1095.8,524.1 1096.5,521.6 1097.1,520.8 1097.8,523.7 1098.5,523.1 1099.1,524 1099.8,525.4 1100.5,524.3 1101.1,524.4 1101.8,525.6 1102.5,524.6 1103.1,524.3 1103.8,523.7 1104.5,522.5 1105.1,521.7 1105.8,523 1106.5,528.9 1107.1,531 1107.8,527.2 1108.5,528 1109.1,528.7 1109.8,524.6 1110.5,523.3 1111.1,526.8 1111.8,527.3 1112.5,525.1 1113.1,525.2 1113.8,524.8 1114.5,525.6 1115.1,528.3 1115.8,527.2 1116.5,523.8 1117.1,523.8 1117.8,526.4 1118.5,526.1 1119.1,530.4 1119.8,530.3 1120.5,525.6 1121.1,527.2 1121.8,526.2 1122.5,526.5 1123.1,527.5 1123.8,527.4 1124.5,527.7 1125.1,528.4 1125.8,526.5 1126.5,524.1 1127.2,525.9 1127.8,529.2 1128.5,529.7 1129.2,527.8 1129.8,526.9 1130.5,530.9 1131.2,532 1131.8,534.6 1132.5,535.1 1133.2,530.3 1133.8,531.1 1134.5,530.8 1135.2,532 1135.8,531.2 1136.5,530.4 1137.2,532.1 1137.8,534.7 1138.5,533.8 1139.2,530.7 1139.8,529.6 1140.5,529.5 1141.2,533.7 1141.8,535.5 1142.5,532.6 1143.2,530.2 1143.8,530.5 1144.5,531.3 1145.2,531.1 1145.8,529.5 1146.5,531.3 1147.2,533 1147.8,532.3 1148.5,533.4 1149.2,532 1149.8,531.5 1150.5,533.6 1151.2,530.9 1151.8,527.1 1152.5,531.4 1153.2,534.7 1153.8,532.3 1154.5,531.8 1155.2,534.8 1155.8,535.8 1156.5,533.9 1157.2,532.9 1157.8,532.2 1158.5,532.6 1159.2,532.6 1159.8,530.2 1160.5,530.1 1161.2,533.3 1161.8,533.3 1162.5,533.7 1163.2,533.9 1163.8,535.8 1164.5,535.3 1165.2,531.5 1165.8,535.7 1166.5,537.1 1167.2,534 1167.8,534.5 1168.5,532.8 1169.2,531 1169.8,531.3 1170.5,529.3 1171.2,529.7 1171.8,532.8 1172.5,532.7 1173.2,532.1 1173.8,533 1174.5,531.9 1175.2,531.1 1175.8,534.2 1176.5,536.1 1177.2,534.9 1177.8,534.3 1178.5,535.6 1179.2,535.7 1179.8,535.3 1180.5,534.3 1181.2,533.9 1181.8,535.1 1182.5,536.8 1183.2,536.6 1183.8,537.2 1184.5,535.8 1185.2,531.8 1185.8,533.2 1186.5,534.7 1187.2,534.6 1187.8,533.6 1188.5,532.6 1189.2,534.8 1189.8,539.4 1190.5,539.6 1191.2,536.4 1191.8,534.8 1192.5,533.4 1193.2,534.5 1193.9,534.3 1194.5,535 1195.2,536 1195.9,537 1196.5,537.6 1197.2,535.9 1197.9,536 1198.5,535.4 1199.2,535.1 1199.9,537 1200.5,537.3 1201.2,532.9 1201.9,533.2 1202.5,539.4 1203.2,539.3 1203.9,534.8 1204.5,532 1205.2,534.2 1205.9,536.9 1206.5,535.3 1207.2,534 1207.9,535.3 1208.5,536.7 1209.2,535.4 1209.9,536 1210.5,537.2 1211.2,536.8 1211.9,535.5 1212.5,535.8 1213.2,538.7 1213.9,537.9 1214.5,535.9 1215.2,535.5 1215.9,539.2 1216.5,540.5 1217.2,538 1217.9,537.7 1218.5,537.5 1219.2,537.3 1219.9,537.6 1220.5,540.6 1221.2,540.5 1221.9,538.2 1222.5,535.6 1223.2,535.1 1223.9,535.2 1224.5,535.4 1225.2,538 1225.9,538.3 1226.5,537 1227.2,539 1227.9,540 1228.5,537.6 1229.2,537.5 1229.9,537.8 1230.5,538.1 1231.2,537.1 1231.9,536.7 1232.5,537.5 1233.2,539.1 1233.9,538.7 1234.5,537.4 1235.2,535.1 1235.9,534.5 1236.5,537.5 1237.2,537.9 1237.9,538.5 1238.5,538.9 1239.2,536.5 1239.9,537.8 1240.5,539.3 1241.2,539.1 1241.9,538.4 1242.5,537.3 1243.2,537.1 1243.9,536.5 1244.5,537.1 1245.2,536.9 1245.9,537.2 1246.5,539 1247.2,539.9 1247.9,537.5 1248.5,536.8 1249.2,539.7 1249.9,539 1250.5,536.1 1251.2,537.4 1251.9,538.1 1252.5,537.5 1253.2,538.2 1253.9,537.8 1254.5,538.2 1255.2,538 1255.9,537.6 1256.5,538.4 1257.2,537.4 1257.9,536.9 1258.5,537.6 1259.2,538.5 1259.9,534.4 1260.6,533.7 1261.2,536.9 1261.9,537 1262.6,537.2 1263.2,536.4 1263.9,538.2 1264.6,538.3 1265.2,538.2 1265.9,538.7 1266.6,536.7 1267.2,535.2 1267.9,535.4 1268.6,537.4 1269.2,539.5 1269.9,539.9 1270.6,538.2 1271.2,537.2 1271.9,538.7 1272.6,538.1 1273.2,537.2 1273.9,537.3 1274.6,535.8 1275.2,536.6 1275.9,538.1 1276.6,538.2 1277.2,538.2 1277.9,538 1278.6,538.8 1279.2,538.3 1279.9,536.6 1280.6,538.2 1281.2,538.9 1281.9,538.3 1282.6,537.7 1283.2,536.1 1283.9,536 1284.6,536.8 1285.2,537.9 1285.9,538.2 1286.6,537.4 1287.2,538.2 1287.9,539.3 1288.6,537.1 1289.2,536.7 1289.9,536.6 1290.6,536.8 1291.2,538 1291.9,538.1 1292.6,538.5 1293.2,538.3 1293.9,537.1 1294.6,537.5 1295.2,538.2 1295.9,537.4 1296.6,539.6 1297.2,540.7 1297.9,537.4 1298.6,536.8 1299.2,536 1299.9,534.8 1300.6,537 1301.2,536 1301.9,537.1 1302.6,540.2 1303.2,539.1 1303.9,538.9 1304.6,539.9 1305.2,539.2 1305.9,540.2 1306.6,540.1 1307.2,537 1307.9,537.4 1308.6,538 1309.2,541.3 1309.9,542 1310.6,537.2 1311.2,536.8 1311.9,537.8 1312.6,537.8 1313.2,539.2 1313.9,539 1314.6,537.3 1315.2,537.2 1315.9,537 1316.6,535.3 1317.2,535.6 1317.9,539.1 1318.6,538.9 1319.2,537.5 1319.9,536.8 1320.6,538.2 1321.2,539.5 1321.9,538.5 1322.6,538.3 1323.2,536.8 1323.9,535.1 1324.6,537.9 1325.2,540.2 1325.9,539.2 1326.6,538.4 1327.3,538.2 1327.9,538.1 1328.6,537.4 1329.3,537.2 1329.9,537.6 1330.6,538.9 1331.3,539.1 1331.9,537.8 1332.6,537.3 1333.3,537.9 1333.9,537.6 1334.6,536.6 1335.3,538 1335.9,538.5 1336.6,536.5 1337.3,536.7 1337.9,540 1338.6,539.6 1339.3,538.2 1339.9,540.6 1340.6,539.5 1341.3,539.6 1341.9,540.7 1342.6,540.6 1343.3,540.4 1343.9,540.7 1344.6,541.7 1345.3,538.8 1345.9,536.4 1346.6,536.8 1347.3,538.8 1347.9,541.2 1348.6,541.6 1349.3,538.2 1349.9,534.2 1350.6,537.1 1351.3,540.4 1351.9,539 1352.6,537.4 1353.3,534.3 1353.9,535 1354.6,535.6 1355.3,535.4 1355.9,539.4 1356.6,538.4 1357.3,535.8 1357.9,538.2 1358.6,538.7 1359.3,537.3 1359.9,537.1 1360.6,536 1361.3,536.6 1361.9,537.9 1362.6,536 1363.3,539.5 1363.9,542.5 1364.6,537.5 1365.3,535.9 1365.9,535.8 1366.6,537.1 1367.3,538.1 1367.9,537.6 1368.6,537.1 1369.3,537.2 1369.9,538.5 1370.6,537.3 1371.3,536.1 1371.9,538.3 1372.6,538.2 1373.3,538.1 1373.9,538.5 1374.6,536.5 1375.3,536.7 1375.9,537.7 1376.6,536.2 1377.3,533.7 1377.9,535.5 1378.6,537.1 1379.3,536.7 1379.9,536.4 1380.6,537.2 1381.3,536 1381.9,535 1382.6,530.7 1383.3,531.6 1383.9,536.3 1384.6,537.7 1385.3,538 1385.9,537.9 1386.6,538.9 1387.3,536.8 1387.9,535.6 1388.6,535.5 1389.3,538.1 1389.9,537.9 1390.6,533.7 1391.3,533.4 1391.9,536.8 1392.6,539.3 1393.3,538.6 1394,533.5 1394.6,534.5 1395.3,536.7 1396,536 1396.6,536.9 1397.3,536 1398,534.5 1398.6,533.2 1399.3,536.9 1400,541 1400.6,538.3 1401.3,535.1 1402,534 1402.6,535.3 1403.3,539 1404,541.1 1404.6,540.1 1405.3,537.2 1406,536.2 1406.6,537 1407.3,535.7 1408,535.3 1408.6,535.8 1409.3,534.3 1410,535.4 1410.6,537.1 1411.3,536.4 1412,535.8 1412.6,535.6 1413.3,536.6 1414,537.7 1414.6,536.9 1415.3,534.7 1416,536.4 1416.6,537.8 1417.3,536.3 1418,535.9 1418.6,535.7 1419.3,535.1 1420,534.8 1420.6,537.2 1421.3,536.6 1422,536.1 1422.6,537.7 1423.3,536.7 1424,536.9 1424.6,539 1425.3,538.2 1426,536.5 1426.6,536.5 1427.3,535.5 1428,537.1 1428.6,538.7 1429.3,537.5 1430,536.5 1430.6,536.7 1431.3,536.9 1432,535.6 1432.6,534.5 1433.3,534.2 1434,535.7 1434.6,536 1435.3,536.7 1436,537.9 1436.6,537.5 1437.3,537.6 1438,537.8 1438.6,534.2 1439.3,533.7 1440,536.1 1440.6,536.1 1441.3,535.7 1442,534.9 1442.6,536.5 1443.3,537.1 1444,537.7 1444.6,535.9 1445.3,535.7 1446,538.1 1446.6,538.8 1447.3,539.4 1448,539.2 1448.6,537.2 1449.3,538.3 1450,537.9 1450.6,534.4 1451.3,535.4 1452,537.4 1452.6,538.3 1453.3,538.1 1454,539.2 1454.6,538.9 1455.3,537 1456,538.9 1456.6,538.9 1457.3,539.3 1458,540.2 1458.6,538.4 1459.3,537.9 1460,538.1 1460.7,539 1461.3,538.8 1462,537.7 1462.7,535.3 1463.3,535.3 1464,537.4 1464.7,538.5 1465.3,540.1 1466,538.4 1466.7,536.1 1467.3,538.9 1468,538.9 1468.7,536.8 1469.3,537.2 1470,538.3 1470.7,539.2 1471.3,538 1472,539.1 1472.7,540.3 1473.3,538.1 1474,538.4 1474.7,537.1 1475.3,536.4 1476,537.7 1476.7,537.1 1477.3,538 1478,540.7 1478.7,542.3 1479.3,540.4 1480,537.9 1480.7,536.2 1481.3,535.5 1482,536.7 1482.7,539.2 1483.3,539.4 1484,537.8 1484.7,539 1485.3,538.9 1486,538.1 1486.7,540.2 1487.3,538.2 1488,536.2 1488.7,537.4 1489.3,536.9 1490,535.5 1490.7,537.3 1491.3,539.6 1492,538.3 1492.7,538.4 1493.3,538.1 1494,538.2 1494.7,539.3 1495.3,536.8 1496,537 1496.7,537.8 1497.3,534.4 1498,535.3 1498.7,539.1 1499.3,541 1500,539.6 1500.7,537 1501.3,537.5 1502,538.9 1502.7,538.3 1503.3,538.4 1504,539.8 1504.7,539.8 1505.3,541.8 1506,542.4 1506.7,540.2 1507.3,540.4 1508,542.4 1508.7,542.3 1509.3,539.9 1510,538.2 1510.7,539.5 1511.3,540.2 1512,538.5 1512.7,537.8 1513.3,538.1 1514,541 1514.7,541.7 1515.3,541.8 1516,541 1516.7,539.4 1517.3,540 1518,540.4 1518.7,537.9 1519.3,536.1 1520,538.3 1520.7,539.5 1521.3,540.1 1522,539.8 1522.7,538.7 1523.3,539.4 1524,540.4 1524.7,540.4 1525.3,540.2 1526,541.6 1526.7,541.4 1527.4,539.6 1528,540.5 1528.7,539.9 1529.4,539.4 1530,539.9 1530.7,540.2 1531.4,539.2 1532,538.5 1532.7,540.3 1533.4,541.1 1534,540.5 1534.7,539.8 1535.4,539.5 1536,540.1 1536.7,540.5 1537.4,539.6 1538,538.9 1538.7,538.2 1539.4,538.5 1540,536.7 1540.7,536.8 1541.4,541.4 1542,540.1 1542.7,538.4 1543.4,540.3 1544,540.1 1544.7,537.9 1545.4,538.5 1546,539.2 1546.7,539.7 1547.4,541.7 1548,545.4 1548.7,544.3 1549.4,540.5 1550,542.9 1550.7,539.9 1551.4,538.3 1552,543.1 1552.7,542.5 1553.4,539.8 1554,542.8 1554.7,542.8 1555.4,540.1 1556,540 1556.7,538.7 1557.4,537.4 1558,537.7 1558.7,540.7 1559.4,542.2 1560,542 1560.7,542.5 1561.4,540.7 1562,539.6 1562.7,540.3 1563.4,540.2 1564,540.3 1564.7,537.8 1565.4,537.8 1566,541.1 1566.7,543.7 1567.4,543.5 1568,543.1 1568.7,541.8 1569.4,538.5 1570,539.9 1570.7,541.6 1571.4,542.7 1572,542.7 1572.7,542 1573.4,542.1 1574,541.7 1574.7,542.1 1575.4,543.5 1576,543.9 1576.7,543 1577.4,539.4 1578,540 1578.7,543.2 1579.4,543.2 1580,543.4 1580.7,542.9 1581.4,542.2 1582,541.8 1582.7,542.8 1583.4,542.9 1584,545.2 1584.7,545.6 1585.4,543.5 1586,544.1 1586.7,544.4 1587.4,545.8 1588,546.6 1588.7,545.7 1589.4,545.5 1590,547.7 1590.7,548.2 1591.4,547.9 1592,547.6 1592.7,545.8 1593.4,542.3 1594.1,540.7 1594.7,543.6 1595.4,543.6 1596.1,548.2 1596.7,550.4 1597.4,546.5 1598.1,547.1 1598.7,547.2 1599.4,545.9 1600.1,545.8 1600.7,546.1 1601.4,546.1 1602.1,546.4 1602.7,545.4 1603.4,544.8 1604.1,546.6 1604.7,549.1 1605.4,549 1606.1,546.7 1606.7,545.8 1607.4,545.7 1608.1,545.6 1608.7,546.5 1609.4,545 1610.1,540 1610.7,542.2 1611.4,546.6 1612.1,545.5 1612.7,547.3 1613.4,547.9 1614.1,548.5 1614.7,547.2 1615.4,548 1616.1,550.9 1616.7,547.4 1617.4,545.8 1618.1,547 1618.7,547.4 1619.4,547.5 1620.1,547.7 1620.7,546.6 1621.4,547.3 1622.1,548.6 1622.7,547.5 1623.4,547.5 1624.1,549.2 1624.7,545.8 1625.4,544.2 1626.1,545.8 1626.7,546.5 1627.4,547.5 1628.1,548.2 1628.7,549 1629.4,548.2 1630.1,547.8 1630.7,543.8 1631.4,542.6 1632.1,546 1632.7,546.7 1633.4,547.5 1634.1,547.1 1634.7,546.4 1635.4,548.1 1636.1,547.6 1636.7,547.6 1637.4,548.8 1638.1,548.5 1638.7,548.6 1639.4,548.3 1640.1,548.4 1640.7,547.4 1641.4,547 1642.1,547.5 1642.7,546.7 1643.4,548.1 1644.1,549 1644.7,548.5 1645.4,546.8 1646.1,547.7 1646.7,547.8 1647.4,548.8 1648.1,551.7 1648.7,549.8 1649.4,548.3 1650.1,549.6 1650.7,550.3 1651.4,550.6 1652.1,551.5 1652.7,550.4 1653.4,548.6 1654.1,547.9 1654.7,548.3 1655.4,546.7 1656.1,549.8 1656.7,552.1 1657.4,549.8 1658.1,549.5 1658.7,549.6 1659.4,550.1 1660.1,549.2 1660.8,549 1661.4,550.6 1662.1,550.3 1662.8,548.7 1663.4,550.1 1664.1,551.7 1664.8,550.8 1665.4,550.4 1666.1,548.6 1666.8,548.1 1667.4,548 1668.1,549.3 1668.8,553.5 1669.4,551.2 1670.1,544.8 1670.8,546.6 1671.4,551 1672.1,551 1672.8,550.7 1673.4,546.8 1674.1,546.1 1674.8,550.2 1675.4,551 1676.1,550.4 1676.8,553.6 1677.4,554.5 1678.1,552.8 1678.8,553.5 1679.4,548.9 1680.1,548.1 1680.8,550.6 1681.4,549.8 1682.1,550.4 1682.8,550.2 1683.4,551.4 1684.1,552 1684.8,551.4 1685.4,551 1686.1,551.4 1686.8,552.2 1687.4,552.8 1688.1,552.8 1688.8,552.9 1689.4,553.7 1690.1,552.5 1690.8,551.4 1691.4,551.2 1692.1,551.6 1692.8,552.1 1693.4,552.8 1694.1,552.7 1694.8,552.7 1695.4,552.5 1696.1,552.8 1696.8,553.9 1697.4,553.6 1698.1,553.4 1698.8,552.4 1699.4,552.1 1700.1,552.4 1700.8,553.8 1701.4,555.6 1702.1,554.3 1702.8,553.9 1703.4,553.7 1704.1,553.1 1704.8,553.4 1705.4,550.4 1706.1,550.5 1706.8,554.5 1707.4,553.6 1708.1,553.6 1708.8,555.1 1709.4,555.6 1710.1,554.3 1710.8,554.2 1711.4,555 1712.1,552.2 1712.8,552.8 1713.4,554.8 1714.1,554.5 1714.8,554.6 1715.4,555.3 1716.1,555.7 1716.8,555 1717.4,554.4 1718.1,555 1718.8,555.1 1719.4,555.7 1720.1,556.9 1720.8,557.4 1721.4,556.3 1722.1,555.2 1722.8,555.4 1723.4,555.8 1724.1,555.7 1724.8,555.8 1725.4,557.7 1726.1,557.9 1726.8,556.4 1727.5,557.3 1728.1,558.3 1728.8,557 1729.5,557.3 1730.1,557.1 1730.8,555.3 1731.5,555.6 1732.1,557.2 1732.8,556.8 1733.5,556.4 1734.1,557.1 1734.8,556.4 1735.5,556.1 1736.1,560 1736.8,558.6 1737.5,555.7 1738.1,556.1 1738.8,557.2 1739.5,558.8 1740.1,556.6 1740.8,556.2 1741.5,556.8 1742.1,552.9 1742.8,553.2 1743.5,557.6 1744.1,556.9 1744.8,556 1745.5,557.6 1746.1,559.7 1746.8,559.5 1747.5,560.4 1748.1,560.6 1748.8,558.6 1749.5,556.6 1750.1,556.7 1750.8,558.2 1751.5,558 1752.1,559.9 1752.8,557.8 1753.5,556.9 1754.1,558.9 1754.8,558 1755.5,559.5 1756.1,559.7 1756.8,558.2 1757.5,558.6 1758.1,559.1 1758.8,558.5 1759.5,555.9 1760.1,556.3 1760.8,560.8 1761.5,560.8 1762.1,557.6 1762.8,556.4 1763.5,557.5 1764.1,557.5 1764.8,558.2 1765.5,560.7 1766.1,559.9 1766.8,558.2 1767.5,559 1768.1,557.2 1768.8,556.9 1769.5,558.4 1770.1,558.6 1770.8,558.2 1771.5,558 1772.1,559.2 1772.8,558.9 1773.5,559.5 1774.1,559.9 1774.8,558.8 1775.5,558.8 1776.1,559.8 1776.8,558.3 1777.5,557.1 1778.1,556.3 1778.8,555 1779.5,558 1780.1,560.5 1780.8,559.9 1781.5,559.5 1782.1,560.1 1782.8,562.9 1783.5,560.6 1784.1,556.9 1784.8,559.7 1785.5,560.6 1786.1,559.8 1786.8,560.3 1787.5,560.3 1788.1,560.1 1788.8,558.9 1789.5,558 1790.1,559.2 1790.8,560.3 1791.5,558.2 1792.1,559.3 1792.8,562.3 1793.5,561.7 1794.2,560.5 1794.8,560.3 1795.5,560.6 1796.2,560.3 1796.8,559.1 1797.5,559 1798.2,560.6 1798.8,560.4 1799.5,559.4 1800.2,560.4 1800.8,559.7 1801.5,558 1802.2,558.4 1802.8,560.1 1803.5,561.6 1804.2,560.8 1804.8,559.9 1805.5,558.7 1806.2,558.4 1806.8,559.3 1807.5,560.4 1808.2,561.5 1808.8,560.5 1809.5,561 1810.2,564.4 1810.8,561.7 1811.5,559.4 1812.2,561.4 1812.8,560.2 1813.5,559.2 1814.2,559 1814.8,560.8 1815.5,561.8 1816.2,559.4 1816.8,558.3 1817.5,558.1 1818.2,559.4 1818.8,560.6 1819.5,563.3 1820.2,563.6 1820.8,561.7 1821.5,562.1 1822.2,560 1822.8,559.1 1823.5,559.8 1824.2,562 1824.8,561 1825.5,561.3 1826.2,562.9 1826.8,558 1827.5,560.6 1828.2,564 1828.8,561.3 1829.5,561.5 1830.2,562.4 1830.8,561 1831.5,560.4 1832.2,562.5 1832.8,561.9 1833.5,561.5 1834.2,562.5 1834.8,563.1 1835.5,563.1 1836.2,561 1836.8,561 1837.5,562.9 1838.2,563.3 1838.8,563.2 1839.5,566.3 1840.2,566.1 1840.8,561.8 1841.5,561.7 1842.2,561 1842.8,561.4 1843.5,562.1 1844.2,561 1844.8,562.7 1845.5,561.5 1846.2,561.2 1846.8,564.6 1847.5,564.1 1848.2,561.1 1848.8,560.8 1849.5,562.7 1850.2,563.5 1850.8,564.2 1851.5,564.7 1852.2,563.5 1852.8,562.1 1853.5,563.3 1854.2,562.8 1854.8,562.4 1855.5,562.1 1856.2,561.8 1856.8,563.5 1857.5,562.6 1858.2,559.8 1858.8,561.7 1859.5,566.3 1860.2,564.7 1860.9,562.1 1861.5,563.2 1862.2,563.1 1862.9,562 1863.5,562.6 1864.2,562.9 1864.9,562.8 1865.5,563.6 1866.2,561.9 1866.9,563.3 1867.5,565.3 1868.2,561.3 1868.9,562.1 1869.5,563.6 1870.2,562.6 1870.9,566.1 1871.5,566.1 1872.2,563.6 1872.9,564.7 1873.5,564.7 1874.2,563.9 1874.9,564.3 1875.5,567 1876.2,566.5 1876.9,563.9 1877.5,564.4 1878.2,564.4 1878.9,565.1 1879.5,565.7 1880.2,564.9 1880.9,565.2 1881.5,565.5 1882.2,564.8 1882.9,564 1883.5,561.1 1884.2,561.4 1884.9,564.8 1885.5,565.5 1886.2,564.7 1886.9,563.9 1887.5,563.5 1888.2,564.4 1888.9,564.9 1889.5,563.9 1890.2,564 1890.9,564.7 1891.5,565.4 1892.2,565.6 1892.9,566.6 1893.5,565.9 1894.2,563 1894.9,562.6 1895.5,564.7 1896.2,566.5 1896.9,566.6 1897.5,565.6 1898.2,564.9 1898.9,565.3 1899.5,566.1 1900.2,566 1900.9,565.7 1901.5,564 1902.2,564.9 1902.9,566.9 1903.5,568 1904.2,567.6 1904.9,565.5 1905.5,564.8 1906.2,565.1 1906.9,564.9 1907.5,568 1908.2,569.2 1908.9,566 1909.5,563.8 1910.2,562.5 1910.9,563.9 1911.5,565.6 1912.2,566.2 1912.9,566.1 1913.5,566.2 1914.2,565.9 1914.9,567.3 1915.5,565.8 1916.2,564.2 1916.9,565.7 1917.5,567 1918.2,568 1918.9,567.9 1919.5,567.1 1920.2,567.1 1920.9,566.4 1921.5,566.1 1922.2,567.2 1922.9,566.2 1923.5,564.8 1924.2,566.1 1924.9,569.4 1925.5,566.6 1926.2,565.2 1926.9,566.8 1927.6,565.8 1928.2,566.3 1928.9,566.5 1929.6,565.2 1930.2,565.6 1930.9,565.5 1931.6,565.2 1932.2,566.8 1932.9,569.3 1933.6,569.8 1934.2,567.1 1934.9,567.7 1935.6,567.4 1936.2,568.1 1936.9,572.4 1937.6,570.8 1938.2,567.4 1938.9,566.4 1939.6,566.4 1940.2,565.4 1940.9,565.5 1941.6,567.7 1942.2,568.3 1942.9,568.6 1943.6,568 1944.2,568 1944.9,567.6 1945.6,566.9 1946.2,566.3 1946.9,566.5 1947.6,566.9 1948.2,566.4 1948.9,567.6 1949.6,568.4 1950.2,567.5 1950.9,567 1951.6,567.6 1952.2,569.2 1952.9,569.3 1953.6,568.1 1954.2,567 1954.9,567.4 1955.6,568.1 1956.2,569.4 1956.9,569 1957.6,568 1958.2,568.9 1958.9,567.1 1959.6,567.3 1960.2,569.1 1960.9,566.8 1961.6,567.1 1962.2,569 1962.9,567.5 1963.6,567.2 1964.2,565.6 1964.9,566.1 1965.6,568.8 1966.2,568.2 1966.9,568.3 1967.6,569.2 1968.2,567 1968.9,565.9 1969.6,567.9 1970.2,567.3 1970.9,567.4 1971.6,568.1 1972.2,568.3 1972.9,567.2 1973.6,566.7 1974.2,568.4 1974.9,569.1 1975.6,568.5 1976.2,568.2 1976.9,568.1 1977.6,568 1978.2,568.7 1978.9,569.1 1979.6,568.8 1980.2,567.4 1980.9,568.3 1981.6,569.3 1982.2,568.2 1982.9,568.5 1983.6,568.5 1984.2,567.8 1984.9,567.5 1985.6,568.2 1986.2,568.6 1986.9,570.2 1987.6,569.6 1988.2,567.9 1988.9,571.1 1989.6,571.5 1990.2,568.8 1990.9,568.6"/>
</g>
<g fill="#000">
<rect x="156" y="43" width="7" height="1518"/>
<rect x="1989" y="43" width="6" height="1518"/>
<rect x="156" y="43" width="1839" height="7"/>
<rect x="156" y="1554" width="1839" height="7"/>
</g>
<g stroke="#000" stroke-linecap="round">
<line x1="159.50" y1="1561" x2="159.50" y2="1572.5" stroke-width="7"/>
<line x1="326.09" y1="1561" x2="326.09" y2="1586.5" stroke-width="6.5"/>
<line x1="492.68" y1="1561" x2="492.68" y2="1572.5" stroke-width="6.5"/>
<line x1="659.27" y1="1561" x2="659.27" y2="1586.5" stroke-width="6.5"/>
<line x1="825.86" y1="1561" x2="825.86" y2="1572.5" stroke-width="6.5"/>
<line x1="992.45" y1="1561" x2="992.45" y2="1586.5" stroke-width="6.5"/>
<line x1="1159.05" y1="1561" x2="1159.05" y2="1572.5" stroke-width="6.5"/>
<line x1="1325.64" y1="1561" x2="1325.64" y2="1586.5" stroke-width="6.5"/>
<line x1="1492.23" y1="1561" x2="1492.23" y2="1572.5" stroke-width="6.5"/>
<line x1="1658.82" y1="1561" x2="1658.82" y2="1586.5" stroke-width="6.5"/>
<line x1="1825.41" y1="1561" x2="1825.41" y2="1572.5" stroke-width="6.5"/>
<line x1="1992.00" y1="1561" x2="1992.00" y2="1586.5" stroke-width="6"/>
</g>
<line x1="1370" y1="98.4" x2="1547" y2="98.4" stroke="#000000" stroke-width="5"/>
<line x1="1370" y1="195.7" x2="1547" y2="195.7" stroke="#FF0000" stroke-width="5"/>
<line x1="1370" y1="293.0" x2="1547" y2="293.0" stroke="#0000FF" stroke-width="5"/>
<line x1="1370" y1="390.3" x2="1547" y2="390.3" stroke="#FF00FF" stroke-width="5"/>
<line x1="1370" y1="487.6" x2="1547" y2="487.6" stroke="#008000" stroke-width="5"/>
<g filter="url(#crisp)">
<text x="326.1" y="1658" text-anchor="middle" font-size="64">10</text>
<text x="659.3" y="1658" text-anchor="middle" font-size="64">20</text>
<text x="992.5" y="1658" text-anchor="middle" font-size="64">30</text>
<text x="1325.6" y="1658" text-anchor="middle" font-size="64">40</text>
<text x="1658.8" y="1658" text-anchor="middle" font-size="64">50</text>
<text x="1992.0" y="1658" text-anchor="middle" font-size="64">60</text>
<text transform="translate(1564.73,126.3) scale(0.9666,1.03)" font-size="80">PEF/Ge Ox</text>
<text transform="translate(1565.12,222.5) scale(0.9688,1.03)" font-size="80">PEF/Zr Is Ip</text>
<text transform="translate(1564.98,319.3) scale(0.9889,1.03)" font-size="80">PEF/Sb Ac</text>
<text transform="translate(1565.53,417.9) scale(0.9666,1.03)" font-size="80">PEF/Sb Ox</text>
<text transform="translate(1565.51,514.8) scale(0.9697,1.03)" font-size="80">PEF/Zr Pe</text>
<text transform="translate(812.00,1783.8) scale(0.9505,1.0)" font-size="80">2theta</text>
<text transform="translate(1049.21,1783.8) scale(0.9579,1.0)" font-size="80">(degree)</text>
<text transform="translate(100,1154.84) rotate(-90) scale(0.9773,1.01)" font-size="80">Intensity</text>
<text transform="translate(100,838.62) rotate(-90) scale(0.9846,1.01)" font-size="80">(counts)</text>
</g>
</svg>
</body></html>
